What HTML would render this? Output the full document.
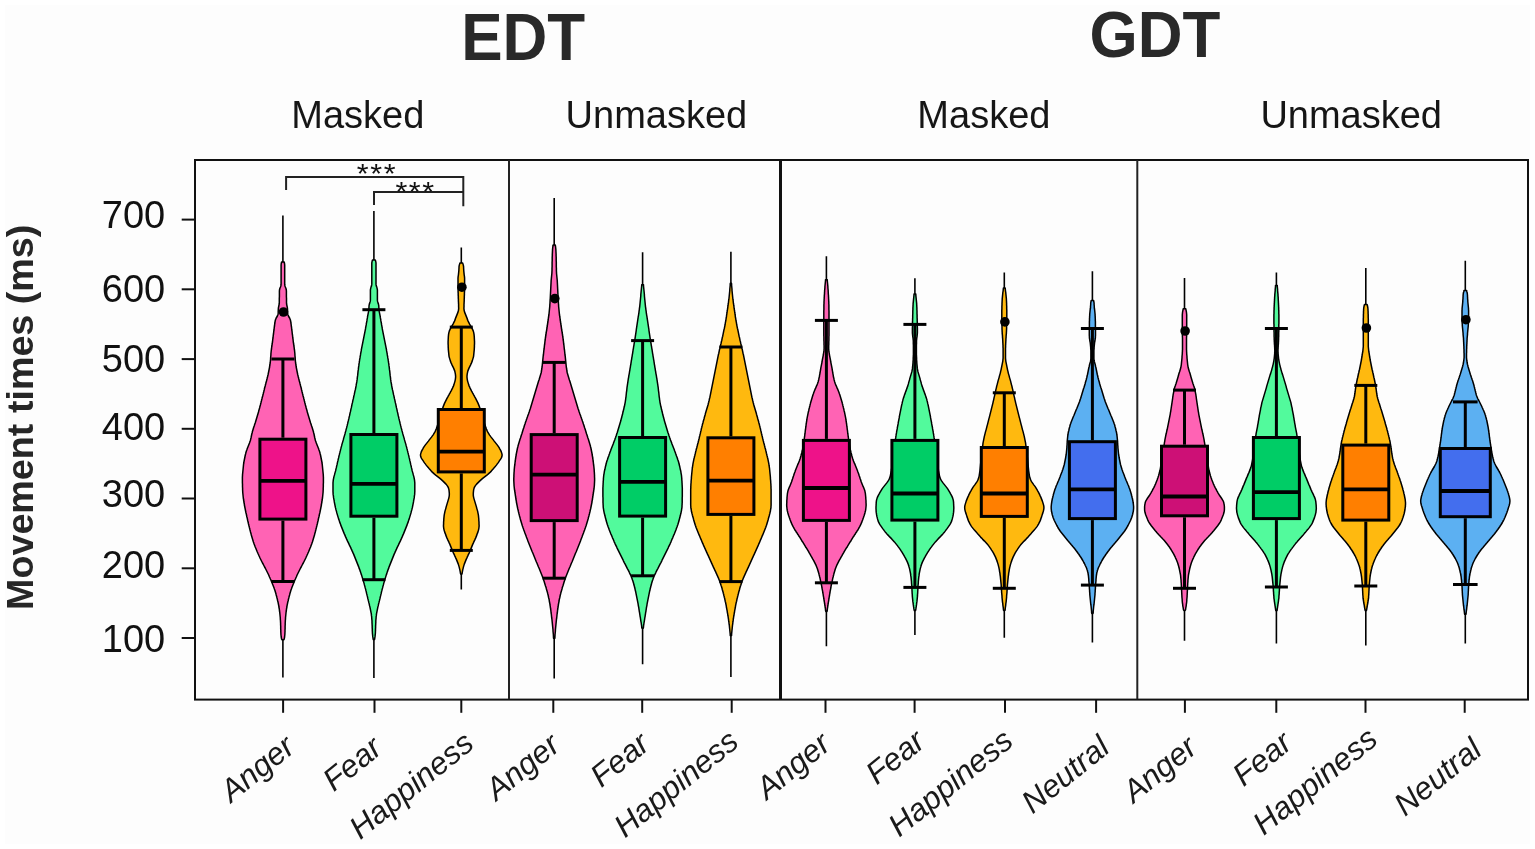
<!DOCTYPE html>
<html><head><meta charset="utf-8"><title>Movement times violin plot</title>
<style>html,body{margin:0;padding:0;background:#ffffff;overflow:hidden;}svg{display:block;}</style>
</head><body>
<svg width="1535" height="849" viewBox="0 0 1535 849" font-family="'Liberation Sans', sans-serif">
<rect x="0" y="0" width="1535" height="849" fill="#ffffff"/>
<rect x="5" y="5" width="1525" height="839" fill="#fdfdfd"/>
<text transform="translate(523.2,59.6) scale(1,1.07)" font-size="62" font-weight="bold" fill="#292929" text-anchor="middle">EDT</text>
<text transform="translate(1155,56.6) scale(1,1.055)" font-size="62" font-weight="bold" fill="#292929" text-anchor="middle">GDT</text>
<text x="357.8" y="127.8" font-size="38" fill="#161616" text-anchor="middle">Masked</text>
<text x="656.4" y="127.8" font-size="38" fill="#161616" text-anchor="middle">Unmasked</text>
<text x="983.9" y="127.8" font-size="38" fill="#161616" text-anchor="middle">Masked</text>
<text x="1351.2" y="127.8" font-size="38" fill="#161616" text-anchor="middle">Unmasked</text>
<text transform="translate(33.4,417.3) rotate(-90)" font-size="37.7" font-weight="bold" fill="#262626" text-anchor="middle">Movement times (ms)</text>
<line x1="181.7" y1="638.0" x2="195" y2="638.0" stroke="#111" stroke-width="2"/>
<text transform="translate(165.2,652.1) scale(1,1.03)" font-size="38" fill="#111" text-anchor="end">100</text>
<line x1="181.7" y1="568.3" x2="195" y2="568.3" stroke="#111" stroke-width="2"/>
<text transform="translate(165.2,577.6) scale(1,1.03)" font-size="38" fill="#111" text-anchor="end">200</text>
<line x1="181.7" y1="498.5" x2="195" y2="498.5" stroke="#111" stroke-width="2"/>
<text transform="translate(165.2,506.5) scale(1,1.03)" font-size="38" fill="#111" text-anchor="end">300</text>
<line x1="181.7" y1="428.8" x2="195" y2="428.8" stroke="#111" stroke-width="2"/>
<text transform="translate(165.2,440.4) scale(1,1.03)" font-size="38" fill="#111" text-anchor="end">400</text>
<line x1="181.7" y1="359.1" x2="195" y2="359.1" stroke="#111" stroke-width="2"/>
<text transform="translate(165.2,372.4) scale(1,1.03)" font-size="38" fill="#111" text-anchor="end">500</text>
<line x1="181.7" y1="289.3" x2="195" y2="289.3" stroke="#111" stroke-width="2"/>
<text transform="translate(165.2,302.4) scale(1,1.03)" font-size="38" fill="#111" text-anchor="end">600</text>
<line x1="181.7" y1="219.6" x2="195" y2="219.6" stroke="#111" stroke-width="2"/>
<text transform="translate(165.2,228.1) scale(1,1.03)" font-size="38" fill="#111" text-anchor="end">700</text>
<line x1="282.9" y1="215.6" x2="282.9" y2="677.5" stroke="#000" stroke-width="1.6"/>
<path d="M284.2,262.0 L284.4,263.0 L284.6,264.0 L284.7,265.0 L284.7,266.0 L284.7,267.0 L284.7,268.0 L284.7,269.0 L284.7,270.0 L284.7,271.0 L284.7,272.0 L284.7,273.0 L284.7,274.0 L284.7,275.0 L284.7,276.0 L284.7,277.0 L284.7,278.0 L284.7,279.0 L284.7,280.0 L284.7,281.0 L284.7,282.0 L284.7,283.0 L284.7,284.0 L284.8,285.0 L285.0,286.0 L285.3,287.0 L285.8,288.0 L286.1,289.0 L286.3,290.0 L286.4,291.0 L286.4,292.0 L286.4,293.0 L286.4,294.0 L286.4,295.0 L286.4,296.0 L286.4,297.0 L286.5,298.0 L286.5,299.0 L286.5,300.0 L286.5,301.0 L286.5,302.0 L286.5,303.0 L286.6,304.0 L286.8,305.0 L287.0,306.0 L287.2,307.0 L287.4,308.0 L287.5,309.0 L287.5,310.0 L287.6,311.0 L287.6,312.0 L287.6,313.0 L287.7,314.0 L288.0,315.0 L288.4,316.0 L289.0,317.0 L289.6,318.0 L290.0,319.0 L290.4,320.0 L290.6,321.0 L290.8,322.0 L290.9,323.0 L291.1,324.0 L291.2,325.0 L291.3,326.0 L291.5,327.0 L291.6,328.0 L291.7,329.0 L291.8,330.0 L292.0,331.0 L292.1,332.0 L292.2,333.0 L292.3,334.0 L292.5,335.0 L292.6,336.0 L292.7,337.0 L292.8,338.0 L293.0,339.0 L293.1,340.0 L293.2,341.0 L293.3,342.0 L293.5,343.0 L293.6,344.0 L293.8,345.0 L293.9,346.0 L294.1,347.0 L294.2,348.0 L294.3,349.0 L294.5,350.0 L294.6,351.0 L294.7,352.0 L294.8,353.0 L294.9,354.0 L294.9,355.0 L295.0,356.0 L295.1,357.0 L295.2,358.0 L295.2,359.0 L295.3,360.0 L295.4,361.0 L295.5,362.0 L295.6,363.0 L295.8,364.0 L295.9,365.0 L296.1,366.0 L296.2,367.0 L296.4,368.0 L296.6,369.0 L296.8,370.0 L297.0,371.0 L297.2,372.0 L297.4,373.0 L297.6,374.0 L297.8,375.0 L298.1,376.0 L298.3,377.0 L298.6,378.0 L298.8,379.0 L299.1,380.0 L299.3,381.0 L299.6,382.0 L299.9,383.0 L300.1,384.0 L300.4,385.0 L300.6,386.0 L300.9,387.0 L301.2,388.0 L301.4,389.0 L301.6,390.0 L301.9,391.0 L302.1,392.0 L302.4,393.0 L302.6,394.0 L302.9,395.0 L303.1,396.0 L303.4,397.0 L303.7,398.0 L303.9,399.0 L304.2,400.0 L304.4,401.0 L304.7,402.0 L304.9,403.0 L305.2,404.0 L305.4,405.0 L305.7,406.0 L306.0,407.0 L306.2,408.0 L306.5,409.0 L306.8,410.0 L307.1,411.0 L307.3,412.0 L307.6,413.0 L307.9,414.0 L308.2,415.0 L308.5,416.0 L308.8,417.0 L309.1,418.0 L309.4,419.0 L309.7,420.0 L310.0,421.0 L310.3,422.0 L310.6,423.0 L311.0,424.0 L311.3,425.0 L311.6,426.0 L312.0,427.0 L312.3,428.0 L312.6,429.0 L312.9,430.0 L313.2,431.0 L313.5,432.0 L313.7,433.0 L314.0,434.0 L314.2,435.0 L314.4,436.0 L314.6,437.0 L314.8,438.0 L315.1,439.0 L315.3,440.0 L315.6,441.0 L316.0,442.0 L316.3,443.0 L316.7,444.0 L317.1,445.0 L317.5,446.0 L317.9,447.0 L318.3,448.0 L318.7,449.0 L319.0,450.0 L319.4,451.0 L319.7,452.0 L320.0,453.0 L320.2,454.0 L320.5,455.0 L320.7,456.0 L320.9,457.0 L321.1,458.0 L321.3,459.0 L321.5,460.0 L321.7,461.0 L321.9,462.0 L322.0,463.0 L322.2,464.0 L322.3,465.0 L322.4,466.0 L322.5,467.0 L322.6,468.0 L322.7,469.0 L322.8,470.0 L322.9,471.0 L323.0,472.0 L323.1,473.0 L323.2,474.0 L323.3,475.0 L323.3,476.0 L323.4,477.0 L323.4,478.0 L323.4,479.0 L323.4,480.0 L323.4,481.0 L323.4,482.0 L323.4,483.0 L323.3,484.0 L323.3,485.0 L323.3,486.0 L323.3,487.0 L323.2,488.0 L323.2,489.0 L323.2,490.0 L323.1,491.0 L323.1,492.0 L323.0,493.0 L322.9,494.0 L322.8,495.0 L322.7,496.0 L322.6,497.0 L322.5,498.0 L322.3,499.0 L322.2,500.0 L322.0,501.0 L321.9,502.0 L321.7,503.0 L321.5,504.0 L321.4,505.0 L321.2,506.0 L321.0,507.0 L320.8,508.0 L320.6,509.0 L320.4,510.0 L320.2,511.0 L320.0,512.0 L319.8,513.0 L319.5,514.0 L319.3,515.0 L319.1,516.0 L318.9,517.0 L318.6,518.0 L318.4,519.0 L318.2,520.0 L318.0,521.0 L317.7,522.0 L317.5,523.0 L317.3,524.0 L317.0,525.0 L316.8,526.0 L316.5,527.0 L316.3,528.0 L316.0,529.0 L315.8,530.0 L315.5,531.0 L315.3,532.0 L315.0,533.0 L314.7,534.0 L314.5,535.0 L314.2,536.0 L313.9,537.0 L313.6,538.0 L313.3,539.0 L313.0,540.0 L312.7,541.0 L312.4,542.0 L312.0,543.0 L311.7,544.0 L311.3,545.0 L310.9,546.0 L310.6,547.0 L310.1,548.0 L309.7,549.0 L309.3,550.0 L308.9,551.0 L308.5,552.0 L308.0,553.0 L307.6,554.0 L307.1,555.0 L306.7,556.0 L306.2,557.0 L305.8,558.0 L305.3,559.0 L304.8,560.0 L304.3,561.0 L303.8,562.0 L303.3,563.0 L302.7,564.0 L302.2,565.0 L301.7,566.0 L301.2,567.0 L300.6,568.0 L300.1,569.0 L299.6,570.0 L299.1,571.0 L298.6,572.0 L298.1,573.0 L297.6,574.0 L297.1,575.0 L296.7,576.0 L296.3,577.0 L295.8,578.0 L295.4,579.0 L294.9,580.0 L294.5,581.0 L294.1,582.0 L293.7,583.0 L293.3,584.0 L292.9,585.0 L292.5,586.0 L292.1,587.0 L291.7,588.0 L291.4,589.0 L291.0,590.0 L290.7,591.0 L290.4,592.0 L290.1,593.0 L289.8,594.0 L289.6,595.0 L289.3,596.0 L289.0,597.0 L288.8,598.0 L288.5,599.0 L288.3,600.0 L288.1,601.0 L287.8,602.0 L287.6,603.0 L287.4,604.0 L287.2,605.0 L287.0,606.0 L286.9,607.0 L286.7,608.0 L286.5,609.0 L286.4,610.0 L286.3,611.0 L286.1,612.0 L286.0,613.0 L285.9,614.0 L285.8,615.0 L285.7,616.0 L285.6,617.0 L285.5,618.0 L285.5,619.0 L285.4,620.0 L285.3,621.0 L285.3,622.0 L285.2,623.0 L285.2,624.0 L285.2,625.0 L285.1,626.0 L285.1,627.0 L285.1,628.0 L285.1,629.0 L285.0,630.0 L285.0,631.0 L285.0,632.0 L284.9,633.0 L284.9,634.0 L284.8,635.0 L284.7,636.0 L284.6,637.0 L284.4,638.0 L284.2,639.0 L283.7,639.8 L282.1,639.8 L281.6,639.0 L281.4,638.0 L281.2,637.0 L281.1,636.0 L281.0,635.0 L280.9,634.0 L280.9,633.0 L280.8,632.0 L280.8,631.0 L280.8,630.0 L280.7,629.0 L280.7,628.0 L280.7,627.0 L280.7,626.0 L280.6,625.0 L280.6,624.0 L280.6,623.0 L280.5,622.0 L280.5,621.0 L280.4,620.0 L280.3,619.0 L280.3,618.0 L280.2,617.0 L280.1,616.0 L280.0,615.0 L279.9,614.0 L279.8,613.0 L279.7,612.0 L279.5,611.0 L279.4,610.0 L279.3,609.0 L279.1,608.0 L278.9,607.0 L278.8,606.0 L278.6,605.0 L278.4,604.0 L278.2,603.0 L278.0,602.0 L277.7,601.0 L277.5,600.0 L277.3,599.0 L277.0,598.0 L276.8,597.0 L276.5,596.0 L276.2,595.0 L276.0,594.0 L275.7,593.0 L275.4,592.0 L275.1,591.0 L274.8,590.0 L274.4,589.0 L274.1,588.0 L273.7,587.0 L273.3,586.0 L272.9,585.0 L272.5,584.0 L272.1,583.0 L271.7,582.0 L271.3,581.0 L270.9,580.0 L270.4,579.0 L270.0,578.0 L269.5,577.0 L269.1,576.0 L268.7,575.0 L268.2,574.0 L267.7,573.0 L267.2,572.0 L266.7,571.0 L266.2,570.0 L265.7,569.0 L265.2,568.0 L264.6,567.0 L264.1,566.0 L263.6,565.0 L263.1,564.0 L262.5,563.0 L262.0,562.0 L261.5,561.0 L261.0,560.0 L260.5,559.0 L260.0,558.0 L259.6,557.0 L259.1,556.0 L258.7,555.0 L258.2,554.0 L257.8,553.0 L257.3,552.0 L256.9,551.0 L256.5,550.0 L256.1,549.0 L255.7,548.0 L255.2,547.0 L254.9,546.0 L254.5,545.0 L254.1,544.0 L253.8,543.0 L253.4,542.0 L253.1,541.0 L252.8,540.0 L252.5,539.0 L252.2,538.0 L251.9,537.0 L251.6,536.0 L251.3,535.0 L251.1,534.0 L250.8,533.0 L250.5,532.0 L250.3,531.0 L250.0,530.0 L249.8,529.0 L249.5,528.0 L249.3,527.0 L249.0,526.0 L248.8,525.0 L248.5,524.0 L248.3,523.0 L248.1,522.0 L247.8,521.0 L247.6,520.0 L247.4,519.0 L247.2,518.0 L246.9,517.0 L246.7,516.0 L246.5,515.0 L246.3,514.0 L246.0,513.0 L245.8,512.0 L245.6,511.0 L245.4,510.0 L245.2,509.0 L245.0,508.0 L244.8,507.0 L244.6,506.0 L244.4,505.0 L244.3,504.0 L244.1,503.0 L243.9,502.0 L243.8,501.0 L243.6,500.0 L243.5,499.0 L243.3,498.0 L243.2,497.0 L243.1,496.0 L243.0,495.0 L242.9,494.0 L242.8,493.0 L242.7,492.0 L242.7,491.0 L242.6,490.0 L242.6,489.0 L242.6,488.0 L242.5,487.0 L242.5,486.0 L242.5,485.0 L242.5,484.0 L242.4,483.0 L242.4,482.0 L242.4,481.0 L242.4,480.0 L242.4,479.0 L242.4,478.0 L242.4,477.0 L242.5,476.0 L242.5,475.0 L242.6,474.0 L242.7,473.0 L242.8,472.0 L242.9,471.0 L243.0,470.0 L243.1,469.0 L243.2,468.0 L243.3,467.0 L243.4,466.0 L243.5,465.0 L243.6,464.0 L243.8,463.0 L243.9,462.0 L244.1,461.0 L244.3,460.0 L244.5,459.0 L244.7,458.0 L244.9,457.0 L245.1,456.0 L245.3,455.0 L245.6,454.0 L245.8,453.0 L246.1,452.0 L246.4,451.0 L246.8,450.0 L247.1,449.0 L247.5,448.0 L247.9,447.0 L248.3,446.0 L248.7,445.0 L249.1,444.0 L249.5,443.0 L249.8,442.0 L250.2,441.0 L250.5,440.0 L250.7,439.0 L251.0,438.0 L251.2,437.0 L251.4,436.0 L251.6,435.0 L251.8,434.0 L252.1,433.0 L252.3,432.0 L252.6,431.0 L252.9,430.0 L253.2,429.0 L253.5,428.0 L253.8,427.0 L254.2,426.0 L254.5,425.0 L254.8,424.0 L255.2,423.0 L255.5,422.0 L255.8,421.0 L256.1,420.0 L256.4,419.0 L256.7,418.0 L257.0,417.0 L257.3,416.0 L257.6,415.0 L257.9,414.0 L258.2,413.0 L258.5,412.0 L258.7,411.0 L259.0,410.0 L259.3,409.0 L259.6,408.0 L259.8,407.0 L260.1,406.0 L260.4,405.0 L260.6,404.0 L260.9,403.0 L261.1,402.0 L261.4,401.0 L261.6,400.0 L261.9,399.0 L262.1,398.0 L262.4,397.0 L262.7,396.0 L262.9,395.0 L263.2,394.0 L263.4,393.0 L263.7,392.0 L263.9,391.0 L264.2,390.0 L264.4,389.0 L264.6,388.0 L264.9,387.0 L265.2,386.0 L265.4,385.0 L265.7,384.0 L265.9,383.0 L266.2,382.0 L266.5,381.0 L266.7,380.0 L267.0,379.0 L267.2,378.0 L267.5,377.0 L267.7,376.0 L268.0,375.0 L268.2,374.0 L268.4,373.0 L268.6,372.0 L268.8,371.0 L269.0,370.0 L269.2,369.0 L269.4,368.0 L269.6,367.0 L269.7,366.0 L269.9,365.0 L270.0,364.0 L270.2,363.0 L270.3,362.0 L270.4,361.0 L270.5,360.0 L270.6,359.0 L270.6,358.0 L270.7,357.0 L270.8,356.0 L270.9,355.0 L270.9,354.0 L271.0,353.0 L271.1,352.0 L271.2,351.0 L271.3,350.0 L271.5,349.0 L271.6,348.0 L271.7,347.0 L271.9,346.0 L272.0,345.0 L272.2,344.0 L272.3,343.0 L272.5,342.0 L272.6,341.0 L272.7,340.0 L272.8,339.0 L273.0,338.0 L273.1,337.0 L273.2,336.0 L273.3,335.0 L273.5,334.0 L273.6,333.0 L273.7,332.0 L273.8,331.0 L274.0,330.0 L274.1,329.0 L274.2,328.0 L274.3,327.0 L274.5,326.0 L274.6,325.0 L274.7,324.0 L274.9,323.0 L275.0,322.0 L275.2,321.0 L275.4,320.0 L275.8,319.0 L276.2,318.0 L276.8,317.0 L277.4,316.0 L277.8,315.0 L278.1,314.0 L278.2,313.0 L278.2,312.0 L278.2,311.0 L278.3,310.0 L278.3,309.0 L278.4,308.0 L278.6,307.0 L278.8,306.0 L279.0,305.0 L279.2,304.0 L279.3,303.0 L279.3,302.0 L279.3,301.0 L279.3,300.0 L279.3,299.0 L279.3,298.0 L279.4,297.0 L279.4,296.0 L279.4,295.0 L279.4,294.0 L279.4,293.0 L279.4,292.0 L279.4,291.0 L279.5,290.0 L279.7,289.0 L280.0,288.0 L280.5,287.0 L280.8,286.0 L281.0,285.0 L281.1,284.0 L281.1,283.0 L281.1,282.0 L281.1,281.0 L281.1,280.0 L281.1,279.0 L281.1,278.0 L281.1,277.0 L281.1,276.0 L281.1,275.0 L281.1,274.0 L281.1,273.0 L281.1,272.0 L281.1,271.0 L281.1,270.0 L281.1,269.0 L281.1,268.0 L281.1,267.0 L281.1,266.0 L281.1,265.0 L281.2,264.0 L281.4,263.0 L281.6,262.0 Z" fill="#ff63b4" stroke="#000" stroke-width="1.5" stroke-linejoin="round"/>
<line x1="282.9" y1="359.0" x2="282.9" y2="437.7" stroke="#000" stroke-width="3"/>
<line x1="282.9" y1="520.6" x2="282.9" y2="581.5" stroke="#000" stroke-width="3"/>
<line x1="271.4" y1="359.0" x2="294.4" y2="359.0" stroke="#000" stroke-width="3"/>
<line x1="271.4" y1="581.5" x2="294.4" y2="581.5" stroke="#000" stroke-width="3"/>
<rect x="259.9" y="439.2" width="46.0" height="79.9" fill="#ee1289" stroke="#000" stroke-width="3"/>
<line x1="259.9" y1="480.8" x2="305.9" y2="480.8" stroke="#000" stroke-width="3.8"/>
<circle cx="283.5" cy="312.0" r="4.8" fill="#000"/>
<line x1="373.9" y1="211.0" x2="373.9" y2="678.0" stroke="#000" stroke-width="1.6"/>
<path d="M375.3,259.9 L375.6,260.9 L375.8,261.9 L376.0,262.9 L376.0,263.9 L376.0,264.9 L376.0,265.9 L376.0,266.9 L376.0,267.9 L376.0,268.9 L376.0,269.9 L376.0,270.9 L376.0,271.9 L376.0,272.9 L376.0,273.9 L376.0,274.9 L376.0,275.9 L376.0,276.9 L376.0,277.9 L376.0,278.9 L376.0,279.9 L376.0,280.9 L376.0,281.9 L376.0,282.9 L376.0,283.9 L376.1,284.9 L376.3,285.9 L376.7,286.9 L377.0,287.9 L377.2,288.9 L377.4,289.9 L377.4,290.9 L377.4,291.9 L377.4,292.9 L377.4,293.9 L377.4,294.9 L377.4,295.9 L377.4,296.9 L377.4,297.9 L377.4,298.9 L377.4,299.9 L377.5,300.9 L377.7,301.9 L378.0,302.9 L378.4,303.9 L378.6,304.9 L378.8,305.9 L378.8,306.9 L378.9,307.9 L378.9,308.9 L379.0,309.9 L379.2,310.9 L379.3,311.9 L379.5,312.9 L379.7,313.9 L379.9,314.9 L380.1,315.9 L380.3,316.9 L380.4,317.9 L380.6,318.9 L380.8,319.9 L380.9,320.9 L381.1,321.9 L381.3,322.9 L381.5,323.9 L381.6,324.9 L381.8,325.9 L382.0,326.9 L382.2,327.9 L382.3,328.9 L382.5,329.9 L382.7,330.9 L382.9,331.9 L383.1,332.9 L383.3,333.9 L383.5,334.9 L383.7,335.9 L383.9,336.9 L384.1,337.9 L384.3,338.9 L384.5,339.9 L384.7,340.9 L384.9,341.9 L385.1,342.9 L385.3,343.9 L385.5,344.9 L385.7,345.9 L385.9,346.9 L386.1,347.9 L386.3,348.9 L386.5,349.9 L386.6,350.9 L386.8,351.9 L387.0,352.9 L387.2,353.9 L387.3,354.9 L387.5,355.9 L387.7,356.9 L387.8,357.9 L388.0,358.9 L388.2,359.9 L388.3,360.9 L388.5,361.9 L388.6,362.9 L388.8,363.9 L388.9,364.9 L389.0,365.9 L389.2,366.9 L389.3,367.9 L389.4,368.9 L389.5,369.9 L389.7,370.9 L389.8,371.9 L389.9,372.9 L390.0,373.9 L390.1,374.9 L390.2,375.9 L390.4,376.9 L390.5,377.9 L390.6,378.9 L390.7,379.9 L390.9,380.9 L391.0,381.9 L391.2,382.9 L391.4,383.9 L391.6,384.9 L391.7,385.9 L391.9,386.9 L392.1,387.9 L392.3,388.9 L392.5,389.9 L392.8,390.9 L393.0,391.9 L393.2,392.9 L393.4,393.9 L393.6,394.9 L393.9,395.9 L394.1,396.9 L394.3,397.9 L394.5,398.9 L394.8,399.9 L395.0,400.9 L395.2,401.9 L395.4,402.9 L395.7,403.9 L395.9,404.9 L396.1,405.9 L396.3,406.9 L396.5,407.9 L396.8,408.9 L397.0,409.9 L397.2,410.9 L397.4,411.9 L397.7,412.9 L397.9,413.9 L398.1,414.9 L398.3,415.9 L398.6,416.9 L398.8,417.9 L399.0,418.9 L399.3,419.9 L399.5,420.9 L399.8,421.9 L400.0,422.9 L400.2,423.9 L400.5,424.9 L400.7,425.9 L401.0,426.9 L401.2,427.9 L401.5,428.9 L401.8,429.9 L402.0,430.9 L402.3,431.9 L402.6,432.9 L402.8,433.9 L403.1,434.9 L403.4,435.9 L403.7,436.9 L404.0,437.9 L404.3,438.9 L404.5,439.9 L404.8,440.9 L405.1,441.9 L405.4,442.9 L405.7,443.9 L406.0,444.9 L406.2,445.9 L406.5,446.9 L406.8,447.9 L407.0,448.9 L407.3,449.9 L407.5,450.9 L407.8,451.9 L408.0,452.9 L408.3,453.9 L408.5,454.9 L408.8,455.9 L409.0,456.9 L409.2,457.9 L409.5,458.9 L409.7,459.9 L409.9,460.9 L410.2,461.9 L410.4,462.9 L410.6,463.9 L410.8,464.9 L411.1,465.9 L411.3,466.9 L411.5,467.9 L411.8,468.9 L412.0,469.9 L412.2,470.9 L412.5,471.9 L412.8,472.9 L413.1,473.9 L413.3,474.9 L413.6,475.9 L413.9,476.9 L414.1,477.9 L414.3,478.9 L414.5,479.9 L414.6,480.9 L414.7,481.9 L414.8,482.9 L414.8,483.9 L414.8,484.9 L414.8,485.9 L414.8,486.9 L414.8,487.9 L414.8,488.9 L414.8,489.9 L414.8,490.9 L414.8,491.9 L414.7,492.9 L414.7,493.9 L414.6,494.9 L414.4,495.9 L414.3,496.9 L414.2,497.9 L414.0,498.9 L413.8,499.9 L413.6,500.9 L413.5,501.9 L413.3,502.9 L413.1,503.9 L412.9,504.9 L412.7,505.9 L412.5,506.9 L412.3,507.9 L412.0,508.9 L411.8,509.9 L411.5,510.9 L411.2,511.9 L411.0,512.9 L410.7,513.9 L410.4,514.9 L410.1,515.9 L409.8,516.9 L409.5,517.9 L409.2,518.9 L408.8,519.9 L408.5,520.9 L408.2,521.9 L407.8,522.9 L407.4,523.9 L407.1,524.9 L406.7,525.9 L406.3,526.9 L405.9,527.9 L405.5,528.9 L405.1,529.9 L404.7,530.9 L404.3,531.9 L403.9,532.9 L403.5,533.9 L403.0,534.9 L402.6,535.9 L402.2,536.9 L401.7,537.9 L401.3,538.9 L400.8,539.9 L400.4,540.9 L399.9,541.9 L399.4,542.9 L398.9,543.9 L398.5,544.9 L398.0,545.9 L397.5,546.9 L397.0,547.9 L396.6,548.9 L396.1,549.9 L395.7,550.9 L395.2,551.9 L394.8,552.9 L394.3,553.9 L393.9,554.9 L393.5,555.9 L393.1,556.9 L392.7,557.9 L392.3,558.9 L391.9,559.9 L391.5,560.9 L391.1,561.9 L390.7,562.9 L390.3,563.9 L389.9,564.9 L389.5,565.9 L389.1,566.9 L388.8,567.9 L388.4,568.9 L388.0,569.9 L387.7,570.9 L387.3,571.9 L387.0,572.9 L386.7,573.9 L386.3,574.9 L386.0,575.9 L385.7,576.9 L385.4,577.9 L385.1,578.9 L384.8,579.9 L384.5,580.9 L384.2,581.9 L383.9,582.9 L383.6,583.9 L383.4,584.9 L383.1,585.9 L382.8,586.9 L382.6,587.9 L382.3,588.9 L382.0,589.9 L381.8,590.9 L381.5,591.9 L381.3,592.9 L381.1,593.9 L380.8,594.9 L380.6,595.9 L380.3,596.9 L380.1,597.9 L379.9,598.9 L379.6,599.9 L379.4,600.9 L379.1,601.9 L378.9,602.9 L378.6,603.9 L378.4,604.9 L378.2,605.9 L377.9,606.9 L377.7,607.9 L377.5,608.9 L377.3,609.9 L377.1,610.9 L376.9,611.9 L376.7,612.9 L376.5,613.9 L376.4,614.9 L376.3,615.9 L376.1,616.9 L376.1,617.9 L376.0,618.9 L375.9,619.9 L375.8,620.9 L375.8,621.9 L375.8,622.9 L375.7,623.9 L375.7,624.9 L375.6,625.9 L375.6,626.9 L375.6,627.9 L375.5,628.9 L375.5,629.9 L375.5,630.9 L375.4,631.9 L375.4,632.9 L375.3,633.9 L375.2,634.9 L375.1,635.9 L375.0,636.9 L374.8,637.9 L374.7,638.9 L374.5,639.5 L373.3,639.5 L373.1,638.9 L373.0,637.9 L372.8,636.9 L372.7,635.9 L372.6,634.9 L372.5,633.9 L372.4,632.9 L372.4,631.9 L372.3,630.9 L372.3,629.9 L372.3,628.9 L372.2,627.9 L372.2,626.9 L372.2,625.9 L372.1,624.9 L372.1,623.9 L372.0,622.9 L372.0,621.9 L372.0,620.9 L371.9,619.9 L371.8,618.9 L371.7,617.9 L371.7,616.9 L371.5,615.9 L371.4,614.9 L371.3,613.9 L371.1,612.9 L370.9,611.9 L370.7,610.9 L370.5,609.9 L370.3,608.9 L370.1,607.9 L369.9,606.9 L369.6,605.9 L369.4,604.9 L369.2,603.9 L368.9,602.9 L368.7,601.9 L368.4,600.9 L368.2,599.9 L367.9,598.9 L367.7,597.9 L367.5,596.9 L367.2,595.9 L367.0,594.9 L366.7,593.9 L366.5,592.9 L366.3,591.9 L366.0,590.9 L365.8,589.9 L365.5,588.9 L365.2,587.9 L365.0,586.9 L364.7,585.9 L364.4,584.9 L364.2,583.9 L363.9,582.9 L363.6,581.9 L363.3,580.9 L363.0,579.9 L362.7,578.9 L362.4,577.9 L362.1,576.9 L361.8,575.9 L361.5,574.9 L361.1,573.9 L360.8,572.9 L360.5,571.9 L360.1,570.9 L359.8,569.9 L359.4,568.9 L359.0,567.9 L358.7,566.9 L358.3,565.9 L357.9,564.9 L357.5,563.9 L357.1,562.9 L356.7,561.9 L356.3,560.9 L355.9,559.9 L355.5,558.9 L355.1,557.9 L354.7,556.9 L354.3,555.9 L353.9,554.9 L353.5,553.9 L353.0,552.9 L352.6,551.9 L352.1,550.9 L351.7,549.9 L351.2,548.9 L350.8,547.9 L350.3,546.9 L349.8,545.9 L349.3,544.9 L348.9,543.9 L348.4,542.9 L347.9,541.9 L347.4,540.9 L347.0,539.9 L346.5,538.9 L346.1,537.9 L345.6,536.9 L345.2,535.9 L344.8,534.9 L344.3,533.9 L343.9,532.9 L343.5,531.9 L343.1,530.9 L342.7,529.9 L342.3,528.9 L341.9,527.9 L341.5,526.9 L341.1,525.9 L340.7,524.9 L340.4,523.9 L340.0,522.9 L339.6,521.9 L339.3,520.9 L339.0,519.9 L338.6,518.9 L338.3,517.9 L338.0,516.9 L337.7,515.9 L337.4,514.9 L337.1,513.9 L336.8,512.9 L336.6,511.9 L336.3,510.9 L336.0,509.9 L335.8,508.9 L335.5,507.9 L335.3,506.9 L335.1,505.9 L334.9,504.9 L334.7,503.9 L334.5,502.9 L334.3,501.9 L334.2,500.9 L334.0,499.9 L333.8,498.9 L333.6,497.9 L333.5,496.9 L333.4,495.9 L333.2,494.9 L333.1,493.9 L333.1,492.9 L333.0,491.9 L333.0,490.9 L333.0,489.9 L333.0,488.9 L333.0,487.9 L333.0,486.9 L333.0,485.9 L333.0,484.9 L333.0,483.9 L333.0,482.9 L333.1,481.9 L333.2,480.9 L333.3,479.9 L333.5,478.9 L333.7,477.9 L333.9,476.9 L334.2,475.9 L334.5,474.9 L334.7,473.9 L335.0,472.9 L335.3,471.9 L335.6,470.9 L335.8,469.9 L336.0,468.9 L336.3,467.9 L336.5,466.9 L336.7,465.9 L337.0,464.9 L337.2,463.9 L337.4,462.9 L337.6,461.9 L337.9,460.9 L338.1,459.9 L338.3,458.9 L338.6,457.9 L338.8,456.9 L339.0,455.9 L339.3,454.9 L339.5,453.9 L339.8,452.9 L340.0,451.9 L340.3,450.9 L340.5,449.9 L340.8,448.9 L341.0,447.9 L341.3,446.9 L341.6,445.9 L341.8,444.9 L342.1,443.9 L342.4,442.9 L342.7,441.9 L343.0,440.9 L343.3,439.9 L343.5,438.9 L343.8,437.9 L344.1,436.9 L344.4,435.9 L344.7,434.9 L345.0,433.9 L345.2,432.9 L345.5,431.9 L345.8,430.9 L346.0,429.9 L346.3,428.9 L346.6,427.9 L346.8,426.9 L347.1,425.9 L347.3,424.9 L347.6,423.9 L347.8,422.9 L348.0,421.9 L348.3,420.9 L348.5,419.9 L348.8,418.9 L349.0,417.9 L349.2,416.9 L349.5,415.9 L349.7,414.9 L349.9,413.9 L350.1,412.9 L350.4,411.9 L350.6,410.9 L350.8,409.9 L351.0,408.9 L351.3,407.9 L351.5,406.9 L351.7,405.9 L351.9,404.9 L352.1,403.9 L352.4,402.9 L352.6,401.9 L352.8,400.9 L353.0,399.9 L353.3,398.9 L353.5,397.9 L353.7,396.9 L353.9,395.9 L354.2,394.9 L354.4,393.9 L354.6,392.9 L354.8,391.9 L355.0,390.9 L355.3,389.9 L355.5,388.9 L355.7,387.9 L355.9,386.9 L356.1,385.9 L356.2,384.9 L356.4,383.9 L356.6,382.9 L356.8,381.9 L356.9,380.9 L357.1,379.9 L357.2,378.9 L357.3,377.9 L357.4,376.9 L357.6,375.9 L357.7,374.9 L357.8,373.9 L357.9,372.9 L358.0,371.9 L358.1,370.9 L358.3,369.9 L358.4,368.9 L358.5,367.9 L358.6,366.9 L358.8,365.9 L358.9,364.9 L359.0,363.9 L359.2,362.9 L359.3,361.9 L359.5,360.9 L359.6,359.9 L359.8,358.9 L360.0,357.9 L360.1,356.9 L360.3,355.9 L360.5,354.9 L360.6,353.9 L360.8,352.9 L361.0,351.9 L361.2,350.9 L361.3,349.9 L361.5,348.9 L361.7,347.9 L361.9,346.9 L362.1,345.9 L362.3,344.9 L362.5,343.9 L362.7,342.9 L362.9,341.9 L363.1,340.9 L363.3,339.9 L363.5,338.9 L363.7,337.9 L363.9,336.9 L364.1,335.9 L364.3,334.9 L364.5,333.9 L364.7,332.9 L364.9,331.9 L365.1,330.9 L365.3,329.9 L365.5,328.9 L365.6,327.9 L365.8,326.9 L366.0,325.9 L366.2,324.9 L366.3,323.9 L366.5,322.9 L366.7,321.9 L366.9,320.9 L367.0,319.9 L367.2,318.9 L367.4,317.9 L367.5,316.9 L367.7,315.9 L367.9,314.9 L368.1,313.9 L368.3,312.9 L368.5,311.9 L368.6,310.9 L368.8,309.9 L368.9,308.9 L368.9,307.9 L369.0,306.9 L369.0,305.9 L369.2,304.9 L369.4,303.9 L369.8,302.9 L370.1,301.9 L370.3,300.9 L370.4,299.9 L370.4,298.9 L370.4,297.9 L370.4,296.9 L370.4,295.9 L370.4,294.9 L370.4,293.9 L370.4,292.9 L370.4,291.9 L370.4,290.9 L370.4,289.9 L370.6,288.9 L370.8,287.9 L371.1,286.9 L371.5,285.9 L371.7,284.9 L371.8,283.9 L371.8,282.9 L371.8,281.9 L371.8,280.9 L371.8,279.9 L371.8,278.9 L371.8,277.9 L371.8,276.9 L371.8,275.9 L371.8,274.9 L371.8,273.9 L371.8,272.9 L371.8,271.9 L371.8,270.9 L371.8,269.9 L371.8,268.9 L371.8,267.9 L371.8,266.9 L371.8,265.9 L371.8,264.9 L371.8,263.9 L371.8,262.9 L372.0,261.9 L372.2,260.9 L372.5,259.9 Z" fill="#52fa9c" stroke="#000" stroke-width="1.5" stroke-linejoin="round"/>
<line x1="373.9" y1="309.7" x2="373.9" y2="433.0" stroke="#000" stroke-width="3"/>
<line x1="373.9" y1="517.7" x2="373.9" y2="579.7" stroke="#000" stroke-width="3"/>
<line x1="362.4" y1="309.7" x2="385.4" y2="309.7" stroke="#000" stroke-width="3"/>
<line x1="362.4" y1="579.7" x2="385.4" y2="579.7" stroke="#000" stroke-width="3"/>
<rect x="350.9" y="434.5" width="46.0" height="81.7" fill="#00cd66" stroke="#000" stroke-width="3"/>
<line x1="350.9" y1="483.8" x2="396.9" y2="483.8" stroke="#000" stroke-width="3.8"/>
<line x1="461.3" y1="247.4" x2="461.3" y2="589.4" stroke="#000" stroke-width="1.6"/>
<path d="M462.7,263.1 L463.0,264.1 L463.3,265.1 L463.5,266.1 L463.6,267.1 L463.6,268.1 L463.7,269.1 L463.7,270.1 L463.8,271.1 L463.9,272.1 L464.0,273.1 L464.1,274.1 L464.2,275.1 L464.4,276.1 L464.5,277.1 L464.6,278.1 L464.6,279.1 L464.6,280.1 L464.6,281.1 L464.6,282.1 L464.6,283.1 L464.6,284.1 L464.6,285.1 L464.6,286.1 L464.6,287.1 L464.6,288.1 L464.6,289.1 L464.5,290.1 L464.5,291.1 L464.5,292.1 L464.4,293.1 L464.4,294.1 L464.4,295.1 L464.3,296.1 L464.3,297.1 L464.3,298.1 L464.2,299.1 L464.2,300.1 L464.2,301.1 L464.1,302.1 L464.1,303.1 L464.0,304.1 L464.0,305.1 L464.0,306.1 L464.0,307.1 L463.9,308.1 L464.0,309.1 L464.1,310.1 L464.3,311.1 L464.6,312.1 L465.0,313.1 L465.4,314.1 L465.8,315.1 L466.2,316.1 L466.6,317.1 L467.0,318.1 L467.3,319.1 L467.7,320.1 L468.1,321.1 L468.6,322.1 L469.1,323.1 L469.6,324.1 L470.2,325.1 L470.8,326.1 L471.3,327.1 L471.9,328.1 L472.4,329.1 L472.9,330.1 L473.3,331.1 L473.6,332.1 L473.8,333.1 L474.0,334.1 L474.1,335.1 L474.2,336.1 L474.3,337.1 L474.3,338.1 L474.4,339.1 L474.4,340.1 L474.5,341.1 L474.5,342.1 L474.5,343.1 L474.5,344.1 L474.4,345.1 L474.4,346.1 L474.4,347.1 L474.3,348.1 L474.3,349.1 L474.2,350.1 L474.1,351.1 L474.0,352.1 L473.9,353.1 L473.8,354.1 L473.7,355.1 L473.6,356.1 L473.4,357.1 L473.1,358.1 L472.8,359.1 L472.5,360.1 L472.2,361.1 L471.8,362.1 L471.4,363.1 L470.9,364.1 L470.5,365.1 L470.0,366.1 L469.5,367.1 L469.0,368.1 L468.6,369.1 L468.2,370.1 L467.8,371.1 L467.6,372.1 L467.4,373.1 L467.2,374.1 L467.1,375.1 L467.0,376.1 L467.0,377.1 L467.1,378.1 L467.2,379.1 L467.4,380.1 L467.6,381.1 L467.9,382.1 L468.2,383.1 L468.5,384.1 L468.8,385.1 L469.2,386.1 L469.7,387.1 L470.1,388.1 L470.6,389.1 L471.1,390.1 L471.6,391.1 L472.2,392.1 L472.7,393.1 L473.3,394.1 L473.8,395.1 L474.4,396.1 L474.9,397.1 L475.5,398.1 L476.0,399.1 L476.5,400.1 L477.0,401.1 L477.5,402.1 L478.0,403.1 L478.4,404.1 L478.8,405.1 L479.2,406.1 L479.5,407.1 L479.9,408.1 L480.2,409.1 L480.5,410.1 L480.7,411.1 L481.0,412.1 L481.3,413.1 L481.6,414.1 L481.9,415.1 L482.1,416.1 L482.4,417.1 L482.7,418.1 L483.0,419.1 L483.3,420.1 L483.7,421.1 L484.0,422.1 L484.3,423.1 L484.6,424.1 L485.0,425.1 L485.3,426.1 L485.7,427.1 L486.0,428.1 L486.4,429.1 L486.9,430.1 L487.3,431.1 L487.8,432.1 L488.4,433.1 L489.0,434.1 L489.6,435.1 L490.4,436.1 L491.1,437.1 L491.9,438.1 L492.7,439.1 L493.5,440.1 L494.2,441.1 L495.0,442.1 L495.8,443.1 L496.6,444.1 L497.4,445.1 L498.1,446.1 L498.8,447.1 L499.4,448.1 L499.9,449.1 L500.5,450.1 L501.0,451.1 L501.4,452.1 L501.7,453.1 L502.0,454.1 L502.1,455.1 L502.0,456.1 L501.7,457.1 L501.2,458.1 L500.6,459.1 L499.9,460.1 L499.2,461.1 L498.6,462.1 L497.9,463.1 L497.1,464.1 L496.4,465.1 L495.6,466.1 L494.8,467.1 L493.9,468.1 L493.1,469.1 L492.2,470.1 L491.3,471.1 L490.3,472.1 L489.2,473.1 L488.1,474.1 L486.9,475.1 L485.6,476.1 L484.3,477.1 L483.0,478.1 L481.8,479.1 L480.7,480.1 L479.6,481.1 L478.6,482.1 L477.6,483.1 L476.6,484.1 L475.8,485.1 L475.1,486.1 L474.5,487.1 L474.1,488.1 L473.8,489.1 L473.6,490.1 L473.5,491.1 L473.4,492.1 L473.3,493.1 L473.3,494.1 L473.3,495.1 L473.4,496.1 L473.6,497.1 L473.8,498.1 L474.1,499.1 L474.4,500.1 L474.7,501.1 L475.0,502.1 L475.3,503.1 L475.6,504.1 L475.9,505.1 L476.2,506.1 L476.5,507.1 L476.7,508.1 L477.0,509.1 L477.3,510.1 L477.6,511.1 L477.8,512.1 L478.0,513.1 L478.2,514.1 L478.4,515.1 L478.5,516.1 L478.6,517.1 L478.7,518.1 L478.8,519.1 L478.8,520.1 L478.9,521.1 L479.0,522.1 L479.0,523.1 L479.0,524.1 L479.1,525.1 L479.1,526.1 L479.0,527.1 L478.9,528.1 L478.7,529.1 L478.5,530.1 L478.2,531.1 L477.9,532.1 L477.5,533.1 L477.1,534.1 L476.8,535.1 L476.4,536.1 L476.0,537.1 L475.6,538.1 L475.1,539.1 L474.7,540.1 L474.2,541.1 L473.7,542.1 L473.3,543.1 L472.8,544.1 L472.4,545.1 L472.0,546.1 L471.6,547.1 L471.2,548.1 L470.8,549.1 L470.4,550.1 L470.0,551.1 L469.5,552.1 L469.1,553.1 L468.6,554.1 L468.1,555.1 L467.7,556.1 L467.2,557.1 L466.8,558.1 L466.3,559.1 L465.9,560.1 L465.5,561.1 L465.1,562.1 L464.7,563.1 L464.3,564.1 L464.0,565.1 L463.7,566.1 L463.4,567.1 L463.2,568.1 L462.9,569.1 L462.7,570.1 L462.5,571.1 L462.3,572.1 L462.2,573.1 L461.9,574.1 L460.7,574.1 L460.4,573.1 L460.3,572.1 L460.1,571.1 L459.9,570.1 L459.7,569.1 L459.4,568.1 L459.2,567.1 L458.9,566.1 L458.6,565.1 L458.3,564.1 L457.9,563.1 L457.5,562.1 L457.1,561.1 L456.7,560.1 L456.3,559.1 L455.8,558.1 L455.4,557.1 L454.9,556.1 L454.5,555.1 L454.0,554.1 L453.5,553.1 L453.1,552.1 L452.6,551.1 L452.2,550.1 L451.8,549.1 L451.4,548.1 L451.0,547.1 L450.6,546.1 L450.2,545.1 L449.8,544.1 L449.3,543.1 L448.9,542.1 L448.4,541.1 L447.9,540.1 L447.5,539.1 L447.0,538.1 L446.6,537.1 L446.2,536.1 L445.8,535.1 L445.5,534.1 L445.1,533.1 L444.7,532.1 L444.4,531.1 L444.1,530.1 L443.9,529.1 L443.7,528.1 L443.6,527.1 L443.5,526.1 L443.5,525.1 L443.6,524.1 L443.6,523.1 L443.6,522.1 L443.7,521.1 L443.8,520.1 L443.8,519.1 L443.9,518.1 L444.0,517.1 L444.1,516.1 L444.2,515.1 L444.4,514.1 L444.6,513.1 L444.8,512.1 L445.0,511.1 L445.3,510.1 L445.6,509.1 L445.9,508.1 L446.1,507.1 L446.4,506.1 L446.7,505.1 L447.0,504.1 L447.3,503.1 L447.6,502.1 L447.9,501.1 L448.2,500.1 L448.5,499.1 L448.8,498.1 L449.0,497.1 L449.2,496.1 L449.3,495.1 L449.3,494.1 L449.3,493.1 L449.2,492.1 L449.1,491.1 L449.0,490.1 L448.8,489.1 L448.5,488.1 L448.1,487.1 L447.5,486.1 L446.8,485.1 L446.0,484.1 L445.0,483.1 L444.0,482.1 L443.0,481.1 L441.9,480.1 L440.8,479.1 L439.6,478.1 L438.3,477.1 L437.0,476.1 L435.7,475.1 L434.5,474.1 L433.4,473.1 L432.3,472.1 L431.3,471.1 L430.4,470.1 L429.5,469.1 L428.7,468.1 L427.8,467.1 L427.0,466.1 L426.2,465.1 L425.5,464.1 L424.7,463.1 L424.0,462.1 L423.4,461.1 L422.7,460.1 L422.0,459.1 L421.4,458.1 L420.9,457.1 L420.6,456.1 L420.5,455.1 L420.6,454.1 L420.9,453.1 L421.2,452.1 L421.6,451.1 L422.1,450.1 L422.7,449.1 L423.2,448.1 L423.8,447.1 L424.5,446.1 L425.2,445.1 L426.0,444.1 L426.8,443.1 L427.6,442.1 L428.4,441.1 L429.1,440.1 L429.9,439.1 L430.7,438.1 L431.5,437.1 L432.2,436.1 L433.0,435.1 L433.6,434.1 L434.2,433.1 L434.8,432.1 L435.3,431.1 L435.7,430.1 L436.2,429.1 L436.6,428.1 L436.9,427.1 L437.3,426.1 L437.6,425.1 L438.0,424.1 L438.3,423.1 L438.6,422.1 L438.9,421.1 L439.3,420.1 L439.6,419.1 L439.9,418.1 L440.2,417.1 L440.5,416.1 L440.7,415.1 L441.0,414.1 L441.3,413.1 L441.6,412.1 L441.9,411.1 L442.1,410.1 L442.4,409.1 L442.7,408.1 L443.1,407.1 L443.4,406.1 L443.8,405.1 L444.2,404.1 L444.6,403.1 L445.1,402.1 L445.6,401.1 L446.1,400.1 L446.6,399.1 L447.1,398.1 L447.7,397.1 L448.2,396.1 L448.8,395.1 L449.3,394.1 L449.9,393.1 L450.4,392.1 L451.0,391.1 L451.5,390.1 L452.0,389.1 L452.5,388.1 L452.9,387.1 L453.4,386.1 L453.8,385.1 L454.1,384.1 L454.4,383.1 L454.7,382.1 L455.0,381.1 L455.2,380.1 L455.4,379.1 L455.5,378.1 L455.6,377.1 L455.6,376.1 L455.5,375.1 L455.4,374.1 L455.2,373.1 L455.0,372.1 L454.8,371.1 L454.4,370.1 L454.0,369.1 L453.6,368.1 L453.1,367.1 L452.6,366.1 L452.1,365.1 L451.7,364.1 L451.2,363.1 L450.8,362.1 L450.4,361.1 L450.1,360.1 L449.8,359.1 L449.5,358.1 L449.2,357.1 L449.0,356.1 L448.9,355.1 L448.8,354.1 L448.7,353.1 L448.6,352.1 L448.5,351.1 L448.4,350.1 L448.3,349.1 L448.3,348.1 L448.2,347.1 L448.2,346.1 L448.2,345.1 L448.1,344.1 L448.1,343.1 L448.1,342.1 L448.1,341.1 L448.2,340.1 L448.2,339.1 L448.3,338.1 L448.3,337.1 L448.4,336.1 L448.5,335.1 L448.6,334.1 L448.8,333.1 L449.0,332.1 L449.3,331.1 L449.7,330.1 L450.2,329.1 L450.7,328.1 L451.3,327.1 L451.8,326.1 L452.4,325.1 L453.0,324.1 L453.5,323.1 L454.0,322.1 L454.5,321.1 L454.9,320.1 L455.3,319.1 L455.6,318.1 L456.0,317.1 L456.4,316.1 L456.8,315.1 L457.2,314.1 L457.6,313.1 L458.0,312.1 L458.3,311.1 L458.5,310.1 L458.6,309.1 L458.7,308.1 L458.6,307.1 L458.6,306.1 L458.6,305.1 L458.6,304.1 L458.5,303.1 L458.5,302.1 L458.4,301.1 L458.4,300.1 L458.4,299.1 L458.3,298.1 L458.3,297.1 L458.3,296.1 L458.2,295.1 L458.2,294.1 L458.2,293.1 L458.1,292.1 L458.1,291.1 L458.1,290.1 L458.0,289.1 L458.0,288.1 L458.0,287.1 L458.0,286.1 L458.0,285.1 L458.0,284.1 L458.0,283.1 L458.0,282.1 L458.0,281.1 L458.0,280.1 L458.0,279.1 L458.0,278.1 L458.1,277.1 L458.2,276.1 L458.4,275.1 L458.5,274.1 L458.6,273.1 L458.7,272.1 L458.8,271.1 L458.9,270.1 L458.9,269.1 L459.0,268.1 L459.0,267.1 L459.1,266.1 L459.3,265.1 L459.6,264.1 L459.9,263.1 Z" fill="#ffb90f" stroke="#000" stroke-width="1.5" stroke-linejoin="round"/>
<line x1="461.3" y1="327.1" x2="461.3" y2="408.0" stroke="#000" stroke-width="3"/>
<line x1="461.3" y1="473.4" x2="461.3" y2="550.4" stroke="#000" stroke-width="3"/>
<line x1="449.8" y1="327.1" x2="472.8" y2="327.1" stroke="#000" stroke-width="3"/>
<line x1="449.8" y1="550.4" x2="472.8" y2="550.4" stroke="#000" stroke-width="3"/>
<rect x="438.3" y="409.5" width="46.0" height="62.4" fill="#ff7f00" stroke="#000" stroke-width="3"/>
<line x1="438.3" y1="451.6" x2="484.3" y2="451.6" stroke="#000" stroke-width="3.8"/>
<circle cx="461.9" cy="287.2" r="4.8" fill="#000"/>
<line x1="554.2" y1="197.9" x2="554.2" y2="678.4" stroke="#000" stroke-width="1.6"/>
<path d="M555.3,245.0 L555.4,246.0 L555.6,247.0 L555.7,248.0 L555.8,249.0 L555.9,250.0 L555.9,251.0 L556.0,252.0 L556.0,253.0 L556.1,254.0 L556.1,255.0 L556.1,256.0 L556.2,257.0 L556.2,258.0 L556.2,259.0 L556.2,260.0 L556.2,261.0 L556.3,262.0 L556.3,263.0 L556.3,264.0 L556.3,265.0 L556.3,266.0 L556.3,267.0 L556.4,268.0 L556.4,269.0 L556.4,270.0 L556.4,271.0 L556.5,272.0 L556.5,273.0 L556.6,274.0 L556.7,275.0 L556.8,276.0 L556.9,277.0 L557.0,278.0 L557.1,279.0 L557.2,280.0 L557.3,281.0 L557.3,282.0 L557.4,283.0 L557.4,284.0 L557.5,285.0 L557.5,286.0 L557.6,287.0 L557.6,288.0 L557.7,289.0 L557.7,290.0 L557.8,291.0 L557.8,292.0 L557.9,293.0 L557.9,294.0 L558.0,295.0 L558.0,296.0 L558.1,297.0 L558.1,298.0 L558.2,299.0 L558.3,300.0 L558.3,301.0 L558.4,302.0 L558.4,303.0 L558.5,304.0 L558.6,305.0 L558.6,306.0 L558.7,307.0 L558.8,308.0 L558.9,309.0 L559.0,310.0 L559.1,311.0 L559.2,312.0 L559.3,313.0 L559.4,314.0 L559.5,315.0 L559.7,316.0 L559.8,317.0 L560.0,318.0 L560.1,319.0 L560.2,320.0 L560.4,321.0 L560.5,322.0 L560.7,323.0 L560.8,324.0 L561.0,325.0 L561.1,326.0 L561.3,327.0 L561.4,328.0 L561.6,329.0 L561.7,330.0 L561.9,331.0 L562.1,332.0 L562.2,333.0 L562.4,334.0 L562.5,335.0 L562.7,336.0 L562.8,337.0 L563.0,338.0 L563.1,339.0 L563.2,340.0 L563.4,341.0 L563.5,342.0 L563.6,343.0 L563.7,344.0 L563.9,345.0 L564.0,346.0 L564.1,347.0 L564.2,348.0 L564.3,349.0 L564.5,350.0 L564.6,351.0 L564.7,352.0 L564.8,353.0 L564.9,354.0 L565.0,355.0 L565.2,356.0 L565.3,357.0 L565.4,358.0 L565.5,359.0 L565.6,360.0 L565.7,361.0 L565.8,362.0 L565.9,363.0 L566.0,364.0 L566.1,365.0 L566.2,366.0 L566.3,367.0 L566.5,368.0 L566.6,369.0 L566.8,370.0 L566.9,371.0 L567.1,372.0 L567.3,373.0 L567.6,374.0 L567.9,375.0 L568.2,376.0 L568.5,377.0 L568.8,378.0 L569.1,379.0 L569.4,380.0 L569.8,381.0 L570.1,382.0 L570.4,383.0 L570.7,384.0 L571.0,385.0 L571.3,386.0 L571.6,387.0 L571.9,388.0 L572.2,389.0 L572.5,390.0 L572.8,391.0 L573.1,392.0 L573.4,393.0 L573.7,394.0 L574.0,395.0 L574.3,396.0 L574.6,397.0 L574.9,398.0 L575.2,399.0 L575.5,400.0 L575.8,401.0 L576.1,402.0 L576.4,403.0 L576.7,404.0 L577.0,405.0 L577.3,406.0 L577.6,407.0 L577.9,408.0 L578.2,409.0 L578.6,410.0 L578.9,411.0 L579.2,412.0 L579.6,413.0 L579.9,414.0 L580.3,415.0 L580.7,416.0 L581.0,417.0 L581.4,418.0 L581.7,419.0 L582.1,420.0 L582.4,421.0 L582.8,422.0 L583.1,423.0 L583.4,424.0 L583.8,425.0 L584.1,426.0 L584.4,427.0 L584.7,428.0 L585.1,429.0 L585.4,430.0 L585.7,431.0 L586.0,432.0 L586.3,433.0 L586.6,434.0 L587.0,435.0 L587.3,436.0 L587.6,437.0 L587.9,438.0 L588.3,439.0 L588.6,440.0 L588.9,441.0 L589.2,442.0 L589.5,443.0 L589.8,444.0 L590.1,445.0 L590.4,446.0 L590.6,447.0 L590.9,448.0 L591.1,449.0 L591.3,450.0 L591.5,451.0 L591.7,452.0 L591.9,453.0 L592.1,454.0 L592.2,455.0 L592.4,456.0 L592.6,457.0 L592.7,458.0 L592.9,459.0 L593.0,460.0 L593.1,461.0 L593.3,462.0 L593.4,463.0 L593.5,464.0 L593.6,465.0 L593.8,466.0 L593.9,467.0 L594.0,468.0 L594.1,469.0 L594.2,470.0 L594.2,471.0 L594.3,472.0 L594.4,473.0 L594.4,474.0 L594.5,475.0 L594.5,476.0 L594.5,477.0 L594.6,478.0 L594.6,479.0 L594.6,480.0 L594.6,481.0 L594.5,482.0 L594.5,483.0 L594.4,484.0 L594.4,485.0 L594.3,486.0 L594.2,487.0 L594.1,488.0 L594.0,489.0 L593.8,490.0 L593.7,491.0 L593.5,492.0 L593.4,493.0 L593.2,494.0 L593.1,495.0 L592.9,496.0 L592.8,497.0 L592.6,498.0 L592.5,499.0 L592.3,500.0 L592.1,501.0 L592.0,502.0 L591.8,503.0 L591.6,504.0 L591.4,505.0 L591.2,506.0 L591.0,507.0 L590.8,508.0 L590.6,509.0 L590.3,510.0 L590.1,511.0 L589.9,512.0 L589.6,513.0 L589.4,514.0 L589.1,515.0 L588.9,516.0 L588.6,517.0 L588.3,518.0 L588.1,519.0 L587.8,520.0 L587.5,521.0 L587.2,522.0 L586.9,523.0 L586.6,524.0 L586.3,525.0 L586.0,526.0 L585.6,527.0 L585.3,528.0 L584.9,529.0 L584.6,530.0 L584.2,531.0 L583.8,532.0 L583.5,533.0 L583.1,534.0 L582.7,535.0 L582.3,536.0 L582.0,537.0 L581.6,538.0 L581.2,539.0 L580.8,540.0 L580.5,541.0 L580.1,542.0 L579.7,543.0 L579.3,544.0 L578.9,545.0 L578.5,546.0 L578.1,547.0 L577.7,548.0 L577.3,549.0 L576.9,550.0 L576.5,551.0 L576.1,552.0 L575.6,553.0 L575.2,554.0 L574.8,555.0 L574.4,556.0 L574.0,557.0 L573.6,558.0 L573.2,559.0 L572.8,560.0 L572.4,561.0 L572.0,562.0 L571.5,563.0 L571.1,564.0 L570.7,565.0 L570.3,566.0 L569.9,567.0 L569.4,568.0 L569.0,569.0 L568.6,570.0 L568.2,571.0 L567.8,572.0 L567.4,573.0 L567.0,574.0 L566.6,575.0 L566.2,576.0 L565.8,577.0 L565.5,578.0 L565.1,579.0 L564.8,580.0 L564.4,581.0 L564.1,582.0 L563.8,583.0 L563.5,584.0 L563.2,585.0 L562.9,586.0 L562.5,587.0 L562.2,588.0 L562.0,589.0 L561.7,590.0 L561.4,591.0 L561.1,592.0 L560.8,593.0 L560.6,594.0 L560.3,595.0 L560.1,596.0 L559.9,597.0 L559.7,598.0 L559.4,599.0 L559.2,600.0 L559.1,601.0 L558.9,602.0 L558.7,603.0 L558.5,604.0 L558.4,605.0 L558.2,606.0 L558.1,607.0 L557.9,608.0 L557.8,609.0 L557.6,610.0 L557.5,611.0 L557.4,612.0 L557.3,613.0 L557.1,614.0 L557.0,615.0 L556.9,616.0 L556.8,617.0 L556.7,618.0 L556.5,619.0 L556.4,620.0 L556.3,621.0 L556.2,622.0 L556.1,623.0 L556.0,624.0 L555.9,625.0 L555.8,626.0 L555.7,627.0 L555.6,628.0 L555.5,629.0 L555.4,630.0 L555.4,631.0 L555.3,632.0 L555.2,633.0 L555.1,634.0 L555.0,635.0 L555.0,636.0 L554.9,637.0 L554.9,638.0 L554.8,638.3 L553.6,638.3 L553.5,638.0 L553.5,637.0 L553.4,636.0 L553.4,635.0 L553.3,634.0 L553.2,633.0 L553.1,632.0 L553.0,631.0 L553.0,630.0 L552.9,629.0 L552.8,628.0 L552.7,627.0 L552.6,626.0 L552.5,625.0 L552.4,624.0 L552.3,623.0 L552.2,622.0 L552.1,621.0 L552.0,620.0 L551.9,619.0 L551.7,618.0 L551.6,617.0 L551.5,616.0 L551.4,615.0 L551.3,614.0 L551.1,613.0 L551.0,612.0 L550.9,611.0 L550.8,610.0 L550.6,609.0 L550.5,608.0 L550.3,607.0 L550.2,606.0 L550.0,605.0 L549.9,604.0 L549.7,603.0 L549.5,602.0 L549.3,601.0 L549.2,600.0 L549.0,599.0 L548.7,598.0 L548.5,597.0 L548.3,596.0 L548.1,595.0 L547.8,594.0 L547.6,593.0 L547.3,592.0 L547.0,591.0 L546.7,590.0 L546.4,589.0 L546.2,588.0 L545.9,587.0 L545.5,586.0 L545.2,585.0 L544.9,584.0 L544.6,583.0 L544.3,582.0 L544.0,581.0 L543.6,580.0 L543.3,579.0 L542.9,578.0 L542.6,577.0 L542.2,576.0 L541.8,575.0 L541.4,574.0 L541.0,573.0 L540.6,572.0 L540.2,571.0 L539.8,570.0 L539.4,569.0 L539.0,568.0 L538.5,567.0 L538.1,566.0 L537.7,565.0 L537.3,564.0 L536.9,563.0 L536.4,562.0 L536.0,561.0 L535.6,560.0 L535.2,559.0 L534.8,558.0 L534.4,557.0 L534.0,556.0 L533.6,555.0 L533.2,554.0 L532.8,553.0 L532.3,552.0 L531.9,551.0 L531.5,550.0 L531.1,549.0 L530.7,548.0 L530.3,547.0 L529.9,546.0 L529.5,545.0 L529.1,544.0 L528.7,543.0 L528.3,542.0 L527.9,541.0 L527.6,540.0 L527.2,539.0 L526.8,538.0 L526.4,537.0 L526.1,536.0 L525.7,535.0 L525.3,534.0 L524.9,533.0 L524.6,532.0 L524.2,531.0 L523.8,530.0 L523.5,529.0 L523.1,528.0 L522.8,527.0 L522.4,526.0 L522.1,525.0 L521.8,524.0 L521.5,523.0 L521.2,522.0 L520.9,521.0 L520.6,520.0 L520.3,519.0 L520.1,518.0 L519.8,517.0 L519.5,516.0 L519.3,515.0 L519.0,514.0 L518.8,513.0 L518.5,512.0 L518.3,511.0 L518.1,510.0 L517.8,509.0 L517.6,508.0 L517.4,507.0 L517.2,506.0 L517.0,505.0 L516.8,504.0 L516.6,503.0 L516.4,502.0 L516.3,501.0 L516.1,500.0 L515.9,499.0 L515.8,498.0 L515.6,497.0 L515.5,496.0 L515.3,495.0 L515.2,494.0 L515.0,493.0 L514.9,492.0 L514.7,491.0 L514.6,490.0 L514.4,489.0 L514.3,488.0 L514.2,487.0 L514.1,486.0 L514.0,485.0 L514.0,484.0 L513.9,483.0 L513.9,482.0 L513.8,481.0 L513.8,480.0 L513.8,479.0 L513.8,478.0 L513.9,477.0 L513.9,476.0 L513.9,475.0 L514.0,474.0 L514.0,473.0 L514.1,472.0 L514.2,471.0 L514.2,470.0 L514.3,469.0 L514.4,468.0 L514.5,467.0 L514.6,466.0 L514.8,465.0 L514.9,464.0 L515.0,463.0 L515.1,462.0 L515.3,461.0 L515.4,460.0 L515.5,459.0 L515.7,458.0 L515.8,457.0 L516.0,456.0 L516.2,455.0 L516.3,454.0 L516.5,453.0 L516.7,452.0 L516.9,451.0 L517.1,450.0 L517.3,449.0 L517.5,448.0 L517.8,447.0 L518.0,446.0 L518.3,445.0 L518.6,444.0 L518.9,443.0 L519.2,442.0 L519.5,441.0 L519.8,440.0 L520.1,439.0 L520.5,438.0 L520.8,437.0 L521.1,436.0 L521.4,435.0 L521.8,434.0 L522.1,433.0 L522.4,432.0 L522.7,431.0 L523.0,430.0 L523.3,429.0 L523.7,428.0 L524.0,427.0 L524.3,426.0 L524.6,425.0 L525.0,424.0 L525.3,423.0 L525.6,422.0 L526.0,421.0 L526.3,420.0 L526.7,419.0 L527.0,418.0 L527.4,417.0 L527.7,416.0 L528.1,415.0 L528.5,414.0 L528.8,413.0 L529.2,412.0 L529.5,411.0 L529.8,410.0 L530.2,409.0 L530.5,408.0 L530.8,407.0 L531.1,406.0 L531.4,405.0 L531.7,404.0 L532.0,403.0 L532.3,402.0 L532.6,401.0 L532.9,400.0 L533.2,399.0 L533.5,398.0 L533.8,397.0 L534.1,396.0 L534.4,395.0 L534.7,394.0 L535.0,393.0 L535.3,392.0 L535.6,391.0 L535.9,390.0 L536.2,389.0 L536.5,388.0 L536.8,387.0 L537.1,386.0 L537.4,385.0 L537.7,384.0 L538.0,383.0 L538.3,382.0 L538.6,381.0 L539.0,380.0 L539.3,379.0 L539.6,378.0 L539.9,377.0 L540.2,376.0 L540.5,375.0 L540.8,374.0 L541.1,373.0 L541.3,372.0 L541.5,371.0 L541.6,370.0 L541.8,369.0 L541.9,368.0 L542.1,367.0 L542.2,366.0 L542.3,365.0 L542.4,364.0 L542.5,363.0 L542.6,362.0 L542.7,361.0 L542.8,360.0 L542.9,359.0 L543.0,358.0 L543.1,357.0 L543.2,356.0 L543.4,355.0 L543.5,354.0 L543.6,353.0 L543.7,352.0 L543.8,351.0 L543.9,350.0 L544.1,349.0 L544.2,348.0 L544.3,347.0 L544.4,346.0 L544.5,345.0 L544.7,344.0 L544.8,343.0 L544.9,342.0 L545.0,341.0 L545.2,340.0 L545.3,339.0 L545.4,338.0 L545.6,337.0 L545.7,336.0 L545.9,335.0 L546.0,334.0 L546.2,333.0 L546.3,332.0 L546.5,331.0 L546.7,330.0 L546.8,329.0 L547.0,328.0 L547.1,327.0 L547.3,326.0 L547.4,325.0 L547.6,324.0 L547.7,323.0 L547.9,322.0 L548.0,321.0 L548.2,320.0 L548.3,319.0 L548.4,318.0 L548.6,317.0 L548.7,316.0 L548.9,315.0 L549.0,314.0 L549.1,313.0 L549.2,312.0 L549.3,311.0 L549.4,310.0 L549.5,309.0 L549.6,308.0 L549.7,307.0 L549.8,306.0 L549.8,305.0 L549.9,304.0 L550.0,303.0 L550.0,302.0 L550.1,301.0 L550.1,300.0 L550.2,299.0 L550.3,298.0 L550.3,297.0 L550.4,296.0 L550.4,295.0 L550.5,294.0 L550.5,293.0 L550.6,292.0 L550.6,291.0 L550.7,290.0 L550.7,289.0 L550.8,288.0 L550.8,287.0 L550.9,286.0 L550.9,285.0 L551.0,284.0 L551.0,283.0 L551.1,282.0 L551.1,281.0 L551.2,280.0 L551.3,279.0 L551.4,278.0 L551.5,277.0 L551.6,276.0 L551.7,275.0 L551.8,274.0 L551.9,273.0 L551.9,272.0 L552.0,271.0 L552.0,270.0 L552.0,269.0 L552.0,268.0 L552.1,267.0 L552.1,266.0 L552.1,265.0 L552.1,264.0 L552.1,263.0 L552.1,262.0 L552.2,261.0 L552.2,260.0 L552.2,259.0 L552.2,258.0 L552.2,257.0 L552.3,256.0 L552.3,255.0 L552.3,254.0 L552.4,253.0 L552.4,252.0 L552.5,251.0 L552.5,250.0 L552.6,249.0 L552.7,248.0 L552.8,247.0 L553.0,246.0 L553.1,245.0 Z" fill="#ff63b4" stroke="#000" stroke-width="1.5" stroke-linejoin="round"/>
<line x1="554.2" y1="362.4" x2="554.2" y2="433.1" stroke="#000" stroke-width="3"/>
<line x1="554.2" y1="522.1" x2="554.2" y2="578.2" stroke="#000" stroke-width="3"/>
<line x1="542.7" y1="362.4" x2="565.7" y2="362.4" stroke="#000" stroke-width="3"/>
<line x1="542.7" y1="578.2" x2="565.7" y2="578.2" stroke="#000" stroke-width="3"/>
<rect x="531.2" y="434.6" width="46.0" height="86.0" fill="#cd1076" stroke="#000" stroke-width="3"/>
<line x1="531.2" y1="474.7" x2="577.2" y2="474.7" stroke="#000" stroke-width="3.8"/>
<circle cx="554.8" cy="298.6" r="4.8" fill="#000"/>
<line x1="642.6" y1="252.3" x2="642.6" y2="664.3" stroke="#000" stroke-width="1.6"/>
<path d="M643.5,284.8 L643.5,285.8 L643.6,286.8 L643.7,287.8 L643.8,288.8 L643.9,289.8 L644.0,290.8 L644.1,291.8 L644.2,292.8 L644.3,293.8 L644.4,294.8 L644.4,295.8 L644.5,296.8 L644.6,297.8 L644.7,298.8 L644.8,299.8 L644.9,300.8 L645.0,301.8 L645.1,302.8 L645.2,303.8 L645.3,304.8 L645.4,305.8 L645.5,306.8 L645.7,307.8 L645.8,308.8 L645.9,309.8 L646.1,310.8 L646.2,311.8 L646.3,312.8 L646.5,313.8 L646.6,314.8 L646.8,315.8 L647.0,316.8 L647.1,317.8 L647.3,318.8 L647.4,319.8 L647.6,320.8 L647.7,321.8 L647.9,322.8 L648.0,323.8 L648.2,324.8 L648.3,325.8 L648.5,326.8 L648.6,327.8 L648.8,328.8 L648.9,329.8 L649.0,330.8 L649.2,331.8 L649.3,332.8 L649.5,333.8 L649.6,334.8 L649.8,335.8 L649.9,336.8 L650.1,337.8 L650.2,338.8 L650.4,339.8 L650.6,340.8 L650.7,341.8 L650.9,342.8 L651.1,343.8 L651.2,344.8 L651.4,345.8 L651.6,346.8 L651.7,347.8 L651.9,348.8 L652.1,349.8 L652.2,350.8 L652.4,351.8 L652.5,352.8 L652.7,353.8 L652.9,354.8 L653.0,355.8 L653.2,356.8 L653.4,357.8 L653.5,358.8 L653.7,359.8 L653.9,360.8 L654.0,361.8 L654.2,362.8 L654.3,363.8 L654.5,364.8 L654.7,365.8 L654.8,366.8 L655.0,367.8 L655.2,368.8 L655.3,369.8 L655.5,370.8 L655.7,371.8 L655.8,372.8 L656.0,373.8 L656.2,374.8 L656.4,375.8 L656.5,376.8 L656.7,377.8 L656.9,378.8 L657.0,379.8 L657.2,380.8 L657.3,381.8 L657.5,382.8 L657.6,383.8 L657.8,384.8 L657.9,385.8 L658.1,386.8 L658.2,387.8 L658.3,388.8 L658.4,389.8 L658.5,390.8 L658.7,391.8 L658.8,392.8 L658.9,393.8 L659.0,394.8 L659.1,395.8 L659.2,396.8 L659.4,397.8 L659.5,398.8 L659.6,399.8 L659.8,400.8 L659.9,401.8 L660.1,402.8 L660.3,403.8 L660.5,404.8 L660.7,405.8 L660.9,406.8 L661.2,407.8 L661.4,408.8 L661.6,409.8 L661.9,410.8 L662.1,411.8 L662.4,412.8 L662.6,413.8 L662.8,414.8 L663.1,415.8 L663.4,416.8 L663.6,417.8 L663.9,418.8 L664.2,419.8 L664.4,420.8 L664.7,421.8 L665.0,422.8 L665.3,423.8 L665.6,424.8 L665.9,425.8 L666.2,426.8 L666.5,427.8 L666.8,428.8 L667.1,429.8 L667.4,430.8 L667.7,431.8 L668.0,432.8 L668.4,433.8 L668.7,434.8 L669.0,435.8 L669.4,436.8 L669.7,437.8 L670.1,438.8 L670.4,439.8 L670.8,440.8 L671.2,441.8 L671.6,442.8 L671.9,443.8 L672.3,444.8 L672.7,445.8 L673.1,446.8 L673.5,447.8 L673.9,448.8 L674.3,449.8 L674.6,450.8 L675.0,451.8 L675.4,452.8 L675.7,453.8 L676.1,454.8 L676.4,455.8 L676.8,456.8 L677.2,457.8 L677.5,458.8 L677.8,459.8 L678.2,460.8 L678.5,461.8 L678.8,462.8 L679.0,463.8 L679.3,464.8 L679.5,465.8 L679.8,466.8 L680.0,467.8 L680.2,468.8 L680.4,469.8 L680.7,470.8 L680.9,471.8 L681.0,472.8 L681.2,473.8 L681.4,474.8 L681.5,475.8 L681.6,476.8 L681.7,477.8 L681.8,478.8 L681.8,479.8 L681.9,480.8 L682.0,481.8 L682.0,482.8 L682.1,483.8 L682.1,484.8 L682.2,485.8 L682.2,486.8 L682.3,487.8 L682.3,488.8 L682.3,489.8 L682.3,490.8 L682.3,491.8 L682.3,492.8 L682.3,493.8 L682.3,494.8 L682.3,495.8 L682.3,496.8 L682.2,497.8 L682.2,498.8 L682.2,499.8 L682.2,500.8 L682.2,501.8 L682.2,502.8 L682.1,503.8 L682.1,504.8 L682.0,505.8 L682.0,506.8 L681.9,507.8 L681.7,508.8 L681.6,509.8 L681.4,510.8 L681.2,511.8 L681.0,512.8 L680.8,513.8 L680.5,514.8 L680.3,515.8 L680.0,516.8 L679.8,517.8 L679.5,518.8 L679.2,519.8 L679.0,520.8 L678.7,521.8 L678.4,522.8 L678.1,523.8 L677.8,524.8 L677.4,525.8 L677.1,526.8 L676.7,527.8 L676.3,528.8 L676.0,529.8 L675.6,530.8 L675.2,531.8 L674.8,532.8 L674.4,533.8 L673.9,534.8 L673.5,535.8 L673.1,536.8 L672.7,537.8 L672.2,538.8 L671.8,539.8 L671.4,540.8 L671.0,541.8 L670.5,542.8 L670.1,543.8 L669.6,544.8 L669.1,545.8 L668.6,546.8 L668.2,547.8 L667.7,548.8 L667.2,549.8 L666.7,550.8 L666.2,551.8 L665.7,552.8 L665.2,553.8 L664.7,554.8 L664.2,555.8 L663.7,556.8 L663.2,557.8 L662.7,558.8 L662.2,559.8 L661.8,560.8 L661.3,561.8 L660.8,562.8 L660.2,563.8 L659.7,564.8 L659.2,565.8 L658.7,566.8 L658.2,567.8 L657.7,568.8 L657.1,569.8 L656.6,570.8 L656.1,571.8 L655.7,572.8 L655.2,573.8 L654.7,574.8 L654.3,575.8 L653.9,576.8 L653.5,577.8 L653.1,578.8 L652.8,579.8 L652.4,580.8 L652.1,581.8 L651.8,582.8 L651.5,583.8 L651.3,584.8 L651.0,585.8 L650.7,586.8 L650.5,587.8 L650.2,588.8 L650.0,589.8 L649.8,590.8 L649.5,591.8 L649.3,592.8 L649.1,593.8 L648.9,594.8 L648.7,595.8 L648.5,596.8 L648.3,597.8 L648.1,598.8 L647.9,599.8 L647.7,600.8 L647.5,601.8 L647.3,602.8 L647.1,603.8 L647.0,604.8 L646.8,605.8 L646.6,606.8 L646.4,607.8 L646.3,608.8 L646.1,609.8 L646.0,610.8 L645.8,611.8 L645.6,612.8 L645.5,613.8 L645.3,614.8 L645.2,615.8 L645.0,616.8 L644.8,617.8 L644.7,618.8 L644.5,619.8 L644.4,620.8 L644.2,621.8 L644.0,622.8 L643.9,623.8 L643.7,624.8 L643.6,625.8 L643.5,626.8 L643.4,627.8 L643.2,628.3 L642.0,628.3 L641.8,627.8 L641.7,626.8 L641.6,625.8 L641.5,624.8 L641.3,623.8 L641.2,622.8 L641.0,621.8 L640.8,620.8 L640.7,619.8 L640.5,618.8 L640.4,617.8 L640.2,616.8 L640.0,615.8 L639.9,614.8 L639.7,613.8 L639.6,612.8 L639.4,611.8 L639.2,610.8 L639.1,609.8 L638.9,608.8 L638.8,607.8 L638.6,606.8 L638.4,605.8 L638.2,604.8 L638.1,603.8 L637.9,602.8 L637.7,601.8 L637.5,600.8 L637.3,599.8 L637.1,598.8 L636.9,597.8 L636.7,596.8 L636.5,595.8 L636.3,594.8 L636.1,593.8 L635.9,592.8 L635.7,591.8 L635.4,590.8 L635.2,589.8 L635.0,588.8 L634.7,587.8 L634.5,586.8 L634.2,585.8 L633.9,584.8 L633.7,583.8 L633.4,582.8 L633.1,581.8 L632.8,580.8 L632.4,579.8 L632.1,578.8 L631.7,577.8 L631.3,576.8 L630.9,575.8 L630.5,574.8 L630.0,573.8 L629.5,572.8 L629.1,571.8 L628.6,570.8 L628.1,569.8 L627.5,568.8 L627.0,567.8 L626.5,566.8 L626.0,565.8 L625.5,564.8 L625.0,563.8 L624.4,562.8 L623.9,561.8 L623.4,560.8 L623.0,559.8 L622.5,558.8 L622.0,557.8 L621.5,556.8 L621.0,555.8 L620.5,554.8 L620.0,553.8 L619.5,552.8 L619.0,551.8 L618.5,550.8 L618.0,549.8 L617.5,548.8 L617.0,547.8 L616.6,546.8 L616.1,545.8 L615.6,544.8 L615.1,543.8 L614.7,542.8 L614.2,541.8 L613.8,540.8 L613.4,539.8 L613.0,538.8 L612.5,537.8 L612.1,536.8 L611.7,535.8 L611.3,534.8 L610.8,533.8 L610.4,532.8 L610.0,531.8 L609.6,530.8 L609.2,529.8 L608.9,528.8 L608.5,527.8 L608.1,526.8 L607.8,525.8 L607.4,524.8 L607.1,523.8 L606.8,522.8 L606.5,521.8 L606.2,520.8 L606.0,519.8 L605.7,518.8 L605.4,517.8 L605.2,516.8 L604.9,515.8 L604.7,514.8 L604.4,513.8 L604.2,512.8 L604.0,511.8 L603.8,510.8 L603.6,509.8 L603.5,508.8 L603.3,507.8 L603.2,506.8 L603.2,505.8 L603.1,504.8 L603.1,503.8 L603.0,502.8 L603.0,501.8 L603.0,500.8 L603.0,499.8 L603.0,498.8 L603.0,497.8 L602.9,496.8 L602.9,495.8 L602.9,494.8 L602.9,493.8 L602.9,492.8 L602.9,491.8 L602.9,490.8 L602.9,489.8 L602.9,488.8 L602.9,487.8 L603.0,486.8 L603.0,485.8 L603.1,484.8 L603.1,483.8 L603.2,482.8 L603.2,481.8 L603.3,480.8 L603.4,479.8 L603.4,478.8 L603.5,477.8 L603.6,476.8 L603.7,475.8 L603.8,474.8 L604.0,473.8 L604.2,472.8 L604.3,471.8 L604.5,470.8 L604.8,469.8 L605.0,468.8 L605.2,467.8 L605.4,466.8 L605.7,465.8 L605.9,464.8 L606.2,463.8 L606.4,462.8 L606.7,461.8 L607.0,460.8 L607.4,459.8 L607.7,458.8 L608.0,457.8 L608.4,456.8 L608.8,455.8 L609.1,454.8 L609.5,453.8 L609.8,452.8 L610.2,451.8 L610.6,450.8 L610.9,449.8 L611.3,448.8 L611.7,447.8 L612.1,446.8 L612.5,445.8 L612.9,444.8 L613.3,443.8 L613.6,442.8 L614.0,441.8 L614.4,440.8 L614.8,439.8 L615.1,438.8 L615.5,437.8 L615.8,436.8 L616.2,435.8 L616.5,434.8 L616.8,433.8 L617.2,432.8 L617.5,431.8 L617.8,430.8 L618.1,429.8 L618.4,428.8 L618.7,427.8 L619.0,426.8 L619.3,425.8 L619.6,424.8 L619.9,423.8 L620.2,422.8 L620.5,421.8 L620.8,420.8 L621.0,419.8 L621.3,418.8 L621.6,417.8 L621.8,416.8 L622.1,415.8 L622.4,414.8 L622.6,413.8 L622.8,412.8 L623.1,411.8 L623.3,410.8 L623.6,409.8 L623.8,408.8 L624.0,407.8 L624.3,406.8 L624.5,405.8 L624.7,404.8 L624.9,403.8 L625.1,402.8 L625.3,401.8 L625.4,400.8 L625.6,399.8 L625.7,398.8 L625.8,397.8 L626.0,396.8 L626.1,395.8 L626.2,394.8 L626.3,393.8 L626.4,392.8 L626.5,391.8 L626.7,390.8 L626.8,389.8 L626.9,388.8 L627.0,387.8 L627.1,386.8 L627.3,385.8 L627.4,384.8 L627.6,383.8 L627.7,382.8 L627.9,381.8 L628.0,380.8 L628.2,379.8 L628.3,378.8 L628.5,377.8 L628.7,376.8 L628.8,375.8 L629.0,374.8 L629.2,373.8 L629.4,372.8 L629.5,371.8 L629.7,370.8 L629.9,369.8 L630.0,368.8 L630.2,367.8 L630.4,366.8 L630.5,365.8 L630.7,364.8 L630.9,363.8 L631.0,362.8 L631.2,361.8 L631.3,360.8 L631.5,359.8 L631.7,358.8 L631.8,357.8 L632.0,356.8 L632.2,355.8 L632.3,354.8 L632.5,353.8 L632.7,352.8 L632.8,351.8 L633.0,350.8 L633.1,349.8 L633.3,348.8 L633.5,347.8 L633.6,346.8 L633.8,345.8 L634.0,344.8 L634.1,343.8 L634.3,342.8 L634.5,341.8 L634.6,340.8 L634.8,339.8 L635.0,338.8 L635.1,337.8 L635.3,336.8 L635.4,335.8 L635.6,334.8 L635.7,333.8 L635.9,332.8 L636.0,331.8 L636.2,330.8 L636.3,329.8 L636.4,328.8 L636.6,327.8 L636.7,326.8 L636.9,325.8 L637.0,324.8 L637.2,323.8 L637.3,322.8 L637.5,321.8 L637.6,320.8 L637.8,319.8 L637.9,318.8 L638.1,317.8 L638.2,316.8 L638.4,315.8 L638.6,314.8 L638.7,313.8 L638.9,312.8 L639.0,311.8 L639.1,310.8 L639.3,309.8 L639.4,308.8 L639.5,307.8 L639.7,306.8 L639.8,305.8 L639.9,304.8 L640.0,303.8 L640.1,302.8 L640.2,301.8 L640.3,300.8 L640.4,299.8 L640.5,298.8 L640.6,297.8 L640.7,296.8 L640.8,295.8 L640.8,294.8 L640.9,293.8 L641.0,292.8 L641.1,291.8 L641.2,290.8 L641.3,289.8 L641.4,288.8 L641.5,287.8 L641.6,286.8 L641.7,285.8 L641.7,284.8 Z" fill="#52fa9c" stroke="#000" stroke-width="1.5" stroke-linejoin="round"/>
<line x1="642.6" y1="340.6" x2="642.6" y2="436.0" stroke="#000" stroke-width="3"/>
<line x1="642.6" y1="517.6" x2="642.6" y2="575.8" stroke="#000" stroke-width="3"/>
<line x1="631.1" y1="340.6" x2="654.1" y2="340.6" stroke="#000" stroke-width="3"/>
<line x1="631.1" y1="575.8" x2="654.1" y2="575.8" stroke="#000" stroke-width="3"/>
<rect x="619.6" y="437.5" width="46.0" height="78.6" fill="#00cd66" stroke="#000" stroke-width="3"/>
<line x1="619.6" y1="481.9" x2="665.6" y2="481.9" stroke="#000" stroke-width="3.8"/>
<line x1="730.9" y1="251.7" x2="730.9" y2="676.9" stroke="#000" stroke-width="1.6"/>
<path d="M731.5,283.2 L731.6,284.2 L731.6,285.2 L731.7,286.2 L731.8,287.2 L731.9,288.2 L732.0,289.2 L732.0,290.2 L732.1,291.2 L732.2,292.2 L732.3,293.2 L732.4,294.2 L732.5,295.2 L732.6,296.2 L732.7,297.2 L732.8,298.2 L732.9,299.2 L733.1,300.2 L733.2,301.2 L733.3,302.2 L733.4,303.2 L733.6,304.2 L733.7,305.2 L733.9,306.2 L734.0,307.2 L734.1,308.2 L734.3,309.2 L734.4,310.2 L734.6,311.2 L734.7,312.2 L734.9,313.2 L735.0,314.2 L735.2,315.2 L735.3,316.2 L735.4,317.2 L735.6,318.2 L735.8,319.2 L735.9,320.2 L736.1,321.2 L736.3,322.2 L736.5,323.2 L736.6,324.2 L736.8,325.2 L737.0,326.2 L737.2,327.2 L737.4,328.2 L737.7,329.2 L737.9,330.2 L738.1,331.2 L738.3,332.2 L738.5,333.2 L738.7,334.2 L738.9,335.2 L739.1,336.2 L739.4,337.2 L739.6,338.2 L739.8,339.2 L740.0,340.2 L740.3,341.2 L740.5,342.2 L740.7,343.2 L741.0,344.2 L741.2,345.2 L741.5,346.2 L741.7,347.2 L741.9,348.2 L742.2,349.2 L742.4,350.2 L742.6,351.2 L742.8,352.2 L743.0,353.2 L743.3,354.2 L743.5,355.2 L743.7,356.2 L743.9,357.2 L744.1,358.2 L744.3,359.2 L744.5,360.2 L744.7,361.2 L744.9,362.2 L745.1,363.2 L745.3,364.2 L745.5,365.2 L745.7,366.2 L745.9,367.2 L746.1,368.2 L746.3,369.2 L746.5,370.2 L746.7,371.2 L746.9,372.2 L747.1,373.2 L747.3,374.2 L747.5,375.2 L747.7,376.2 L747.9,377.2 L748.1,378.2 L748.3,379.2 L748.5,380.2 L748.7,381.2 L748.9,382.2 L749.1,383.2 L749.3,384.2 L749.5,385.2 L749.7,386.2 L749.9,387.2 L750.1,388.2 L750.3,389.2 L750.5,390.2 L750.7,391.2 L750.9,392.2 L751.1,393.2 L751.3,394.2 L751.5,395.2 L751.7,396.2 L751.9,397.2 L752.2,398.2 L752.4,399.2 L752.6,400.2 L752.9,401.2 L753.1,402.2 L753.4,403.2 L753.6,404.2 L753.9,405.2 L754.2,406.2 L754.5,407.2 L754.8,408.2 L755.1,409.2 L755.4,410.2 L755.7,411.2 L756.0,412.2 L756.3,413.2 L756.5,414.2 L756.8,415.2 L757.1,416.2 L757.4,417.2 L757.6,418.2 L757.9,419.2 L758.2,420.2 L758.5,421.2 L758.7,422.2 L759.0,423.2 L759.3,424.2 L759.5,425.2 L759.8,426.2 L760.0,427.2 L760.3,428.2 L760.5,429.2 L760.7,430.2 L761.0,431.2 L761.2,432.2 L761.4,433.2 L761.7,434.2 L761.9,435.2 L762.2,436.2 L762.4,437.2 L762.6,438.2 L762.9,439.2 L763.1,440.2 L763.4,441.2 L763.6,442.2 L763.9,443.2 L764.2,444.2 L764.4,445.2 L764.7,446.2 L764.9,447.2 L765.2,448.2 L765.5,449.2 L765.7,450.2 L766.0,451.2 L766.2,452.2 L766.4,453.2 L766.7,454.2 L766.9,455.2 L767.2,456.2 L767.4,457.2 L767.7,458.2 L767.9,459.2 L768.1,460.2 L768.3,461.2 L768.5,462.2 L768.7,463.2 L768.9,464.2 L769.0,465.2 L769.2,466.2 L769.3,467.2 L769.5,468.2 L769.6,469.2 L769.7,470.2 L769.8,471.2 L769.9,472.2 L770.0,473.2 L770.1,474.2 L770.2,475.2 L770.3,476.2 L770.4,477.2 L770.4,478.2 L770.5,479.2 L770.6,480.2 L770.7,481.2 L770.7,482.2 L770.8,483.2 L770.9,484.2 L770.9,485.2 L771.0,486.2 L771.0,487.2 L771.0,488.2 L771.1,489.2 L771.1,490.2 L771.1,491.2 L771.1,492.2 L771.1,493.2 L771.1,494.2 L771.1,495.2 L771.1,496.2 L771.1,497.2 L771.1,498.2 L771.1,499.2 L771.1,500.2 L771.1,501.2 L771.1,502.2 L771.1,503.2 L771.1,504.2 L771.1,505.2 L771.0,506.2 L771.0,507.2 L770.9,508.2 L770.7,509.2 L770.5,510.2 L770.4,511.2 L770.1,512.2 L769.9,513.2 L769.6,514.2 L769.4,515.2 L769.1,516.2 L768.8,517.2 L768.5,518.2 L768.3,519.2 L768.0,520.2 L767.7,521.2 L767.4,522.2 L767.1,523.2 L766.8,524.2 L766.5,525.2 L766.1,526.2 L765.8,527.2 L765.4,528.2 L765.0,529.2 L764.6,530.2 L764.2,531.2 L763.8,532.2 L763.4,533.2 L763.0,534.2 L762.6,535.2 L762.1,536.2 L761.7,537.2 L761.3,538.2 L760.9,539.2 L760.4,540.2 L760.0,541.2 L759.6,542.2 L759.2,543.2 L758.7,544.2 L758.3,545.2 L757.9,546.2 L757.4,547.2 L757.0,548.2 L756.5,549.2 L756.1,550.2 L755.6,551.2 L755.2,552.2 L754.7,553.2 L754.3,554.2 L753.8,555.2 L753.3,556.2 L752.9,557.2 L752.4,558.2 L752.0,559.2 L751.5,560.2 L751.1,561.2 L750.6,562.2 L750.2,563.2 L749.7,564.2 L749.3,565.2 L748.8,566.2 L748.4,567.2 L747.9,568.2 L747.4,569.2 L747.0,570.2 L746.5,571.2 L746.0,572.2 L745.6,573.2 L745.1,574.2 L744.7,575.2 L744.2,576.2 L743.8,577.2 L743.3,578.2 L742.9,579.2 L742.5,580.2 L742.1,581.2 L741.8,582.2 L741.4,583.2 L741.1,584.2 L740.8,585.2 L740.4,586.2 L740.1,587.2 L739.8,588.2 L739.6,589.2 L739.3,590.2 L739.0,591.2 L738.7,592.2 L738.5,593.2 L738.2,594.2 L738.0,595.2 L737.7,596.2 L737.5,597.2 L737.2,598.2 L737.0,599.2 L736.8,600.2 L736.6,601.2 L736.3,602.2 L736.1,603.2 L735.9,604.2 L735.7,605.2 L735.5,606.2 L735.4,607.2 L735.2,608.2 L735.0,609.2 L734.8,610.2 L734.6,611.2 L734.5,612.2 L734.3,613.2 L734.1,614.2 L734.0,615.2 L733.8,616.2 L733.6,617.2 L733.5,618.2 L733.3,619.2 L733.2,620.2 L733.1,621.2 L732.9,622.2 L732.8,623.2 L732.7,624.2 L732.5,625.2 L732.4,626.2 L732.3,627.2 L732.2,628.2 L732.1,629.2 L732.0,630.2 L731.9,631.2 L731.8,632.2 L731.7,633.2 L731.6,634.2 L731.6,635.2 L731.5,635.6 L730.3,635.6 L730.2,635.2 L730.2,634.2 L730.1,633.2 L730.0,632.2 L729.9,631.2 L729.8,630.2 L729.7,629.2 L729.6,628.2 L729.5,627.2 L729.4,626.2 L729.3,625.2 L729.1,624.2 L729.0,623.2 L728.9,622.2 L728.7,621.2 L728.6,620.2 L728.5,619.2 L728.3,618.2 L728.2,617.2 L728.0,616.2 L727.8,615.2 L727.7,614.2 L727.5,613.2 L727.3,612.2 L727.2,611.2 L727.0,610.2 L726.8,609.2 L726.6,608.2 L726.4,607.2 L726.3,606.2 L726.1,605.2 L725.9,604.2 L725.7,603.2 L725.5,602.2 L725.2,601.2 L725.0,600.2 L724.8,599.2 L724.6,598.2 L724.3,597.2 L724.1,596.2 L723.8,595.2 L723.6,594.2 L723.3,593.2 L723.1,592.2 L722.8,591.2 L722.5,590.2 L722.2,589.2 L722.0,588.2 L721.7,587.2 L721.4,586.2 L721.0,585.2 L720.7,584.2 L720.4,583.2 L720.0,582.2 L719.7,581.2 L719.3,580.2 L718.9,579.2 L718.5,578.2 L718.0,577.2 L717.6,576.2 L717.1,575.2 L716.7,574.2 L716.2,573.2 L715.8,572.2 L715.3,571.2 L714.8,570.2 L714.4,569.2 L713.9,568.2 L713.4,567.2 L713.0,566.2 L712.5,565.2 L712.1,564.2 L711.6,563.2 L711.2,562.2 L710.7,561.2 L710.3,560.2 L709.8,559.2 L709.4,558.2 L708.9,557.2 L708.5,556.2 L708.0,555.2 L707.5,554.2 L707.1,553.2 L706.6,552.2 L706.2,551.2 L705.7,550.2 L705.3,549.2 L704.8,548.2 L704.4,547.2 L703.9,546.2 L703.5,545.2 L703.1,544.2 L702.6,543.2 L702.2,542.2 L701.8,541.2 L701.4,540.2 L700.9,539.2 L700.5,538.2 L700.1,537.2 L699.7,536.2 L699.2,535.2 L698.8,534.2 L698.4,533.2 L698.0,532.2 L697.6,531.2 L697.2,530.2 L696.8,529.2 L696.4,528.2 L696.0,527.2 L695.7,526.2 L695.3,525.2 L695.0,524.2 L694.7,523.2 L694.4,522.2 L694.1,521.2 L693.8,520.2 L693.5,519.2 L693.3,518.2 L693.0,517.2 L692.7,516.2 L692.4,515.2 L692.2,514.2 L691.9,513.2 L691.7,512.2 L691.4,511.2 L691.3,510.2 L691.1,509.2 L690.9,508.2 L690.8,507.2 L690.8,506.2 L690.7,505.2 L690.7,504.2 L690.7,503.2 L690.7,502.2 L690.7,501.2 L690.7,500.2 L690.7,499.2 L690.7,498.2 L690.7,497.2 L690.7,496.2 L690.7,495.2 L690.7,494.2 L690.7,493.2 L690.7,492.2 L690.7,491.2 L690.7,490.2 L690.7,489.2 L690.8,488.2 L690.8,487.2 L690.8,486.2 L690.9,485.2 L690.9,484.2 L691.0,483.2 L691.1,482.2 L691.1,481.2 L691.2,480.2 L691.3,479.2 L691.4,478.2 L691.4,477.2 L691.5,476.2 L691.6,475.2 L691.7,474.2 L691.8,473.2 L691.9,472.2 L692.0,471.2 L692.1,470.2 L692.2,469.2 L692.3,468.2 L692.5,467.2 L692.6,466.2 L692.8,465.2 L692.9,464.2 L693.1,463.2 L693.3,462.2 L693.5,461.2 L693.7,460.2 L693.9,459.2 L694.1,458.2 L694.4,457.2 L694.6,456.2 L694.9,455.2 L695.1,454.2 L695.4,453.2 L695.6,452.2 L695.8,451.2 L696.1,450.2 L696.3,449.2 L696.6,448.2 L696.9,447.2 L697.1,446.2 L697.4,445.2 L697.6,444.2 L697.9,443.2 L698.2,442.2 L698.4,441.2 L698.7,440.2 L698.9,439.2 L699.2,438.2 L699.4,437.2 L699.6,436.2 L699.9,435.2 L700.1,434.2 L700.4,433.2 L700.6,432.2 L700.8,431.2 L701.1,430.2 L701.3,429.2 L701.5,428.2 L701.8,427.2 L702.0,426.2 L702.3,425.2 L702.5,424.2 L702.8,423.2 L703.1,422.2 L703.3,421.2 L703.6,420.2 L703.9,419.2 L704.2,418.2 L704.4,417.2 L704.7,416.2 L705.0,415.2 L705.3,414.2 L705.5,413.2 L705.8,412.2 L706.1,411.2 L706.4,410.2 L706.7,409.2 L707.0,408.2 L707.3,407.2 L707.6,406.2 L707.9,405.2 L708.2,404.2 L708.4,403.2 L708.7,402.2 L708.9,401.2 L709.2,400.2 L709.4,399.2 L709.6,398.2 L709.9,397.2 L710.1,396.2 L710.3,395.2 L710.5,394.2 L710.7,393.2 L710.9,392.2 L711.1,391.2 L711.3,390.2 L711.5,389.2 L711.7,388.2 L711.9,387.2 L712.1,386.2 L712.3,385.2 L712.5,384.2 L712.7,383.2 L712.9,382.2 L713.1,381.2 L713.3,380.2 L713.5,379.2 L713.7,378.2 L713.9,377.2 L714.1,376.2 L714.3,375.2 L714.5,374.2 L714.7,373.2 L714.9,372.2 L715.1,371.2 L715.3,370.2 L715.5,369.2 L715.7,368.2 L715.9,367.2 L716.1,366.2 L716.3,365.2 L716.5,364.2 L716.7,363.2 L716.9,362.2 L717.1,361.2 L717.3,360.2 L717.5,359.2 L717.7,358.2 L717.9,357.2 L718.1,356.2 L718.3,355.2 L718.5,354.2 L718.8,353.2 L719.0,352.2 L719.2,351.2 L719.4,350.2 L719.6,349.2 L719.9,348.2 L720.1,347.2 L720.3,346.2 L720.6,345.2 L720.8,344.2 L721.1,343.2 L721.3,342.2 L721.5,341.2 L721.8,340.2 L722.0,339.2 L722.2,338.2 L722.4,337.2 L722.7,336.2 L722.9,335.2 L723.1,334.2 L723.3,333.2 L723.5,332.2 L723.7,331.2 L723.9,330.2 L724.1,329.2 L724.4,328.2 L724.6,327.2 L724.8,326.2 L725.0,325.2 L725.2,324.2 L725.3,323.2 L725.5,322.2 L725.7,321.2 L725.9,320.2 L726.0,319.2 L726.2,318.2 L726.4,317.2 L726.5,316.2 L726.6,315.2 L726.8,314.2 L726.9,313.2 L727.1,312.2 L727.2,311.2 L727.4,310.2 L727.5,309.2 L727.7,308.2 L727.8,307.2 L727.9,306.2 L728.1,305.2 L728.2,304.2 L728.4,303.2 L728.5,302.2 L728.6,301.2 L728.7,300.2 L728.9,299.2 L729.0,298.2 L729.1,297.2 L729.2,296.2 L729.3,295.2 L729.4,294.2 L729.5,293.2 L729.6,292.2 L729.7,291.2 L729.8,290.2 L729.8,289.2 L729.9,288.2 L730.0,287.2 L730.1,286.2 L730.2,285.2 L730.2,284.2 L730.3,283.2 Z" fill="#ffb90f" stroke="#000" stroke-width="1.5" stroke-linejoin="round"/>
<line x1="730.9" y1="347.0" x2="730.9" y2="436.3" stroke="#000" stroke-width="3"/>
<line x1="730.9" y1="515.9" x2="730.9" y2="581.6" stroke="#000" stroke-width="3"/>
<line x1="719.4" y1="347.0" x2="742.4" y2="347.0" stroke="#000" stroke-width="3"/>
<line x1="719.4" y1="581.6" x2="742.4" y2="581.6" stroke="#000" stroke-width="3"/>
<rect x="707.9" y="437.8" width="46.0" height="76.6" fill="#ff7f00" stroke="#000" stroke-width="3"/>
<line x1="707.9" y1="480.6" x2="753.9" y2="480.6" stroke="#000" stroke-width="3.8"/>
<line x1="826.4" y1="256.3" x2="826.4" y2="646.3" stroke="#000" stroke-width="1.6"/>
<path d="M827.3,279.7 L827.3,280.7 L827.4,281.7 L827.5,282.7 L827.6,283.7 L827.7,284.7 L827.8,285.7 L827.9,286.7 L827.9,287.7 L828.0,288.7 L828.1,289.7 L828.2,290.7 L828.2,291.7 L828.3,292.7 L828.3,293.7 L828.4,294.7 L828.5,295.7 L828.5,296.7 L828.6,297.7 L828.6,298.7 L828.7,299.7 L828.7,300.7 L828.8,301.7 L828.8,302.7 L828.8,303.7 L828.9,304.7 L828.9,305.7 L828.9,306.7 L828.9,307.7 L828.9,308.7 L828.9,309.7 L829.0,310.7 L829.0,311.7 L829.0,312.7 L829.0,313.7 L829.0,314.7 L829.0,315.7 L829.0,316.7 L829.0,317.7 L829.0,318.7 L829.0,319.7 L829.0,320.7 L829.0,321.7 L829.0,322.7 L829.0,323.7 L829.0,324.7 L829.0,325.7 L829.0,326.7 L829.0,327.7 L829.0,328.7 L829.0,329.7 L829.0,330.7 L829.0,331.7 L829.0,332.7 L829.0,333.7 L829.0,334.7 L829.0,335.7 L828.9,336.7 L828.9,337.7 L828.9,338.7 L828.9,339.7 L828.9,340.7 L828.8,341.7 L828.8,342.7 L828.8,343.7 L828.8,344.7 L828.7,345.7 L828.7,346.7 L828.7,347.7 L828.7,348.7 L828.8,349.7 L828.8,350.7 L828.9,351.7 L829.1,352.7 L829.3,353.7 L829.4,354.7 L829.6,355.7 L829.8,356.7 L830.0,357.7 L830.2,358.7 L830.4,359.7 L830.6,360.7 L830.7,361.7 L830.9,362.7 L831.1,363.7 L831.3,364.7 L831.5,365.7 L831.7,366.7 L831.9,367.7 L832.1,368.7 L832.2,369.7 L832.4,370.7 L832.6,371.7 L832.7,372.7 L832.9,373.7 L833.1,374.7 L833.3,375.7 L833.4,376.7 L833.7,377.7 L833.9,378.7 L834.1,379.7 L834.4,380.7 L834.6,381.7 L835.0,382.7 L835.3,383.7 L835.7,384.7 L836.1,385.7 L836.6,386.7 L837.0,387.7 L837.4,388.7 L837.9,389.7 L838.3,390.7 L838.7,391.7 L839.1,392.7 L839.4,393.7 L839.8,394.7 L840.1,395.7 L840.4,396.7 L840.7,397.7 L841.0,398.7 L841.3,399.7 L841.6,400.7 L841.9,401.7 L842.2,402.7 L842.4,403.7 L842.7,404.7 L842.9,405.7 L843.2,406.7 L843.4,407.7 L843.7,408.7 L843.9,409.7 L844.1,410.7 L844.4,411.7 L844.6,412.7 L844.8,413.7 L845.0,414.7 L845.2,415.7 L845.4,416.7 L845.6,417.7 L845.8,418.7 L845.9,419.7 L846.1,420.7 L846.2,421.7 L846.4,422.7 L846.5,423.7 L846.7,424.7 L846.8,425.7 L846.9,426.7 L847.1,427.7 L847.2,428.7 L847.3,429.7 L847.5,430.7 L847.6,431.7 L847.7,432.7 L847.8,433.7 L848.0,434.7 L848.1,435.7 L848.2,436.7 L848.4,437.7 L848.5,438.7 L848.6,439.7 L848.7,440.7 L848.9,441.7 L849.0,442.7 L849.2,443.7 L849.4,444.7 L849.5,445.7 L849.7,446.7 L849.9,447.7 L850.1,448.7 L850.3,449.7 L850.6,450.7 L850.8,451.7 L851.0,452.7 L851.3,453.7 L851.6,454.7 L851.8,455.7 L852.1,456.7 L852.4,457.7 L852.7,458.7 L853.1,459.7 L853.4,460.7 L853.8,461.7 L854.2,462.7 L854.6,463.7 L855.1,464.7 L855.5,465.7 L855.9,466.7 L856.3,467.7 L856.7,468.7 L857.1,469.7 L857.5,470.7 L857.8,471.7 L858.2,472.7 L858.6,473.7 L858.9,474.7 L859.2,475.7 L859.6,476.7 L859.9,477.7 L860.2,478.7 L860.6,479.7 L860.9,480.7 L861.2,481.7 L861.6,482.7 L862.0,483.7 L862.4,484.7 L862.8,485.7 L863.2,486.7 L863.7,487.7 L864.1,488.7 L864.5,489.7 L864.8,490.7 L865.0,491.7 L865.2,492.7 L865.4,493.7 L865.5,494.7 L865.6,495.7 L865.7,496.7 L865.8,497.7 L865.8,498.7 L865.9,499.7 L866.0,500.7 L866.0,501.7 L866.0,502.7 L866.1,503.7 L866.1,504.7 L866.1,505.7 L866.0,506.7 L865.9,507.7 L865.8,508.7 L865.7,509.7 L865.5,510.7 L865.2,511.7 L865.0,512.7 L864.7,513.7 L864.4,514.7 L864.1,515.7 L863.7,516.7 L863.4,517.7 L863.0,518.7 L862.7,519.7 L862.3,520.7 L861.9,521.7 L861.6,522.7 L861.1,523.7 L860.7,524.7 L860.2,525.7 L859.7,526.7 L859.1,527.7 L858.6,528.7 L858.0,529.7 L857.3,530.7 L856.7,531.7 L856.0,532.7 L855.4,533.7 L854.7,534.7 L854.1,535.7 L853.4,536.7 L852.8,537.7 L852.2,538.7 L851.6,539.7 L851.0,540.7 L850.3,541.7 L849.7,542.7 L849.1,543.7 L848.5,544.7 L847.9,545.7 L847.3,546.7 L846.6,547.7 L846.0,548.7 L845.4,549.7 L844.8,550.7 L844.2,551.7 L843.7,552.7 L843.1,553.7 L842.5,554.7 L842.0,555.7 L841.4,556.7 L840.8,557.7 L840.3,558.7 L839.7,559.7 L839.1,560.7 L838.6,561.7 L838.1,562.7 L837.6,563.7 L837.1,564.7 L836.6,565.7 L836.2,566.7 L835.8,567.7 L835.4,568.7 L835.1,569.7 L834.8,570.7 L834.5,571.7 L834.2,572.7 L833.9,573.7 L833.7,574.7 L833.4,575.7 L833.2,576.7 L832.9,577.7 L832.7,578.7 L832.5,579.7 L832.3,580.7 L832.1,581.7 L831.8,582.7 L831.6,583.7 L831.4,584.7 L831.2,585.7 L831.0,586.7 L830.9,587.7 L830.7,588.7 L830.5,589.7 L830.3,590.7 L830.1,591.7 L830.0,592.7 L829.8,593.7 L829.6,594.7 L829.5,595.7 L829.3,596.7 L829.1,597.7 L829.0,598.7 L828.8,599.7 L828.7,600.7 L828.5,601.7 L828.3,602.7 L828.2,603.7 L828.0,604.7 L827.9,605.7 L827.7,606.7 L827.6,607.7 L827.4,608.7 L827.3,609.7 L827.2,610.7 L827.0,611.4 L825.8,611.4 L825.6,610.7 L825.5,609.7 L825.4,608.7 L825.2,607.7 L825.1,606.7 L824.9,605.7 L824.8,604.7 L824.6,603.7 L824.5,602.7 L824.3,601.7 L824.1,600.7 L824.0,599.7 L823.8,598.7 L823.7,597.7 L823.5,596.7 L823.3,595.7 L823.2,594.7 L823.0,593.7 L822.8,592.7 L822.7,591.7 L822.5,590.7 L822.3,589.7 L822.1,588.7 L821.9,587.7 L821.8,586.7 L821.6,585.7 L821.4,584.7 L821.2,583.7 L821.0,582.7 L820.7,581.7 L820.5,580.7 L820.3,579.7 L820.1,578.7 L819.9,577.7 L819.6,576.7 L819.4,575.7 L819.1,574.7 L818.9,573.7 L818.6,572.7 L818.3,571.7 L818.0,570.7 L817.7,569.7 L817.4,568.7 L817.0,567.7 L816.6,566.7 L816.2,565.7 L815.7,564.7 L815.2,563.7 L814.7,562.7 L814.2,561.7 L813.7,560.7 L813.1,559.7 L812.5,558.7 L812.0,557.7 L811.4,556.7 L810.8,555.7 L810.3,554.7 L809.7,553.7 L809.1,552.7 L808.6,551.7 L808.0,550.7 L807.4,549.7 L806.8,548.7 L806.2,547.7 L805.5,546.7 L804.9,545.7 L804.3,544.7 L803.7,543.7 L803.1,542.7 L802.5,541.7 L801.8,540.7 L801.2,539.7 L800.6,538.7 L800.0,537.7 L799.4,536.7 L798.7,535.7 L798.1,534.7 L797.4,533.7 L796.8,532.7 L796.1,531.7 L795.5,530.7 L794.8,529.7 L794.2,528.7 L793.7,527.7 L793.1,526.7 L792.6,525.7 L792.1,524.7 L791.7,523.7 L791.2,522.7 L790.9,521.7 L790.5,520.7 L790.1,519.7 L789.8,518.7 L789.4,517.7 L789.1,516.7 L788.7,515.7 L788.4,514.7 L788.1,513.7 L787.8,512.7 L787.6,511.7 L787.3,510.7 L787.1,509.7 L787.0,508.7 L786.9,507.7 L786.8,506.7 L786.7,505.7 L786.7,504.7 L786.7,503.7 L786.8,502.7 L786.8,501.7 L786.8,500.7 L786.9,499.7 L787.0,498.7 L787.0,497.7 L787.1,496.7 L787.2,495.7 L787.3,494.7 L787.4,493.7 L787.6,492.7 L787.8,491.7 L788.0,490.7 L788.3,489.7 L788.7,488.7 L789.1,487.7 L789.6,486.7 L790.0,485.7 L790.4,484.7 L790.8,483.7 L791.2,482.7 L791.6,481.7 L791.9,480.7 L792.2,479.7 L792.6,478.7 L792.9,477.7 L793.2,476.7 L793.6,475.7 L793.9,474.7 L794.2,473.7 L794.6,472.7 L795.0,471.7 L795.3,470.7 L795.7,469.7 L796.1,468.7 L796.5,467.7 L796.9,466.7 L797.3,465.7 L797.7,464.7 L798.2,463.7 L798.6,462.7 L799.0,461.7 L799.4,460.7 L799.7,459.7 L800.1,458.7 L800.4,457.7 L800.7,456.7 L801.0,455.7 L801.2,454.7 L801.5,453.7 L801.8,452.7 L802.0,451.7 L802.2,450.7 L802.5,449.7 L802.7,448.7 L802.9,447.7 L803.1,446.7 L803.3,445.7 L803.4,444.7 L803.6,443.7 L803.8,442.7 L803.9,441.7 L804.1,440.7 L804.2,439.7 L804.3,438.7 L804.4,437.7 L804.6,436.7 L804.7,435.7 L804.8,434.7 L805.0,433.7 L805.1,432.7 L805.2,431.7 L805.3,430.7 L805.5,429.7 L805.6,428.7 L805.7,427.7 L805.9,426.7 L806.0,425.7 L806.1,424.7 L806.3,423.7 L806.4,422.7 L806.6,421.7 L806.7,420.7 L806.9,419.7 L807.0,418.7 L807.2,417.7 L807.4,416.7 L807.6,415.7 L807.8,414.7 L808.0,413.7 L808.2,412.7 L808.4,411.7 L808.7,410.7 L808.9,409.7 L809.1,408.7 L809.4,407.7 L809.6,406.7 L809.9,405.7 L810.1,404.7 L810.4,403.7 L810.6,402.7 L810.9,401.7 L811.2,400.7 L811.5,399.7 L811.8,398.7 L812.1,397.7 L812.4,396.7 L812.7,395.7 L813.0,394.7 L813.4,393.7 L813.7,392.7 L814.1,391.7 L814.5,390.7 L814.9,389.7 L815.4,388.7 L815.8,387.7 L816.2,386.7 L816.7,385.7 L817.1,384.7 L817.5,383.7 L817.8,382.7 L818.2,381.7 L818.4,380.7 L818.7,379.7 L818.9,378.7 L819.1,377.7 L819.4,376.7 L819.5,375.7 L819.7,374.7 L819.9,373.7 L820.1,372.7 L820.2,371.7 L820.4,370.7 L820.6,369.7 L820.7,368.7 L820.9,367.7 L821.1,366.7 L821.3,365.7 L821.5,364.7 L821.7,363.7 L821.9,362.7 L822.1,361.7 L822.2,360.7 L822.4,359.7 L822.6,358.7 L822.8,357.7 L823.0,356.7 L823.2,355.7 L823.4,354.7 L823.5,353.7 L823.7,352.7 L823.9,351.7 L824.0,350.7 L824.0,349.7 L824.1,348.7 L824.1,347.7 L824.1,346.7 L824.1,345.7 L824.0,344.7 L824.0,343.7 L824.0,342.7 L824.0,341.7 L823.9,340.7 L823.9,339.7 L823.9,338.7 L823.9,337.7 L823.9,336.7 L823.8,335.7 L823.8,334.7 L823.8,333.7 L823.8,332.7 L823.8,331.7 L823.8,330.7 L823.8,329.7 L823.8,328.7 L823.8,327.7 L823.8,326.7 L823.8,325.7 L823.8,324.7 L823.8,323.7 L823.8,322.7 L823.8,321.7 L823.8,320.7 L823.8,319.7 L823.8,318.7 L823.8,317.7 L823.8,316.7 L823.8,315.7 L823.8,314.7 L823.8,313.7 L823.8,312.7 L823.8,311.7 L823.8,310.7 L823.9,309.7 L823.9,308.7 L823.9,307.7 L823.9,306.7 L823.9,305.7 L823.9,304.7 L824.0,303.7 L824.0,302.7 L824.0,301.7 L824.1,300.7 L824.1,299.7 L824.2,298.7 L824.2,297.7 L824.3,296.7 L824.3,295.7 L824.4,294.7 L824.5,293.7 L824.5,292.7 L824.6,291.7 L824.6,290.7 L824.7,289.7 L824.8,288.7 L824.9,287.7 L824.9,286.7 L825.0,285.7 L825.1,284.7 L825.2,283.7 L825.3,282.7 L825.4,281.7 L825.5,280.7 L825.5,279.7 Z" fill="#ff63b4" stroke="#000" stroke-width="1.5" stroke-linejoin="round"/>
<line x1="826.4" y1="320.4" x2="826.4" y2="438.9" stroke="#000" stroke-width="3"/>
<line x1="826.4" y1="521.9" x2="826.4" y2="582.8" stroke="#000" stroke-width="3"/>
<line x1="814.9" y1="320.4" x2="837.9" y2="320.4" stroke="#000" stroke-width="3"/>
<line x1="814.9" y1="582.8" x2="837.9" y2="582.8" stroke="#000" stroke-width="3"/>
<rect x="803.4" y="440.4" width="46.0" height="80.0" fill="#ee1289" stroke="#000" stroke-width="3"/>
<line x1="803.4" y1="488.0" x2="849.4" y2="488.0" stroke="#000" stroke-width="3.8"/>
<line x1="914.9" y1="278.2" x2="914.9" y2="635.0" stroke="#000" stroke-width="1.6"/>
<path d="M915.8,293.9 L915.8,294.9 L915.9,295.9 L916.0,296.9 L916.1,297.9 L916.2,298.9 L916.3,299.9 L916.4,300.9 L916.5,301.9 L916.6,302.9 L916.7,303.9 L916.7,304.9 L916.8,305.9 L916.8,306.9 L916.9,307.9 L916.9,308.9 L916.9,309.9 L917.0,310.9 L917.0,311.9 L917.0,312.9 L917.0,313.9 L917.1,314.9 L917.1,315.9 L917.1,316.9 L917.1,317.9 L917.2,318.9 L917.2,319.9 L917.2,320.9 L917.3,321.9 L917.3,322.9 L917.3,323.9 L917.3,324.9 L917.3,325.9 L917.3,326.9 L917.4,327.9 L917.4,328.9 L917.4,329.9 L917.4,330.9 L917.4,331.9 L917.4,332.9 L917.3,333.9 L917.2,334.9 L917.1,335.9 L917.0,336.9 L916.8,337.9 L916.7,338.9 L916.6,339.9 L916.5,340.9 L916.5,341.9 L916.5,342.9 L916.5,343.9 L916.4,344.9 L916.4,345.9 L916.4,346.9 L916.4,347.9 L916.4,348.9 L916.4,349.9 L916.4,350.9 L916.4,351.9 L916.4,352.9 L916.4,353.9 L916.4,354.9 L916.5,355.9 L916.5,356.9 L916.6,357.9 L916.6,358.9 L916.6,359.9 L916.7,360.9 L916.8,361.9 L916.8,362.9 L916.9,363.9 L917.0,364.9 L917.1,365.9 L917.2,366.9 L917.3,367.9 L917.4,368.9 L917.6,369.9 L917.8,370.9 L918.0,371.9 L918.3,372.9 L918.6,373.9 L918.9,374.9 L919.2,375.9 L919.5,376.9 L919.8,377.9 L920.1,378.9 L920.3,379.9 L920.6,380.9 L920.9,381.9 L921.2,382.9 L921.4,383.9 L921.7,384.9 L922.0,385.9 L922.4,386.9 L922.7,387.9 L923.1,388.9 L923.4,389.9 L923.8,390.9 L924.2,391.9 L924.5,392.9 L924.9,393.9 L925.3,394.9 L925.6,395.9 L925.9,396.9 L926.3,397.9 L926.6,398.9 L926.9,399.9 L927.1,400.9 L927.4,401.9 L927.6,402.9 L927.8,403.9 L928.1,404.9 L928.3,405.9 L928.5,406.9 L928.7,407.9 L928.9,408.9 L929.1,409.9 L929.3,410.9 L929.5,411.9 L929.7,412.9 L929.9,413.9 L930.1,414.9 L930.3,415.9 L930.5,416.9 L930.6,417.9 L930.8,418.9 L931.0,419.9 L931.2,420.9 L931.4,421.9 L931.6,422.9 L931.7,423.9 L931.9,424.9 L932.1,425.9 L932.3,426.9 L932.5,427.9 L932.6,428.9 L932.8,429.9 L933.0,430.9 L933.2,431.9 L933.3,432.9 L933.5,433.9 L933.7,434.9 L933.8,435.9 L934.0,436.9 L934.1,437.9 L934.3,438.9 L934.4,439.9 L934.6,440.9 L934.7,441.9 L934.8,442.9 L935.0,443.9 L935.1,444.9 L935.2,445.9 L935.4,446.9 L935.5,447.9 L935.6,448.9 L935.7,449.9 L935.9,450.9 L936.0,451.9 L936.1,452.9 L936.3,453.9 L936.4,454.9 L936.5,455.9 L936.6,456.9 L936.8,457.9 L936.9,458.9 L937.0,459.9 L937.1,460.9 L937.3,461.9 L937.4,462.9 L937.5,463.9 L937.7,464.9 L937.8,465.9 L937.9,466.9 L938.1,467.9 L938.2,468.9 L938.4,469.9 L938.5,470.9 L938.7,471.9 L938.9,472.9 L939.1,473.9 L939.3,474.9 L939.5,475.9 L939.7,476.9 L940.1,477.9 L940.5,478.9 L941.0,479.9 L941.6,480.9 L942.3,481.9 L943.0,482.9 L943.8,483.9 L944.6,484.9 L945.4,485.9 L946.2,486.9 L947.0,487.9 L947.7,488.9 L948.3,489.9 L948.9,490.9 L949.5,491.9 L950.1,492.9 L950.6,493.9 L951.2,494.9 L951.7,495.9 L952.2,496.9 L952.6,497.9 L952.9,498.9 L953.2,499.9 L953.4,500.9 L953.5,501.9 L953.6,502.9 L953.6,503.9 L953.7,504.9 L953.7,505.9 L953.8,506.9 L953.8,507.9 L953.8,508.9 L953.7,509.9 L953.7,510.9 L953.6,511.9 L953.5,512.9 L953.3,513.9 L953.2,514.9 L953.0,515.9 L952.8,516.9 L952.5,517.9 L952.3,518.9 L952.0,519.9 L951.7,520.9 L951.3,521.9 L950.8,522.9 L950.3,523.9 L949.7,524.9 L949.0,525.9 L948.3,526.9 L947.6,527.9 L946.9,528.9 L946.1,529.9 L945.4,530.9 L944.6,531.9 L943.7,532.9 L942.9,533.9 L942.0,534.9 L941.0,535.9 L940.1,536.9 L939.1,537.9 L938.1,538.9 L937.2,539.9 L936.3,540.9 L935.4,541.9 L934.6,542.9 L933.8,543.9 L933.0,544.9 L932.2,545.9 L931.5,546.9 L930.7,547.9 L930.0,548.9 L929.3,549.9 L928.7,550.9 L928.0,551.9 L927.4,552.9 L926.8,553.9 L926.2,554.9 L925.6,555.9 L925.1,556.9 L924.5,557.9 L924.0,558.9 L923.5,559.9 L923.0,560.9 L922.5,561.9 L922.1,562.9 L921.7,563.9 L921.4,564.9 L921.0,565.9 L920.8,566.9 L920.5,567.9 L920.2,568.9 L920.0,569.9 L919.8,570.9 L919.6,571.9 L919.4,572.9 L919.2,573.9 L919.1,574.9 L919.0,575.9 L918.8,576.9 L918.7,577.9 L918.6,578.9 L918.5,579.9 L918.4,580.9 L918.3,581.9 L918.3,582.9 L918.2,583.9 L918.1,584.9 L918.0,585.9 L918.0,586.9 L917.9,587.9 L917.9,588.9 L917.8,589.9 L917.8,590.9 L917.7,591.9 L917.7,592.9 L917.6,593.9 L917.5,594.9 L917.5,595.9 L917.4,596.9 L917.3,597.9 L917.2,598.9 L917.1,599.9 L917.0,600.9 L916.9,601.9 L916.7,602.9 L916.6,603.9 L916.5,604.9 L916.3,605.9 L916.2,606.9 L916.0,607.9 L915.9,608.9 L915.7,609.9 L915.5,610.5 L914.3,610.5 L914.1,609.9 L913.9,608.9 L913.8,607.9 L913.6,606.9 L913.5,605.9 L913.3,604.9 L913.2,603.9 L913.1,602.9 L912.9,601.9 L912.8,600.9 L912.7,599.9 L912.6,598.9 L912.5,597.9 L912.4,596.9 L912.3,595.9 L912.3,594.9 L912.2,593.9 L912.1,592.9 L912.1,591.9 L912.0,590.9 L912.0,589.9 L911.9,588.9 L911.9,587.9 L911.8,586.9 L911.8,585.9 L911.7,584.9 L911.6,583.9 L911.5,582.9 L911.5,581.9 L911.4,580.9 L911.3,579.9 L911.2,578.9 L911.1,577.9 L911.0,576.9 L910.8,575.9 L910.7,574.9 L910.6,573.9 L910.4,572.9 L910.2,571.9 L910.0,570.9 L909.8,569.9 L909.6,568.9 L909.3,567.9 L909.0,566.9 L908.8,565.9 L908.4,564.9 L908.1,563.9 L907.7,562.9 L907.3,561.9 L906.8,560.9 L906.3,559.9 L905.8,558.9 L905.3,557.9 L904.7,556.9 L904.2,555.9 L903.6,554.9 L903.0,553.9 L902.4,552.9 L901.8,551.9 L901.1,550.9 L900.5,549.9 L899.8,548.9 L899.1,547.9 L898.3,546.9 L897.6,545.9 L896.8,544.9 L896.0,543.9 L895.2,542.9 L894.4,541.9 L893.5,540.9 L892.6,539.9 L891.7,538.9 L890.7,537.9 L889.7,536.9 L888.8,535.9 L887.8,534.9 L886.9,533.9 L886.1,532.9 L885.2,531.9 L884.4,530.9 L883.7,529.9 L882.9,528.9 L882.2,527.9 L881.5,526.9 L880.8,525.9 L880.1,524.9 L879.5,523.9 L879.0,522.9 L878.5,521.9 L878.1,520.9 L877.8,519.9 L877.5,518.9 L877.3,517.9 L877.0,516.9 L876.8,515.9 L876.6,514.9 L876.5,513.9 L876.3,512.9 L876.2,511.9 L876.1,510.9 L876.1,509.9 L876.0,508.9 L876.0,507.9 L876.0,506.9 L876.1,505.9 L876.1,504.9 L876.2,503.9 L876.2,502.9 L876.3,501.9 L876.4,500.9 L876.6,499.9 L876.9,498.9 L877.2,497.9 L877.6,496.9 L878.1,495.9 L878.6,494.9 L879.2,493.9 L879.7,492.9 L880.3,491.9 L880.9,490.9 L881.5,489.9 L882.1,488.9 L882.8,487.9 L883.6,486.9 L884.4,485.9 L885.2,484.9 L886.0,483.9 L886.8,482.9 L887.5,481.9 L888.2,480.9 L888.8,479.9 L889.3,478.9 L889.7,477.9 L890.1,476.9 L890.3,475.9 L890.5,474.9 L890.7,473.9 L890.9,472.9 L891.1,471.9 L891.3,470.9 L891.4,469.9 L891.6,468.9 L891.7,467.9 L891.9,466.9 L892.0,465.9 L892.1,464.9 L892.3,463.9 L892.4,462.9 L892.5,461.9 L892.7,460.9 L892.8,459.9 L892.9,458.9 L893.0,457.9 L893.2,456.9 L893.3,455.9 L893.4,454.9 L893.5,453.9 L893.7,452.9 L893.8,451.9 L893.9,450.9 L894.1,449.9 L894.2,448.9 L894.3,447.9 L894.4,446.9 L894.6,445.9 L894.7,444.9 L894.8,443.9 L895.0,442.9 L895.1,441.9 L895.2,440.9 L895.4,439.9 L895.5,438.9 L895.7,437.9 L895.8,436.9 L896.0,435.9 L896.1,434.9 L896.3,433.9 L896.5,432.9 L896.6,431.9 L896.8,430.9 L897.0,429.9 L897.2,428.9 L897.3,427.9 L897.5,426.9 L897.7,425.9 L897.9,424.9 L898.1,423.9 L898.2,422.9 L898.4,421.9 L898.6,420.9 L898.8,419.9 L899.0,418.9 L899.2,417.9 L899.3,416.9 L899.5,415.9 L899.7,414.9 L899.9,413.9 L900.1,412.9 L900.3,411.9 L900.5,410.9 L900.7,409.9 L900.9,408.9 L901.1,407.9 L901.3,406.9 L901.5,405.9 L901.7,404.9 L902.0,403.9 L902.2,402.9 L902.4,401.9 L902.7,400.9 L902.9,399.9 L903.2,398.9 L903.5,397.9 L903.9,396.9 L904.2,395.9 L904.5,394.9 L904.9,393.9 L905.3,392.9 L905.6,391.9 L906.0,390.9 L906.4,389.9 L906.7,388.9 L907.1,387.9 L907.4,386.9 L907.8,385.9 L908.1,384.9 L908.4,383.9 L908.6,382.9 L908.9,381.9 L909.2,380.9 L909.5,379.9 L909.7,378.9 L910.0,377.9 L910.3,376.9 L910.6,375.9 L910.9,374.9 L911.2,373.9 L911.5,372.9 L911.8,371.9 L912.0,370.9 L912.2,369.9 L912.4,368.9 L912.5,367.9 L912.6,366.9 L912.7,365.9 L912.8,364.9 L912.9,363.9 L913.0,362.9 L913.0,361.9 L913.1,360.9 L913.2,359.9 L913.2,358.9 L913.2,357.9 L913.3,356.9 L913.3,355.9 L913.4,354.9 L913.4,353.9 L913.4,352.9 L913.4,351.9 L913.4,350.9 L913.4,349.9 L913.4,348.9 L913.4,347.9 L913.4,346.9 L913.4,345.9 L913.4,344.9 L913.3,343.9 L913.3,342.9 L913.3,341.9 L913.3,340.9 L913.2,339.9 L913.1,338.9 L913.0,337.9 L912.8,336.9 L912.7,335.9 L912.6,334.9 L912.5,333.9 L912.4,332.9 L912.4,331.9 L912.4,330.9 L912.4,329.9 L912.4,328.9 L912.4,327.9 L912.5,326.9 L912.5,325.9 L912.5,324.9 L912.5,323.9 L912.5,322.9 L912.5,321.9 L912.6,320.9 L912.6,319.9 L912.6,318.9 L912.7,317.9 L912.7,316.9 L912.7,315.9 L912.7,314.9 L912.8,313.9 L912.8,312.9 L912.8,311.9 L912.8,310.9 L912.9,309.9 L912.9,308.9 L912.9,307.9 L913.0,306.9 L913.0,305.9 L913.1,304.9 L913.1,303.9 L913.2,302.9 L913.3,301.9 L913.4,300.9 L913.5,299.9 L913.6,298.9 L913.7,297.9 L913.8,296.9 L913.9,295.9 L914.0,294.9 L914.0,293.9 Z" fill="#52fa9c" stroke="#000" stroke-width="1.5" stroke-linejoin="round"/>
<line x1="914.9" y1="324.4" x2="914.9" y2="438.9" stroke="#000" stroke-width="3"/>
<line x1="914.9" y1="521.6" x2="914.9" y2="587.4" stroke="#000" stroke-width="3"/>
<line x1="903.4" y1="324.4" x2="926.4" y2="324.4" stroke="#000" stroke-width="3"/>
<line x1="903.4" y1="587.4" x2="926.4" y2="587.4" stroke="#000" stroke-width="3"/>
<rect x="891.9" y="440.4" width="46.0" height="79.7" fill="#00cd66" stroke="#000" stroke-width="3"/>
<line x1="891.9" y1="493.5" x2="937.9" y2="493.5" stroke="#000" stroke-width="3.8"/>
<line x1="1004.3" y1="272.4" x2="1004.3" y2="637.8" stroke="#000" stroke-width="1.6"/>
<path d="M1005.2,288.1 L1005.3,289.1 L1005.4,290.1 L1005.5,291.1 L1005.7,292.1 L1005.8,293.1 L1005.9,294.1 L1006.0,295.1 L1006.1,296.1 L1006.2,297.1 L1006.3,298.1 L1006.4,299.1 L1006.4,300.1 L1006.5,301.1 L1006.5,302.1 L1006.6,303.1 L1006.6,304.1 L1006.6,305.1 L1006.7,306.1 L1006.7,307.1 L1006.7,308.1 L1006.7,309.1 L1006.8,310.1 L1006.8,311.1 L1006.8,312.1 L1006.8,313.1 L1006.8,314.1 L1006.8,315.1 L1006.8,316.1 L1006.8,317.1 L1006.8,318.1 L1006.8,319.1 L1006.8,320.1 L1006.7,321.1 L1006.7,322.1 L1006.7,323.1 L1006.7,324.1 L1006.7,325.1 L1006.6,326.1 L1006.6,327.1 L1006.6,328.1 L1006.6,329.1 L1006.5,330.1 L1006.5,331.1 L1006.4,332.1 L1006.4,333.1 L1006.3,334.1 L1006.2,335.1 L1006.1,336.1 L1006.1,337.1 L1006.0,338.1 L1005.9,339.1 L1005.9,340.1 L1005.8,341.1 L1005.8,342.1 L1005.7,343.1 L1005.7,344.1 L1005.6,345.1 L1005.6,346.1 L1005.6,347.1 L1005.5,348.1 L1005.5,349.1 L1005.5,350.1 L1005.5,351.1 L1005.5,352.1 L1005.5,353.1 L1005.5,354.1 L1005.5,355.1 L1005.5,356.1 L1005.5,357.1 L1005.5,358.1 L1005.6,359.1 L1005.7,360.1 L1005.8,361.1 L1006.0,362.1 L1006.2,363.1 L1006.4,364.1 L1006.6,365.1 L1006.8,366.1 L1007.0,367.1 L1007.2,368.1 L1007.4,369.1 L1007.6,370.1 L1007.9,371.1 L1008.1,372.1 L1008.3,373.1 L1008.6,374.1 L1008.9,375.1 L1009.2,376.1 L1009.4,377.1 L1009.7,378.1 L1010.0,379.1 L1010.3,380.1 L1010.6,381.1 L1010.8,382.1 L1011.1,383.1 L1011.3,384.1 L1011.6,385.1 L1011.9,386.1 L1012.1,387.1 L1012.3,388.1 L1012.6,389.1 L1012.8,390.1 L1013.0,391.1 L1013.3,392.1 L1013.5,393.1 L1013.7,394.1 L1013.9,395.1 L1014.1,396.1 L1014.4,397.1 L1014.6,398.1 L1014.8,399.1 L1015.0,400.1 L1015.3,401.1 L1015.5,402.1 L1015.7,403.1 L1016.0,404.1 L1016.2,405.1 L1016.5,406.1 L1016.7,407.1 L1017.0,408.1 L1017.2,409.1 L1017.5,410.1 L1017.7,411.1 L1018.0,412.1 L1018.2,413.1 L1018.5,414.1 L1018.7,415.1 L1019.0,416.1 L1019.2,417.1 L1019.5,418.1 L1019.8,419.1 L1020.0,420.1 L1020.3,421.1 L1020.5,422.1 L1020.8,423.1 L1021.0,424.1 L1021.3,425.1 L1021.6,426.1 L1021.8,427.1 L1022.1,428.1 L1022.3,429.1 L1022.6,430.1 L1022.9,431.1 L1023.2,432.1 L1023.4,433.1 L1023.7,434.1 L1023.9,435.1 L1024.2,436.1 L1024.4,437.1 L1024.6,438.1 L1024.8,439.1 L1025.0,440.1 L1025.2,441.1 L1025.4,442.1 L1025.6,443.1 L1025.7,444.1 L1025.8,445.1 L1026.0,446.1 L1026.1,447.1 L1026.2,448.1 L1026.4,449.1 L1026.5,450.1 L1026.6,451.1 L1026.7,452.1 L1026.8,453.1 L1026.9,454.1 L1027.0,455.1 L1027.2,456.1 L1027.3,457.1 L1027.4,458.1 L1027.5,459.1 L1027.6,460.1 L1027.7,461.1 L1027.8,462.1 L1027.9,463.1 L1028.0,464.1 L1028.1,465.1 L1028.2,466.1 L1028.3,467.1 L1028.4,468.1 L1028.5,469.1 L1028.6,470.1 L1028.7,471.1 L1028.9,472.1 L1029.0,473.1 L1029.2,474.1 L1029.3,475.1 L1029.5,476.1 L1029.7,477.1 L1030.0,478.1 L1030.4,479.1 L1030.8,480.1 L1031.3,481.1 L1031.9,482.1 L1032.6,483.1 L1033.3,484.1 L1034.0,485.1 L1034.8,486.1 L1035.5,487.1 L1036.1,488.1 L1036.7,489.1 L1037.3,490.1 L1037.8,491.1 L1038.4,492.1 L1038.9,493.1 L1039.4,494.1 L1039.9,495.1 L1040.3,496.1 L1040.8,497.1 L1041.2,498.1 L1041.6,499.1 L1042.0,500.1 L1042.4,501.1 L1042.7,502.1 L1043.0,503.1 L1043.3,504.1 L1043.6,505.1 L1043.8,506.1 L1043.9,507.1 L1043.9,508.1 L1043.8,509.1 L1043.6,510.1 L1043.4,511.1 L1043.1,512.1 L1042.8,513.1 L1042.4,514.1 L1042.1,515.1 L1041.8,516.1 L1041.5,517.1 L1041.1,518.1 L1040.8,519.1 L1040.4,520.1 L1040.0,521.1 L1039.5,522.1 L1039.0,523.1 L1038.5,524.1 L1037.9,525.1 L1037.3,526.1 L1036.6,527.1 L1035.8,528.1 L1035.0,529.1 L1034.2,530.1 L1033.3,531.1 L1032.4,532.1 L1031.5,533.1 L1030.7,534.1 L1029.8,535.1 L1028.9,536.1 L1028.0,537.1 L1027.0,538.1 L1026.1,539.1 L1025.1,540.1 L1024.1,541.1 L1023.2,542.1 L1022.3,543.1 L1021.4,544.1 L1020.5,545.1 L1019.7,546.1 L1019.0,547.1 L1018.3,548.1 L1017.6,549.1 L1017.0,550.1 L1016.3,551.1 L1015.7,552.1 L1015.1,553.1 L1014.6,554.1 L1014.1,555.1 L1013.6,556.1 L1013.1,557.1 L1012.7,558.1 L1012.3,559.1 L1011.9,560.1 L1011.6,561.1 L1011.2,562.1 L1010.9,563.1 L1010.6,564.1 L1010.3,565.1 L1010.1,566.1 L1009.8,567.1 L1009.6,568.1 L1009.4,569.1 L1009.2,570.1 L1009.1,571.1 L1008.9,572.1 L1008.7,573.1 L1008.6,574.1 L1008.5,575.1 L1008.3,576.1 L1008.2,577.1 L1008.1,578.1 L1008.0,579.1 L1007.9,580.1 L1007.8,581.1 L1007.7,582.1 L1007.6,583.1 L1007.5,584.1 L1007.4,585.1 L1007.4,586.1 L1007.3,587.1 L1007.2,588.1 L1007.2,589.1 L1007.1,590.1 L1007.0,591.1 L1007.0,592.1 L1006.9,593.1 L1006.8,594.1 L1006.7,595.1 L1006.6,596.1 L1006.6,597.1 L1006.5,598.1 L1006.4,599.1 L1006.3,600.1 L1006.2,601.1 L1006.1,602.1 L1005.9,603.1 L1005.8,604.1 L1005.7,605.1 L1005.6,606.1 L1005.4,607.1 L1005.3,608.1 L1005.2,609.1 L1005.1,610.1 L1004.9,610.5 L1003.7,610.5 L1003.5,610.1 L1003.4,609.1 L1003.3,608.1 L1003.2,607.1 L1003.0,606.1 L1002.9,605.1 L1002.8,604.1 L1002.7,603.1 L1002.5,602.1 L1002.4,601.1 L1002.3,600.1 L1002.2,599.1 L1002.1,598.1 L1002.0,597.1 L1002.0,596.1 L1001.9,595.1 L1001.8,594.1 L1001.7,593.1 L1001.6,592.1 L1001.6,591.1 L1001.5,590.1 L1001.4,589.1 L1001.4,588.1 L1001.3,587.1 L1001.2,586.1 L1001.2,585.1 L1001.1,584.1 L1001.0,583.1 L1000.9,582.1 L1000.8,581.1 L1000.7,580.1 L1000.6,579.1 L1000.5,578.1 L1000.4,577.1 L1000.3,576.1 L1000.1,575.1 L1000.0,574.1 L999.9,573.1 L999.7,572.1 L999.5,571.1 L999.4,570.1 L999.2,569.1 L999.0,568.1 L998.8,567.1 L998.5,566.1 L998.3,565.1 L998.0,564.1 L997.7,563.1 L997.4,562.1 L997.0,561.1 L996.7,560.1 L996.3,559.1 L995.9,558.1 L995.5,557.1 L995.0,556.1 L994.5,555.1 L994.0,554.1 L993.5,553.1 L992.9,552.1 L992.3,551.1 L991.6,550.1 L991.0,549.1 L990.3,548.1 L989.6,547.1 L988.9,546.1 L988.1,545.1 L987.2,544.1 L986.3,543.1 L985.4,542.1 L984.5,541.1 L983.5,540.1 L982.5,539.1 L981.6,538.1 L980.6,537.1 L979.7,536.1 L978.8,535.1 L977.9,534.1 L977.1,533.1 L976.2,532.1 L975.3,531.1 L974.4,530.1 L973.6,529.1 L972.8,528.1 L972.0,527.1 L971.3,526.1 L970.7,525.1 L970.1,524.1 L969.6,523.1 L969.1,522.1 L968.6,521.1 L968.2,520.1 L967.8,519.1 L967.5,518.1 L967.1,517.1 L966.8,516.1 L966.5,515.1 L966.2,514.1 L965.8,513.1 L965.5,512.1 L965.2,511.1 L965.0,510.1 L964.8,509.1 L964.7,508.1 L964.7,507.1 L964.8,506.1 L965.0,505.1 L965.3,504.1 L965.6,503.1 L965.9,502.1 L966.2,501.1 L966.6,500.1 L967.0,499.1 L967.4,498.1 L967.8,497.1 L968.3,496.1 L968.7,495.1 L969.2,494.1 L969.7,493.1 L970.2,492.1 L970.8,491.1 L971.3,490.1 L971.9,489.1 L972.5,488.1 L973.1,487.1 L973.8,486.1 L974.6,485.1 L975.3,484.1 L976.0,483.1 L976.7,482.1 L977.3,481.1 L977.8,480.1 L978.2,479.1 L978.6,478.1 L978.9,477.1 L979.1,476.1 L979.3,475.1 L979.4,474.1 L979.6,473.1 L979.7,472.1 L979.9,471.1 L980.0,470.1 L980.1,469.1 L980.2,468.1 L980.3,467.1 L980.4,466.1 L980.5,465.1 L980.6,464.1 L980.7,463.1 L980.8,462.1 L980.9,461.1 L981.0,460.1 L981.1,459.1 L981.2,458.1 L981.3,457.1 L981.4,456.1 L981.6,455.1 L981.7,454.1 L981.8,453.1 L981.9,452.1 L982.0,451.1 L982.1,450.1 L982.2,449.1 L982.4,448.1 L982.5,447.1 L982.6,446.1 L982.8,445.1 L982.9,444.1 L983.0,443.1 L983.2,442.1 L983.4,441.1 L983.6,440.1 L983.8,439.1 L984.0,438.1 L984.2,437.1 L984.4,436.1 L984.7,435.1 L984.9,434.1 L985.2,433.1 L985.4,432.1 L985.7,431.1 L986.0,430.1 L986.3,429.1 L986.5,428.1 L986.8,427.1 L987.0,426.1 L987.3,425.1 L987.6,424.1 L987.8,423.1 L988.1,422.1 L988.3,421.1 L988.6,420.1 L988.8,419.1 L989.1,418.1 L989.4,417.1 L989.6,416.1 L989.9,415.1 L990.1,414.1 L990.4,413.1 L990.6,412.1 L990.9,411.1 L991.1,410.1 L991.4,409.1 L991.6,408.1 L991.9,407.1 L992.1,406.1 L992.4,405.1 L992.6,404.1 L992.9,403.1 L993.1,402.1 L993.3,401.1 L993.6,400.1 L993.8,399.1 L994.0,398.1 L994.2,397.1 L994.5,396.1 L994.7,395.1 L994.9,394.1 L995.1,393.1 L995.3,392.1 L995.6,391.1 L995.8,390.1 L996.0,389.1 L996.3,388.1 L996.5,387.1 L996.7,386.1 L997.0,385.1 L997.3,384.1 L997.5,383.1 L997.8,382.1 L998.0,381.1 L998.3,380.1 L998.6,379.1 L998.9,378.1 L999.2,377.1 L999.4,376.1 L999.7,375.1 L1000.0,374.1 L1000.3,373.1 L1000.5,372.1 L1000.7,371.1 L1001.0,370.1 L1001.2,369.1 L1001.4,368.1 L1001.6,367.1 L1001.8,366.1 L1002.0,365.1 L1002.2,364.1 L1002.4,363.1 L1002.6,362.1 L1002.8,361.1 L1002.9,360.1 L1003.0,359.1 L1003.1,358.1 L1003.1,357.1 L1003.1,356.1 L1003.1,355.1 L1003.1,354.1 L1003.1,353.1 L1003.1,352.1 L1003.1,351.1 L1003.1,350.1 L1003.1,349.1 L1003.1,348.1 L1003.0,347.1 L1003.0,346.1 L1003.0,345.1 L1002.9,344.1 L1002.9,343.1 L1002.8,342.1 L1002.8,341.1 L1002.7,340.1 L1002.7,339.1 L1002.6,338.1 L1002.5,337.1 L1002.5,336.1 L1002.4,335.1 L1002.3,334.1 L1002.2,333.1 L1002.2,332.1 L1002.1,331.1 L1002.1,330.1 L1002.0,329.1 L1002.0,328.1 L1002.0,327.1 L1002.0,326.1 L1001.9,325.1 L1001.9,324.1 L1001.9,323.1 L1001.9,322.1 L1001.9,321.1 L1001.8,320.1 L1001.8,319.1 L1001.8,318.1 L1001.8,317.1 L1001.8,316.1 L1001.8,315.1 L1001.8,314.1 L1001.8,313.1 L1001.8,312.1 L1001.8,311.1 L1001.8,310.1 L1001.9,309.1 L1001.9,308.1 L1001.9,307.1 L1001.9,306.1 L1002.0,305.1 L1002.0,304.1 L1002.0,303.1 L1002.1,302.1 L1002.1,301.1 L1002.2,300.1 L1002.2,299.1 L1002.3,298.1 L1002.4,297.1 L1002.5,296.1 L1002.6,295.1 L1002.7,294.1 L1002.8,293.1 L1002.9,292.1 L1003.1,291.1 L1003.2,290.1 L1003.3,289.1 L1003.4,288.1 Z" fill="#ffb90f" stroke="#000" stroke-width="1.5" stroke-linejoin="round"/>
<line x1="1004.3" y1="392.8" x2="1004.3" y2="446.0" stroke="#000" stroke-width="3"/>
<line x1="1004.3" y1="517.9" x2="1004.3" y2="588.3" stroke="#000" stroke-width="3"/>
<line x1="992.8" y1="392.8" x2="1015.8" y2="392.8" stroke="#000" stroke-width="3"/>
<line x1="992.8" y1="588.3" x2="1015.8" y2="588.3" stroke="#000" stroke-width="3"/>
<rect x="981.3" y="447.5" width="46.0" height="68.9" fill="#ff7f00" stroke="#000" stroke-width="3"/>
<line x1="981.3" y1="493.5" x2="1027.3" y2="493.5" stroke="#000" stroke-width="3.8"/>
<circle cx="1004.9" cy="321.9" r="4.8" fill="#000"/>
<line x1="1092.4" y1="271.3" x2="1092.4" y2="642.5" stroke="#000" stroke-width="1.6"/>
<path d="M1093.6,300.5 L1093.8,301.5 L1094.0,302.5 L1094.1,303.5 L1094.1,304.5 L1094.2,305.5 L1094.3,306.5 L1094.3,307.5 L1094.4,308.5 L1094.6,309.5 L1094.7,310.5 L1094.8,311.5 L1094.9,312.5 L1095.0,313.5 L1095.1,314.5 L1095.1,315.5 L1095.2,316.5 L1095.2,317.5 L1095.3,318.5 L1095.3,319.5 L1095.3,320.5 L1095.4,321.5 L1095.4,322.5 L1095.4,323.5 L1095.4,324.5 L1095.4,325.5 L1095.4,326.5 L1095.5,327.5 L1095.5,328.5 L1095.5,329.5 L1095.5,330.5 L1095.5,331.5 L1095.5,332.5 L1095.5,333.5 L1095.5,334.5 L1095.5,335.5 L1095.4,336.5 L1095.4,337.5 L1095.3,338.5 L1095.1,339.5 L1095.0,340.5 L1094.8,341.5 L1094.6,342.5 L1094.5,343.5 L1094.4,344.5 L1094.3,345.5 L1094.2,346.5 L1094.1,347.5 L1094.1,348.5 L1094.0,349.5 L1093.9,350.5 L1093.9,351.5 L1093.9,352.5 L1093.9,353.5 L1093.9,354.5 L1093.9,355.5 L1093.9,356.5 L1093.9,357.5 L1093.9,358.5 L1094.0,359.5 L1094.1,360.5 L1094.3,361.5 L1094.6,362.5 L1094.9,363.5 L1095.2,364.5 L1095.4,365.5 L1095.6,366.5 L1095.9,367.5 L1096.1,368.5 L1096.3,369.5 L1096.5,370.5 L1096.7,371.5 L1096.9,372.5 L1097.1,373.5 L1097.3,374.5 L1097.6,375.5 L1097.8,376.5 L1098.0,377.5 L1098.3,378.5 L1098.5,379.5 L1098.8,380.5 L1099.1,381.5 L1099.4,382.5 L1099.6,383.5 L1099.9,384.5 L1100.2,385.5 L1100.5,386.5 L1100.8,387.5 L1101.2,388.5 L1101.5,389.5 L1101.8,390.5 L1102.1,391.5 L1102.4,392.5 L1102.7,393.5 L1103.0,394.5 L1103.3,395.5 L1103.6,396.5 L1103.9,397.5 L1104.2,398.5 L1104.6,399.5 L1104.9,400.5 L1105.2,401.5 L1105.6,402.5 L1106.0,403.5 L1106.4,404.5 L1106.8,405.5 L1107.2,406.5 L1107.6,407.5 L1108.0,408.5 L1108.5,409.5 L1108.9,410.5 L1109.3,411.5 L1109.7,412.5 L1110.1,413.5 L1110.5,414.5 L1110.9,415.5 L1111.4,416.5 L1111.8,417.5 L1112.2,418.5 L1112.6,419.5 L1113.0,420.5 L1113.4,421.5 L1113.8,422.5 L1114.1,423.5 L1114.5,424.5 L1114.8,425.5 L1115.0,426.5 L1115.3,427.5 L1115.6,428.5 L1115.8,429.5 L1116.0,430.5 L1116.3,431.5 L1116.5,432.5 L1116.7,433.5 L1116.8,434.5 L1117.0,435.5 L1117.1,436.5 L1117.2,437.5 L1117.3,438.5 L1117.4,439.5 L1117.5,440.5 L1117.6,441.5 L1117.6,442.5 L1117.7,443.5 L1117.7,444.5 L1117.8,445.5 L1117.9,446.5 L1117.9,447.5 L1118.0,448.5 L1118.1,449.5 L1118.2,450.5 L1118.3,451.5 L1118.4,452.5 L1118.5,453.5 L1118.6,454.5 L1118.8,455.5 L1119.0,456.5 L1119.1,457.5 L1119.3,458.5 L1119.5,459.5 L1119.7,460.5 L1119.9,461.5 L1120.1,462.5 L1120.3,463.5 L1120.5,464.5 L1120.8,465.5 L1121.1,466.5 L1121.4,467.5 L1121.7,468.5 L1122.0,469.5 L1122.4,470.5 L1122.7,471.5 L1123.1,472.5 L1123.5,473.5 L1123.9,474.5 L1124.3,475.5 L1124.6,476.5 L1125.0,477.5 L1125.4,478.5 L1125.8,479.5 L1126.2,480.5 L1126.7,481.5 L1127.1,482.5 L1127.5,483.5 L1127.9,484.5 L1128.4,485.5 L1128.8,486.5 L1129.1,487.5 L1129.5,488.5 L1129.9,489.5 L1130.2,490.5 L1130.5,491.5 L1130.8,492.5 L1131.1,493.5 L1131.4,494.5 L1131.6,495.5 L1131.9,496.5 L1132.1,497.5 L1132.4,498.5 L1132.6,499.5 L1132.8,500.5 L1133.0,501.5 L1133.1,502.5 L1133.3,503.5 L1133.4,504.5 L1133.5,505.5 L1133.6,506.5 L1133.6,507.5 L1133.6,508.5 L1133.5,509.5 L1133.4,510.5 L1133.3,511.5 L1133.0,512.5 L1132.8,513.5 L1132.6,514.5 L1132.3,515.5 L1132.0,516.5 L1131.7,517.5 L1131.3,518.5 L1130.9,519.5 L1130.5,520.5 L1130.0,521.5 L1129.5,522.5 L1129.0,523.5 L1128.5,524.5 L1128.0,525.5 L1127.4,526.5 L1126.9,527.5 L1126.3,528.5 L1125.6,529.5 L1125.0,530.5 L1124.3,531.5 L1123.5,532.5 L1122.7,533.5 L1121.9,534.5 L1121.1,535.5 L1120.3,536.5 L1119.5,537.5 L1118.7,538.5 L1117.9,539.5 L1117.1,540.5 L1116.2,541.5 L1115.4,542.5 L1114.5,543.5 L1113.7,544.5 L1112.8,545.5 L1112.0,546.5 L1111.1,547.5 L1110.3,548.5 L1109.5,549.5 L1108.8,550.5 L1108.0,551.5 L1107.3,552.5 L1106.6,553.5 L1105.8,554.5 L1105.2,555.5 L1104.5,556.5 L1103.8,557.5 L1103.2,558.5 L1102.6,559.5 L1102.0,560.5 L1101.5,561.5 L1101.0,562.5 L1100.4,563.5 L1099.9,564.5 L1099.5,565.5 L1099.0,566.5 L1098.5,567.5 L1098.1,568.5 L1097.8,569.5 L1097.4,570.5 L1097.2,571.5 L1096.9,572.5 L1096.7,573.5 L1096.6,574.5 L1096.4,575.5 L1096.3,576.5 L1096.2,577.5 L1096.1,578.5 L1096.0,579.5 L1096.0,580.5 L1095.9,581.5 L1095.8,582.5 L1095.7,583.5 L1095.6,584.5 L1095.6,585.5 L1095.5,586.5 L1095.4,587.5 L1095.4,588.5 L1095.3,589.5 L1095.2,590.5 L1095.2,591.5 L1095.1,592.5 L1095.0,593.5 L1095.0,594.5 L1094.9,595.5 L1094.8,596.5 L1094.7,597.5 L1094.6,598.5 L1094.5,599.5 L1094.4,600.5 L1094.3,601.5 L1094.2,602.5 L1094.1,603.5 L1094.0,604.5 L1093.8,605.5 L1093.7,606.5 L1093.6,607.5 L1093.5,608.5 L1093.4,609.5 L1093.3,610.5 L1093.2,611.5 L1093.2,612.5 L1093.0,613.4 L1091.8,613.4 L1091.6,612.5 L1091.6,611.5 L1091.5,610.5 L1091.4,609.5 L1091.3,608.5 L1091.2,607.5 L1091.1,606.5 L1091.0,605.5 L1090.8,604.5 L1090.7,603.5 L1090.6,602.5 L1090.5,601.5 L1090.4,600.5 L1090.3,599.5 L1090.2,598.5 L1090.1,597.5 L1090.0,596.5 L1089.9,595.5 L1089.8,594.5 L1089.8,593.5 L1089.7,592.5 L1089.6,591.5 L1089.6,590.5 L1089.5,589.5 L1089.4,588.5 L1089.4,587.5 L1089.3,586.5 L1089.2,585.5 L1089.2,584.5 L1089.1,583.5 L1089.0,582.5 L1088.9,581.5 L1088.8,580.5 L1088.8,579.5 L1088.7,578.5 L1088.6,577.5 L1088.5,576.5 L1088.4,575.5 L1088.2,574.5 L1088.1,573.5 L1087.9,572.5 L1087.6,571.5 L1087.4,570.5 L1087.0,569.5 L1086.7,568.5 L1086.3,567.5 L1085.8,566.5 L1085.3,565.5 L1084.9,564.5 L1084.4,563.5 L1083.8,562.5 L1083.3,561.5 L1082.8,560.5 L1082.2,559.5 L1081.6,558.5 L1081.0,557.5 L1080.3,556.5 L1079.6,555.5 L1079.0,554.5 L1078.2,553.5 L1077.5,552.5 L1076.8,551.5 L1076.0,550.5 L1075.3,549.5 L1074.5,548.5 L1073.7,547.5 L1072.8,546.5 L1072.0,545.5 L1071.1,544.5 L1070.3,543.5 L1069.4,542.5 L1068.6,541.5 L1067.7,540.5 L1066.9,539.5 L1066.1,538.5 L1065.3,537.5 L1064.5,536.5 L1063.7,535.5 L1062.9,534.5 L1062.1,533.5 L1061.3,532.5 L1060.5,531.5 L1059.8,530.5 L1059.2,529.5 L1058.5,528.5 L1057.9,527.5 L1057.4,526.5 L1056.8,525.5 L1056.3,524.5 L1055.8,523.5 L1055.3,522.5 L1054.8,521.5 L1054.3,520.5 L1053.9,519.5 L1053.5,518.5 L1053.1,517.5 L1052.8,516.5 L1052.5,515.5 L1052.2,514.5 L1052.0,513.5 L1051.8,512.5 L1051.5,511.5 L1051.4,510.5 L1051.3,509.5 L1051.2,508.5 L1051.2,507.5 L1051.2,506.5 L1051.3,505.5 L1051.4,504.5 L1051.5,503.5 L1051.7,502.5 L1051.8,501.5 L1052.0,500.5 L1052.2,499.5 L1052.4,498.5 L1052.7,497.5 L1052.9,496.5 L1053.2,495.5 L1053.4,494.5 L1053.7,493.5 L1054.0,492.5 L1054.3,491.5 L1054.6,490.5 L1054.9,489.5 L1055.3,488.5 L1055.7,487.5 L1056.0,486.5 L1056.4,485.5 L1056.9,484.5 L1057.3,483.5 L1057.7,482.5 L1058.1,481.5 L1058.6,480.5 L1059.0,479.5 L1059.4,478.5 L1059.8,477.5 L1060.2,476.5 L1060.5,475.5 L1060.9,474.5 L1061.3,473.5 L1061.7,472.5 L1062.1,471.5 L1062.4,470.5 L1062.8,469.5 L1063.1,468.5 L1063.4,467.5 L1063.7,466.5 L1064.0,465.5 L1064.3,464.5 L1064.5,463.5 L1064.7,462.5 L1064.9,461.5 L1065.1,460.5 L1065.3,459.5 L1065.5,458.5 L1065.7,457.5 L1065.8,456.5 L1066.0,455.5 L1066.2,454.5 L1066.3,453.5 L1066.4,452.5 L1066.5,451.5 L1066.6,450.5 L1066.7,449.5 L1066.8,448.5 L1066.9,447.5 L1066.9,446.5 L1067.0,445.5 L1067.1,444.5 L1067.1,443.5 L1067.2,442.5 L1067.2,441.5 L1067.3,440.5 L1067.4,439.5 L1067.5,438.5 L1067.6,437.5 L1067.7,436.5 L1067.8,435.5 L1068.0,434.5 L1068.1,433.5 L1068.3,432.5 L1068.5,431.5 L1068.8,430.5 L1069.0,429.5 L1069.2,428.5 L1069.5,427.5 L1069.8,426.5 L1070.0,425.5 L1070.3,424.5 L1070.7,423.5 L1071.0,422.5 L1071.4,421.5 L1071.8,420.5 L1072.2,419.5 L1072.6,418.5 L1073.0,417.5 L1073.4,416.5 L1073.9,415.5 L1074.3,414.5 L1074.7,413.5 L1075.1,412.5 L1075.5,411.5 L1075.9,410.5 L1076.3,409.5 L1076.8,408.5 L1077.2,407.5 L1077.6,406.5 L1078.0,405.5 L1078.4,404.5 L1078.8,403.5 L1079.2,402.5 L1079.6,401.5 L1079.9,400.5 L1080.2,399.5 L1080.6,398.5 L1080.9,397.5 L1081.2,396.5 L1081.5,395.5 L1081.8,394.5 L1082.1,393.5 L1082.4,392.5 L1082.7,391.5 L1083.0,390.5 L1083.3,389.5 L1083.6,388.5 L1084.0,387.5 L1084.3,386.5 L1084.6,385.5 L1084.9,384.5 L1085.2,383.5 L1085.4,382.5 L1085.7,381.5 L1086.0,380.5 L1086.3,379.5 L1086.5,378.5 L1086.8,377.5 L1087.0,376.5 L1087.2,375.5 L1087.5,374.5 L1087.7,373.5 L1087.9,372.5 L1088.1,371.5 L1088.3,370.5 L1088.5,369.5 L1088.7,368.5 L1088.9,367.5 L1089.2,366.5 L1089.4,365.5 L1089.6,364.5 L1089.9,363.5 L1090.2,362.5 L1090.5,361.5 L1090.7,360.5 L1090.8,359.5 L1090.9,358.5 L1090.9,357.5 L1090.9,356.5 L1090.9,355.5 L1090.9,354.5 L1090.9,353.5 L1090.9,352.5 L1090.9,351.5 L1090.9,350.5 L1090.8,349.5 L1090.7,348.5 L1090.7,347.5 L1090.6,346.5 L1090.5,345.5 L1090.4,344.5 L1090.3,343.5 L1090.2,342.5 L1090.0,341.5 L1089.8,340.5 L1089.7,339.5 L1089.5,338.5 L1089.4,337.5 L1089.4,336.5 L1089.3,335.5 L1089.3,334.5 L1089.3,333.5 L1089.3,332.5 L1089.3,331.5 L1089.3,330.5 L1089.3,329.5 L1089.3,328.5 L1089.3,327.5 L1089.4,326.5 L1089.4,325.5 L1089.4,324.5 L1089.4,323.5 L1089.4,322.5 L1089.4,321.5 L1089.5,320.5 L1089.5,319.5 L1089.5,318.5 L1089.6,317.5 L1089.6,316.5 L1089.7,315.5 L1089.7,314.5 L1089.8,313.5 L1089.9,312.5 L1090.0,311.5 L1090.1,310.5 L1090.2,309.5 L1090.4,308.5 L1090.5,307.5 L1090.5,306.5 L1090.6,305.5 L1090.7,304.5 L1090.7,303.5 L1090.8,302.5 L1091.0,301.5 L1091.2,300.5 Z" fill="#5cb0f2" stroke="#000" stroke-width="1.5" stroke-linejoin="round"/>
<line x1="1092.4" y1="328.5" x2="1092.4" y2="440.2" stroke="#000" stroke-width="3"/>
<line x1="1092.4" y1="520.1" x2="1092.4" y2="585.1" stroke="#000" stroke-width="3"/>
<line x1="1080.9" y1="328.5" x2="1103.9" y2="328.5" stroke="#000" stroke-width="3"/>
<line x1="1080.9" y1="585.1" x2="1103.9" y2="585.1" stroke="#000" stroke-width="3"/>
<rect x="1069.4" y="441.7" width="46.0" height="76.9" fill="#436eee" stroke="#000" stroke-width="3"/>
<line x1="1069.4" y1="489.4" x2="1115.4" y2="489.4" stroke="#000" stroke-width="3.8"/>
<line x1="1184.5" y1="277.9" x2="1184.5" y2="640.7" stroke="#000" stroke-width="1.6"/>
<path d="M1185.8,308.8 L1186.0,309.8 L1186.2,310.8 L1186.4,311.8 L1186.5,312.8 L1186.6,313.8 L1186.7,314.8 L1186.7,315.8 L1186.7,316.8 L1186.7,317.8 L1186.7,318.8 L1186.7,319.8 L1186.7,320.8 L1186.7,321.8 L1186.7,322.8 L1186.7,323.8 L1186.7,324.8 L1186.7,325.8 L1186.7,326.8 L1186.7,327.8 L1186.7,328.8 L1186.7,329.8 L1186.7,330.8 L1186.7,331.8 L1186.7,332.8 L1186.6,333.8 L1186.6,334.8 L1186.6,335.8 L1186.6,336.8 L1186.5,337.8 L1186.5,338.8 L1186.5,339.8 L1186.5,340.8 L1186.5,341.8 L1186.5,342.8 L1186.5,343.8 L1186.5,344.8 L1186.5,345.8 L1186.5,346.8 L1186.5,347.8 L1186.5,348.8 L1186.5,349.8 L1186.6,350.8 L1186.6,351.8 L1186.7,352.8 L1186.7,353.8 L1186.8,354.8 L1186.9,355.8 L1187.0,356.8 L1187.0,357.8 L1187.1,358.8 L1187.2,359.8 L1187.3,360.8 L1187.4,361.8 L1187.5,362.8 L1187.6,363.8 L1187.7,364.8 L1187.9,365.8 L1188.0,366.8 L1188.3,367.8 L1188.5,368.8 L1188.8,369.8 L1189.1,370.8 L1189.4,371.8 L1189.8,372.8 L1190.1,373.8 L1190.4,374.8 L1190.6,375.8 L1190.9,376.8 L1191.2,377.8 L1191.5,378.8 L1191.8,379.8 L1192.1,380.8 L1192.4,381.8 L1192.7,382.8 L1193.0,383.8 L1193.4,384.8 L1193.7,385.8 L1194.1,386.8 L1194.4,387.8 L1194.7,388.8 L1194.9,389.8 L1195.1,390.8 L1195.3,391.8 L1195.5,392.8 L1195.7,393.8 L1195.9,394.8 L1196.0,395.8 L1196.2,396.8 L1196.3,397.8 L1196.4,398.8 L1196.6,399.8 L1196.7,400.8 L1196.9,401.8 L1197.0,402.8 L1197.2,403.8 L1197.3,404.8 L1197.5,405.8 L1197.6,406.8 L1197.8,407.8 L1197.9,408.8 L1198.1,409.8 L1198.2,410.8 L1198.4,411.8 L1198.6,412.8 L1198.7,413.8 L1198.9,414.8 L1199.1,415.8 L1199.3,416.8 L1199.5,417.8 L1199.7,418.8 L1199.9,419.8 L1200.1,420.8 L1200.3,421.8 L1200.5,422.8 L1200.7,423.8 L1200.9,424.8 L1201.1,425.8 L1201.3,426.8 L1201.5,427.8 L1201.7,428.8 L1201.9,429.8 L1202.2,430.8 L1202.4,431.8 L1202.6,432.8 L1202.8,433.8 L1203.1,434.8 L1203.3,435.8 L1203.5,436.8 L1203.7,437.8 L1203.9,438.8 L1204.1,439.8 L1204.2,440.8 L1204.4,441.8 L1204.6,442.8 L1204.7,443.8 L1204.9,444.8 L1205.1,445.8 L1205.2,446.8 L1205.4,447.8 L1205.5,448.8 L1205.7,449.8 L1205.8,450.8 L1206.0,451.8 L1206.1,452.8 L1206.3,453.8 L1206.5,454.8 L1206.6,455.8 L1206.8,456.8 L1206.9,457.8 L1207.1,458.8 L1207.2,459.8 L1207.4,460.8 L1207.6,461.8 L1207.7,462.8 L1207.9,463.8 L1208.0,464.8 L1208.2,465.8 L1208.4,466.8 L1208.5,467.8 L1208.7,468.8 L1208.9,469.8 L1209.1,470.8 L1209.4,471.8 L1209.6,472.8 L1209.9,473.8 L1210.1,474.8 L1210.4,475.8 L1210.8,476.8 L1211.1,477.8 L1211.5,478.8 L1211.8,479.8 L1212.2,480.8 L1212.6,481.8 L1213.0,482.8 L1213.4,483.8 L1213.9,484.8 L1214.3,485.8 L1214.8,486.8 L1215.3,487.8 L1215.9,488.8 L1216.4,489.8 L1216.9,490.8 L1217.5,491.8 L1218.0,492.8 L1218.6,493.8 L1219.2,494.8 L1219.8,495.8 L1220.5,496.8 L1221.2,497.8 L1221.9,498.8 L1222.5,499.8 L1223.1,500.8 L1223.5,501.8 L1223.8,502.8 L1224.0,503.8 L1224.2,504.8 L1224.3,505.8 L1224.4,506.8 L1224.4,507.8 L1224.4,508.8 L1224.4,509.8 L1224.3,510.8 L1224.1,511.8 L1223.9,512.8 L1223.6,513.8 L1223.3,514.8 L1222.9,515.8 L1222.5,516.8 L1222.1,517.8 L1221.7,518.8 L1221.3,519.8 L1220.8,520.8 L1220.3,521.8 L1219.7,522.8 L1219.1,523.8 L1218.4,524.8 L1217.7,525.8 L1216.9,526.8 L1216.1,527.8 L1215.3,528.8 L1214.5,529.8 L1213.7,530.8 L1212.8,531.8 L1212.0,532.8 L1211.1,533.8 L1210.2,534.8 L1209.2,535.8 L1208.3,536.8 L1207.3,537.8 L1206.4,538.8 L1205.4,539.8 L1204.5,540.8 L1203.7,541.8 L1202.9,542.8 L1202.1,543.8 L1201.3,544.8 L1200.6,545.8 L1199.8,546.8 L1199.1,547.8 L1198.5,548.8 L1197.8,549.8 L1197.2,550.8 L1196.6,551.8 L1196.0,552.8 L1195.4,553.8 L1194.9,554.8 L1194.4,555.8 L1193.9,556.8 L1193.5,557.8 L1193.0,558.8 L1192.6,559.8 L1192.2,560.8 L1191.8,561.8 L1191.4,562.8 L1191.1,563.8 L1190.8,564.8 L1190.5,565.8 L1190.2,566.8 L1190.0,567.8 L1189.7,568.8 L1189.5,569.8 L1189.3,570.8 L1189.1,571.8 L1188.9,572.8 L1188.7,573.8 L1188.5,574.8 L1188.4,575.8 L1188.3,576.8 L1188.2,577.8 L1188.1,578.8 L1188.0,579.8 L1187.9,580.8 L1187.9,581.8 L1187.8,582.8 L1187.7,583.8 L1187.7,584.8 L1187.6,585.8 L1187.6,586.8 L1187.5,587.8 L1187.5,588.8 L1187.4,589.8 L1187.4,590.8 L1187.3,591.8 L1187.3,592.8 L1187.2,593.8 L1187.2,594.8 L1187.1,595.8 L1187.1,596.8 L1187.0,597.8 L1186.9,598.8 L1186.8,599.8 L1186.8,600.8 L1186.7,601.8 L1186.6,602.8 L1186.4,603.8 L1186.3,604.8 L1186.2,605.8 L1186.0,606.8 L1185.8,607.8 L1185.7,608.8 L1185.5,609.8 L1185.1,610.5 L1183.9,610.5 L1183.5,609.8 L1183.3,608.8 L1183.2,607.8 L1183.0,606.8 L1182.8,605.8 L1182.7,604.8 L1182.6,603.8 L1182.4,602.8 L1182.3,601.8 L1182.2,600.8 L1182.2,599.8 L1182.1,598.8 L1182.0,597.8 L1181.9,596.8 L1181.9,595.8 L1181.8,594.8 L1181.8,593.8 L1181.7,592.8 L1181.7,591.8 L1181.6,590.8 L1181.6,589.8 L1181.5,588.8 L1181.5,587.8 L1181.4,586.8 L1181.4,585.8 L1181.3,584.8 L1181.3,583.8 L1181.2,582.8 L1181.1,581.8 L1181.1,580.8 L1181.0,579.8 L1180.9,578.8 L1180.8,577.8 L1180.7,576.8 L1180.6,575.8 L1180.5,574.8 L1180.3,573.8 L1180.1,572.8 L1179.9,571.8 L1179.7,570.8 L1179.5,569.8 L1179.3,568.8 L1179.0,567.8 L1178.8,566.8 L1178.5,565.8 L1178.2,564.8 L1177.9,563.8 L1177.6,562.8 L1177.2,561.8 L1176.8,560.8 L1176.4,559.8 L1176.0,558.8 L1175.5,557.8 L1175.1,556.8 L1174.6,555.8 L1174.1,554.8 L1173.6,553.8 L1173.0,552.8 L1172.4,551.8 L1171.8,550.8 L1171.2,549.8 L1170.5,548.8 L1169.9,547.8 L1169.2,546.8 L1168.4,545.8 L1167.7,544.8 L1166.9,543.8 L1166.1,542.8 L1165.3,541.8 L1164.5,540.8 L1163.6,539.8 L1162.6,538.8 L1161.7,537.8 L1160.7,536.8 L1159.8,535.8 L1158.8,534.8 L1157.9,533.8 L1157.0,532.8 L1156.2,531.8 L1155.3,530.8 L1154.5,529.8 L1153.7,528.8 L1152.9,527.8 L1152.1,526.8 L1151.3,525.8 L1150.6,524.8 L1149.9,523.8 L1149.3,522.8 L1148.7,521.8 L1148.2,520.8 L1147.7,519.8 L1147.3,518.8 L1146.9,517.8 L1146.5,516.8 L1146.1,515.8 L1145.7,514.8 L1145.4,513.8 L1145.1,512.8 L1144.9,511.8 L1144.7,510.8 L1144.6,509.8 L1144.6,508.8 L1144.6,507.8 L1144.6,506.8 L1144.7,505.8 L1144.8,504.8 L1145.0,503.8 L1145.2,502.8 L1145.5,501.8 L1145.9,500.8 L1146.5,499.8 L1147.1,498.8 L1147.8,497.8 L1148.5,496.8 L1149.2,495.8 L1149.8,494.8 L1150.4,493.8 L1151.0,492.8 L1151.5,491.8 L1152.1,490.8 L1152.6,489.8 L1153.1,488.8 L1153.7,487.8 L1154.2,486.8 L1154.7,485.8 L1155.1,484.8 L1155.6,483.8 L1156.0,482.8 L1156.4,481.8 L1156.8,480.8 L1157.2,479.8 L1157.5,478.8 L1157.9,477.8 L1158.2,476.8 L1158.6,475.8 L1158.9,474.8 L1159.1,473.8 L1159.4,472.8 L1159.6,471.8 L1159.9,470.8 L1160.1,469.8 L1160.3,468.8 L1160.5,467.8 L1160.6,466.8 L1160.8,465.8 L1161.0,464.8 L1161.1,463.8 L1161.3,462.8 L1161.4,461.8 L1161.6,460.8 L1161.8,459.8 L1161.9,458.8 L1162.1,457.8 L1162.2,456.8 L1162.4,455.8 L1162.5,454.8 L1162.7,453.8 L1162.9,452.8 L1163.0,451.8 L1163.2,450.8 L1163.3,449.8 L1163.5,448.8 L1163.6,447.8 L1163.8,446.8 L1163.9,445.8 L1164.1,444.8 L1164.3,443.8 L1164.4,442.8 L1164.6,441.8 L1164.8,440.8 L1164.9,439.8 L1165.1,438.8 L1165.3,437.8 L1165.5,436.8 L1165.7,435.8 L1165.9,434.8 L1166.2,433.8 L1166.4,432.8 L1166.6,431.8 L1166.8,430.8 L1167.1,429.8 L1167.3,428.8 L1167.5,427.8 L1167.7,426.8 L1167.9,425.8 L1168.1,424.8 L1168.3,423.8 L1168.5,422.8 L1168.7,421.8 L1168.9,420.8 L1169.1,419.8 L1169.3,418.8 L1169.5,417.8 L1169.7,416.8 L1169.9,415.8 L1170.1,414.8 L1170.3,413.8 L1170.4,412.8 L1170.6,411.8 L1170.8,410.8 L1170.9,409.8 L1171.1,408.8 L1171.2,407.8 L1171.4,406.8 L1171.5,405.8 L1171.7,404.8 L1171.8,403.8 L1172.0,402.8 L1172.1,401.8 L1172.3,400.8 L1172.4,399.8 L1172.6,398.8 L1172.7,397.8 L1172.8,396.8 L1173.0,395.8 L1173.1,394.8 L1173.3,393.8 L1173.5,392.8 L1173.7,391.8 L1173.9,390.8 L1174.1,389.8 L1174.3,388.8 L1174.6,387.8 L1174.9,386.8 L1175.3,385.8 L1175.6,384.8 L1176.0,383.8 L1176.3,382.8 L1176.6,381.8 L1176.9,380.8 L1177.2,379.8 L1177.5,378.8 L1177.8,377.8 L1178.1,376.8 L1178.4,375.8 L1178.6,374.8 L1178.9,373.8 L1179.2,372.8 L1179.6,371.8 L1179.9,370.8 L1180.2,369.8 L1180.5,368.8 L1180.7,367.8 L1181.0,366.8 L1181.1,365.8 L1181.3,364.8 L1181.4,363.8 L1181.5,362.8 L1181.6,361.8 L1181.7,360.8 L1181.8,359.8 L1181.9,358.8 L1182.0,357.8 L1182.0,356.8 L1182.1,355.8 L1182.2,354.8 L1182.3,353.8 L1182.3,352.8 L1182.4,351.8 L1182.4,350.8 L1182.5,349.8 L1182.5,348.8 L1182.5,347.8 L1182.5,346.8 L1182.5,345.8 L1182.5,344.8 L1182.5,343.8 L1182.5,342.8 L1182.5,341.8 L1182.5,340.8 L1182.5,339.8 L1182.5,338.8 L1182.5,337.8 L1182.4,336.8 L1182.4,335.8 L1182.4,334.8 L1182.4,333.8 L1182.3,332.8 L1182.3,331.8 L1182.3,330.8 L1182.3,329.8 L1182.3,328.8 L1182.3,327.8 L1182.3,326.8 L1182.3,325.8 L1182.3,324.8 L1182.3,323.8 L1182.3,322.8 L1182.3,321.8 L1182.3,320.8 L1182.3,319.8 L1182.3,318.8 L1182.3,317.8 L1182.3,316.8 L1182.3,315.8 L1182.3,314.8 L1182.4,313.8 L1182.5,312.8 L1182.6,311.8 L1182.8,310.8 L1183.0,309.8 L1183.2,308.8 Z" fill="#ff63b4" stroke="#000" stroke-width="1.5" stroke-linejoin="round"/>
<line x1="1184.5" y1="390.1" x2="1184.5" y2="444.7" stroke="#000" stroke-width="3"/>
<line x1="1184.5" y1="517.3" x2="1184.5" y2="588.3" stroke="#000" stroke-width="3"/>
<line x1="1173.0" y1="390.1" x2="1196.0" y2="390.1" stroke="#000" stroke-width="3"/>
<line x1="1173.0" y1="588.3" x2="1196.0" y2="588.3" stroke="#000" stroke-width="3"/>
<rect x="1161.5" y="446.2" width="46.0" height="69.6" fill="#cd1076" stroke="#000" stroke-width="3"/>
<line x1="1161.5" y1="496.5" x2="1207.5" y2="496.5" stroke="#000" stroke-width="3.8"/>
<circle cx="1185.1" cy="331.0" r="4.8" fill="#000"/>
<line x1="1276.4" y1="272.4" x2="1276.4" y2="643.5" stroke="#000" stroke-width="1.6"/>
<path d="M1277.3,285.6 L1277.3,286.6 L1277.4,287.6 L1277.5,288.6 L1277.6,289.6 L1277.6,290.6 L1277.7,291.6 L1277.8,292.6 L1277.9,293.6 L1278.0,294.6 L1278.0,295.6 L1278.1,296.6 L1278.2,297.6 L1278.2,298.6 L1278.3,299.6 L1278.3,300.6 L1278.4,301.6 L1278.4,302.6 L1278.5,303.6 L1278.5,304.6 L1278.6,305.6 L1278.6,306.6 L1278.7,307.6 L1278.7,308.6 L1278.7,309.6 L1278.8,310.6 L1278.8,311.6 L1278.8,312.6 L1278.8,313.6 L1278.9,314.6 L1278.9,315.6 L1278.9,316.6 L1278.9,317.6 L1278.9,318.6 L1278.9,319.6 L1278.9,320.6 L1278.9,321.6 L1278.9,322.6 L1278.9,323.6 L1278.8,324.6 L1278.8,325.6 L1278.8,326.6 L1278.8,327.6 L1278.8,328.6 L1278.8,329.6 L1278.8,330.6 L1278.8,331.6 L1278.7,332.6 L1278.7,333.6 L1278.7,334.6 L1278.7,335.6 L1278.7,336.6 L1278.6,337.6 L1278.6,338.6 L1278.6,339.6 L1278.5,340.6 L1278.5,341.6 L1278.4,342.6 L1278.4,343.6 L1278.3,344.6 L1278.2,345.6 L1278.2,346.6 L1278.1,347.6 L1278.1,348.6 L1278.0,349.6 L1278.0,350.6 L1278.0,351.6 L1278.1,352.6 L1278.1,353.6 L1278.2,354.6 L1278.3,355.6 L1278.4,356.6 L1278.5,357.6 L1278.6,358.6 L1278.8,359.6 L1278.9,360.6 L1279.1,361.6 L1279.3,362.6 L1279.5,363.6 L1279.7,364.6 L1280.0,365.6 L1280.2,366.6 L1280.5,367.6 L1280.8,368.6 L1281.0,369.6 L1281.3,370.6 L1281.6,371.6 L1281.9,372.6 L1282.2,373.6 L1282.6,374.6 L1282.9,375.6 L1283.2,376.6 L1283.5,377.6 L1283.8,378.6 L1284.1,379.6 L1284.4,380.6 L1284.7,381.6 L1285.0,382.6 L1285.3,383.6 L1285.6,384.6 L1285.9,385.6 L1286.2,386.6 L1286.4,387.6 L1286.7,388.6 L1287.0,389.6 L1287.3,390.6 L1287.6,391.6 L1287.9,392.6 L1288.2,393.6 L1288.5,394.6 L1288.8,395.6 L1289.1,396.6 L1289.4,397.6 L1289.7,398.6 L1290.0,399.6 L1290.3,400.6 L1290.6,401.6 L1290.9,402.6 L1291.1,403.6 L1291.3,404.6 L1291.5,405.6 L1291.7,406.6 L1292.0,407.6 L1292.2,408.6 L1292.3,409.6 L1292.5,410.6 L1292.7,411.6 L1292.9,412.6 L1293.1,413.6 L1293.3,414.6 L1293.5,415.6 L1293.6,416.6 L1293.8,417.6 L1294.0,418.6 L1294.1,419.6 L1294.3,420.6 L1294.5,421.6 L1294.6,422.6 L1294.8,423.6 L1295.0,424.6 L1295.2,425.6 L1295.3,426.6 L1295.5,427.6 L1295.7,428.6 L1295.9,429.6 L1296.1,430.6 L1296.3,431.6 L1296.5,432.6 L1296.7,433.6 L1296.8,434.6 L1297.0,435.6 L1297.1,436.6 L1297.3,437.6 L1297.4,438.6 L1297.6,439.6 L1297.7,440.6 L1297.8,441.6 L1297.9,442.6 L1298.1,443.6 L1298.2,444.6 L1298.3,445.6 L1298.4,446.6 L1298.6,447.6 L1298.7,448.6 L1298.8,449.6 L1299.0,450.6 L1299.1,451.6 L1299.3,452.6 L1299.4,453.6 L1299.5,454.6 L1299.7,455.6 L1299.8,456.6 L1299.9,457.6 L1300.1,458.6 L1300.2,459.6 L1300.4,460.6 L1300.6,461.6 L1300.8,462.6 L1301.0,463.6 L1301.2,464.6 L1301.4,465.6 L1301.7,466.6 L1302.0,467.6 L1302.4,468.6 L1302.7,469.6 L1303.1,470.6 L1303.5,471.6 L1303.9,472.6 L1304.4,473.6 L1304.8,474.6 L1305.2,475.6 L1305.6,476.6 L1306.1,477.6 L1306.5,478.6 L1306.9,479.6 L1307.3,480.6 L1307.7,481.6 L1308.1,482.6 L1308.5,483.6 L1308.9,484.6 L1309.4,485.6 L1309.8,486.6 L1310.2,487.6 L1310.6,488.6 L1311.0,489.6 L1311.5,490.6 L1311.9,491.6 L1312.4,492.6 L1312.9,493.6 L1313.4,494.6 L1313.8,495.6 L1314.3,496.6 L1314.7,497.6 L1315.1,498.6 L1315.4,499.6 L1315.6,500.6 L1315.8,501.6 L1315.9,502.6 L1316.0,503.6 L1316.1,504.6 L1316.2,505.6 L1316.2,506.6 L1316.3,507.6 L1316.3,508.6 L1316.2,509.6 L1316.1,510.6 L1316.0,511.6 L1315.9,512.6 L1315.6,513.6 L1315.4,514.6 L1315.1,515.6 L1314.8,516.6 L1314.5,517.6 L1314.1,518.6 L1313.7,519.6 L1313.3,520.6 L1312.9,521.6 L1312.5,522.6 L1312.0,523.6 L1311.4,524.6 L1310.7,525.6 L1310.0,526.6 L1309.3,527.6 L1308.5,528.6 L1307.7,529.6 L1306.8,530.6 L1306.0,531.6 L1305.2,532.6 L1304.3,533.6 L1303.5,534.6 L1302.7,535.6 L1301.8,536.6 L1300.9,537.6 L1300.0,538.6 L1299.1,539.6 L1298.2,540.6 L1297.3,541.6 L1296.5,542.6 L1295.6,543.6 L1294.8,544.6 L1294.0,545.6 L1293.3,546.6 L1292.5,547.6 L1291.8,548.6 L1291.0,549.6 L1290.3,550.6 L1289.6,551.6 L1289.0,552.6 L1288.3,553.6 L1287.7,554.6 L1287.2,555.6 L1286.7,556.6 L1286.2,557.6 L1285.7,558.6 L1285.3,559.6 L1284.8,560.6 L1284.4,561.6 L1284.0,562.6 L1283.7,563.6 L1283.3,564.6 L1283.0,565.6 L1282.7,566.6 L1282.4,567.6 L1282.2,568.6 L1281.9,569.6 L1281.7,570.6 L1281.5,571.6 L1281.3,572.6 L1281.1,573.6 L1280.9,574.6 L1280.8,575.6 L1280.6,576.6 L1280.5,577.6 L1280.4,578.6 L1280.3,579.6 L1280.2,580.6 L1280.1,581.6 L1280.0,582.6 L1279.9,583.6 L1279.8,584.6 L1279.7,585.6 L1279.6,586.6 L1279.6,587.6 L1279.5,588.6 L1279.4,589.6 L1279.4,590.6 L1279.3,591.6 L1279.2,592.6 L1279.2,593.6 L1279.1,594.6 L1279.0,595.6 L1278.9,596.6 L1278.9,597.6 L1278.8,598.6 L1278.6,599.6 L1278.5,600.6 L1278.4,601.6 L1278.2,602.6 L1278.1,603.6 L1277.9,604.6 L1277.8,605.6 L1277.6,606.6 L1277.5,607.6 L1277.3,608.6 L1277.2,609.6 L1277.0,610.5 L1275.8,610.5 L1275.6,609.6 L1275.5,608.6 L1275.3,607.6 L1275.2,606.6 L1275.0,605.6 L1274.9,604.6 L1274.7,603.6 L1274.6,602.6 L1274.4,601.6 L1274.3,600.6 L1274.2,599.6 L1274.0,598.6 L1273.9,597.6 L1273.9,596.6 L1273.8,595.6 L1273.7,594.6 L1273.6,593.6 L1273.6,592.6 L1273.5,591.6 L1273.4,590.6 L1273.4,589.6 L1273.3,588.6 L1273.2,587.6 L1273.2,586.6 L1273.1,585.6 L1273.0,584.6 L1272.9,583.6 L1272.8,582.6 L1272.7,581.6 L1272.6,580.6 L1272.5,579.6 L1272.4,578.6 L1272.3,577.6 L1272.2,576.6 L1272.0,575.6 L1271.9,574.6 L1271.7,573.6 L1271.5,572.6 L1271.3,571.6 L1271.1,570.6 L1270.9,569.6 L1270.6,568.6 L1270.4,567.6 L1270.1,566.6 L1269.8,565.6 L1269.5,564.6 L1269.1,563.6 L1268.8,562.6 L1268.4,561.6 L1268.0,560.6 L1267.5,559.6 L1267.1,558.6 L1266.6,557.6 L1266.1,556.6 L1265.6,555.6 L1265.1,554.6 L1264.5,553.6 L1263.8,552.6 L1263.2,551.6 L1262.5,550.6 L1261.8,549.6 L1261.0,548.6 L1260.3,547.6 L1259.5,546.6 L1258.8,545.6 L1258.0,544.6 L1257.2,543.6 L1256.3,542.6 L1255.5,541.6 L1254.6,540.6 L1253.7,539.6 L1252.8,538.6 L1251.9,537.6 L1251.0,536.6 L1250.1,535.6 L1249.3,534.6 L1248.5,533.6 L1247.6,532.6 L1246.8,531.6 L1246.0,530.6 L1245.1,529.6 L1244.3,528.6 L1243.5,527.6 L1242.8,526.6 L1242.1,525.6 L1241.4,524.6 L1240.8,523.6 L1240.3,522.6 L1239.9,521.6 L1239.5,520.6 L1239.1,519.6 L1238.7,518.6 L1238.3,517.6 L1238.0,516.6 L1237.7,515.6 L1237.4,514.6 L1237.2,513.6 L1236.9,512.6 L1236.8,511.6 L1236.7,510.6 L1236.6,509.6 L1236.5,508.6 L1236.5,507.6 L1236.6,506.6 L1236.6,505.6 L1236.7,504.6 L1236.8,503.6 L1236.9,502.6 L1237.0,501.6 L1237.2,500.6 L1237.4,499.6 L1237.7,498.6 L1238.1,497.6 L1238.5,496.6 L1239.0,495.6 L1239.4,494.6 L1239.9,493.6 L1240.4,492.6 L1240.9,491.6 L1241.3,490.6 L1241.8,489.6 L1242.2,488.6 L1242.6,487.6 L1243.0,486.6 L1243.4,485.6 L1243.9,484.6 L1244.3,483.6 L1244.7,482.6 L1245.1,481.6 L1245.5,480.6 L1245.9,479.6 L1246.3,478.6 L1246.7,477.6 L1247.2,476.6 L1247.6,475.6 L1248.0,474.6 L1248.4,473.6 L1248.9,472.6 L1249.3,471.6 L1249.7,470.6 L1250.1,469.6 L1250.4,468.6 L1250.8,467.6 L1251.1,466.6 L1251.4,465.6 L1251.6,464.6 L1251.8,463.6 L1252.0,462.6 L1252.2,461.6 L1252.4,460.6 L1252.6,459.6 L1252.7,458.6 L1252.9,457.6 L1253.0,456.6 L1253.1,455.6 L1253.3,454.6 L1253.4,453.6 L1253.5,452.6 L1253.7,451.6 L1253.8,450.6 L1254.0,449.6 L1254.1,448.6 L1254.2,447.6 L1254.4,446.6 L1254.5,445.6 L1254.6,444.6 L1254.7,443.6 L1254.9,442.6 L1255.0,441.6 L1255.1,440.6 L1255.2,439.6 L1255.4,438.6 L1255.5,437.6 L1255.7,436.6 L1255.8,435.6 L1256.0,434.6 L1256.1,433.6 L1256.3,432.6 L1256.5,431.6 L1256.7,430.6 L1256.9,429.6 L1257.1,428.6 L1257.3,427.6 L1257.5,426.6 L1257.6,425.6 L1257.8,424.6 L1258.0,423.6 L1258.2,422.6 L1258.3,421.6 L1258.5,420.6 L1258.7,419.6 L1258.8,418.6 L1259.0,417.6 L1259.2,416.6 L1259.3,415.6 L1259.5,414.6 L1259.7,413.6 L1259.9,412.6 L1260.1,411.6 L1260.3,410.6 L1260.5,409.6 L1260.6,408.6 L1260.8,407.6 L1261.1,406.6 L1261.3,405.6 L1261.5,404.6 L1261.7,403.6 L1261.9,402.6 L1262.2,401.6 L1262.5,400.6 L1262.8,399.6 L1263.1,398.6 L1263.4,397.6 L1263.7,396.6 L1264.0,395.6 L1264.3,394.6 L1264.6,393.6 L1264.9,392.6 L1265.2,391.6 L1265.5,390.6 L1265.8,389.6 L1266.1,388.6 L1266.4,387.6 L1266.6,386.6 L1266.9,385.6 L1267.2,384.6 L1267.5,383.6 L1267.8,382.6 L1268.1,381.6 L1268.4,380.6 L1268.7,379.6 L1269.0,378.6 L1269.3,377.6 L1269.6,376.6 L1269.9,375.6 L1270.2,374.6 L1270.6,373.6 L1270.9,372.6 L1271.2,371.6 L1271.5,370.6 L1271.8,369.6 L1272.0,368.6 L1272.3,367.6 L1272.6,366.6 L1272.8,365.6 L1273.1,364.6 L1273.3,363.6 L1273.5,362.6 L1273.7,361.6 L1273.9,360.6 L1274.0,359.6 L1274.2,358.6 L1274.3,357.6 L1274.4,356.6 L1274.5,355.6 L1274.6,354.6 L1274.7,353.6 L1274.7,352.6 L1274.8,351.6 L1274.8,350.6 L1274.8,349.6 L1274.7,348.6 L1274.7,347.6 L1274.6,346.6 L1274.6,345.6 L1274.5,344.6 L1274.4,343.6 L1274.4,342.6 L1274.3,341.6 L1274.3,340.6 L1274.2,339.6 L1274.2,338.6 L1274.2,337.6 L1274.1,336.6 L1274.1,335.6 L1274.1,334.6 L1274.1,333.6 L1274.1,332.6 L1274.0,331.6 L1274.0,330.6 L1274.0,329.6 L1274.0,328.6 L1274.0,327.6 L1274.0,326.6 L1274.0,325.6 L1274.0,324.6 L1273.9,323.6 L1273.9,322.6 L1273.9,321.6 L1273.9,320.6 L1273.9,319.6 L1273.9,318.6 L1273.9,317.6 L1273.9,316.6 L1273.9,315.6 L1273.9,314.6 L1274.0,313.6 L1274.0,312.6 L1274.0,311.6 L1274.0,310.6 L1274.1,309.6 L1274.1,308.6 L1274.1,307.6 L1274.2,306.6 L1274.2,305.6 L1274.3,304.6 L1274.3,303.6 L1274.4,302.6 L1274.4,301.6 L1274.5,300.6 L1274.5,299.6 L1274.6,298.6 L1274.6,297.6 L1274.7,296.6 L1274.8,295.6 L1274.8,294.6 L1274.9,293.6 L1275.0,292.6 L1275.1,291.6 L1275.2,290.6 L1275.2,289.6 L1275.3,288.6 L1275.4,287.6 L1275.5,286.6 L1275.5,285.6 Z" fill="#52fa9c" stroke="#000" stroke-width="1.5" stroke-linejoin="round"/>
<line x1="1276.4" y1="328.5" x2="1276.4" y2="436.0" stroke="#000" stroke-width="3"/>
<line x1="1276.4" y1="520.1" x2="1276.4" y2="587.0" stroke="#000" stroke-width="3"/>
<line x1="1264.9" y1="328.5" x2="1287.9" y2="328.5" stroke="#000" stroke-width="3"/>
<line x1="1264.9" y1="587.0" x2="1287.9" y2="587.0" stroke="#000" stroke-width="3"/>
<rect x="1253.4" y="437.5" width="46.0" height="81.1" fill="#00cd66" stroke="#000" stroke-width="3"/>
<line x1="1253.4" y1="492.2" x2="1299.4" y2="492.2" stroke="#000" stroke-width="3.8"/>
<line x1="1365.8" y1="267.9" x2="1365.8" y2="645.4" stroke="#000" stroke-width="1.6"/>
<path d="M1367.1,304.5 L1367.4,305.5 L1367.6,306.5 L1367.8,307.5 L1367.9,308.5 L1368.0,309.5 L1368.0,310.5 L1368.1,311.5 L1368.1,312.5 L1368.1,313.5 L1368.2,314.5 L1368.2,315.5 L1368.2,316.5 L1368.2,317.5 L1368.3,318.5 L1368.3,319.5 L1368.3,320.5 L1368.3,321.5 L1368.3,322.5 L1368.3,323.5 L1368.3,324.5 L1368.3,325.5 L1368.3,326.5 L1368.3,327.5 L1368.3,328.5 L1368.3,329.5 L1368.3,330.5 L1368.3,331.5 L1368.3,332.5 L1368.3,333.5 L1368.3,334.5 L1368.3,335.5 L1368.3,336.5 L1368.3,337.5 L1368.3,338.5 L1368.3,339.5 L1368.3,340.5 L1368.3,341.5 L1368.3,342.5 L1368.3,343.5 L1368.3,344.5 L1368.3,345.5 L1368.3,346.5 L1368.4,347.5 L1368.5,348.5 L1368.6,349.5 L1368.7,350.5 L1368.8,351.5 L1369.0,352.5 L1369.2,353.5 L1369.3,354.5 L1369.5,355.5 L1369.6,356.5 L1369.8,357.5 L1370.0,358.5 L1370.1,359.5 L1370.3,360.5 L1370.5,361.5 L1370.7,362.5 L1370.9,363.5 L1371.1,364.5 L1371.3,365.5 L1371.5,366.5 L1371.7,367.5 L1371.9,368.5 L1372.1,369.5 L1372.4,370.5 L1372.6,371.5 L1372.8,372.5 L1373.1,373.5 L1373.3,374.5 L1373.5,375.5 L1373.7,376.5 L1373.9,377.5 L1374.2,378.5 L1374.4,379.5 L1374.6,380.5 L1374.8,381.5 L1375.0,382.5 L1375.2,383.5 L1375.4,384.5 L1375.6,385.5 L1375.8,386.5 L1375.9,387.5 L1376.0,388.5 L1376.2,389.5 L1376.3,390.5 L1376.4,391.5 L1376.6,392.5 L1376.7,393.5 L1376.9,394.5 L1377.0,395.5 L1377.2,396.5 L1377.5,397.5 L1377.7,398.5 L1378.0,399.5 L1378.3,400.5 L1378.6,401.5 L1378.9,402.5 L1379.3,403.5 L1379.6,404.5 L1379.9,405.5 L1380.2,406.5 L1380.5,407.5 L1380.8,408.5 L1381.2,409.5 L1381.5,410.5 L1381.8,411.5 L1382.1,412.5 L1382.4,413.5 L1382.7,414.5 L1383.0,415.5 L1383.3,416.5 L1383.6,417.5 L1383.9,418.5 L1384.2,419.5 L1384.5,420.5 L1384.8,421.5 L1385.1,422.5 L1385.3,423.5 L1385.6,424.5 L1385.9,425.5 L1386.2,426.5 L1386.5,427.5 L1386.8,428.5 L1387.0,429.5 L1387.3,430.5 L1387.6,431.5 L1387.8,432.5 L1388.1,433.5 L1388.3,434.5 L1388.6,435.5 L1388.8,436.5 L1389.1,437.5 L1389.3,438.5 L1389.5,439.5 L1389.8,440.5 L1390.0,441.5 L1390.2,442.5 L1390.3,443.5 L1390.5,444.5 L1390.7,445.5 L1390.8,446.5 L1391.0,447.5 L1391.1,448.5 L1391.3,449.5 L1391.4,450.5 L1391.5,451.5 L1391.7,452.5 L1391.8,453.5 L1392.0,454.5 L1392.2,455.5 L1392.3,456.5 L1392.5,457.5 L1392.7,458.5 L1393.0,459.5 L1393.2,460.5 L1393.5,461.5 L1393.8,462.5 L1394.1,463.5 L1394.4,464.5 L1394.8,465.5 L1395.2,466.5 L1395.5,467.5 L1395.9,468.5 L1396.3,469.5 L1396.7,470.5 L1397.1,471.5 L1397.4,472.5 L1397.8,473.5 L1398.1,474.5 L1398.5,475.5 L1398.8,476.5 L1399.2,477.5 L1399.6,478.5 L1399.9,479.5 L1400.2,480.5 L1400.6,481.5 L1400.9,482.5 L1401.2,483.5 L1401.5,484.5 L1401.8,485.5 L1402.1,486.5 L1402.4,487.5 L1402.7,488.5 L1402.9,489.5 L1403.2,490.5 L1403.5,491.5 L1403.7,492.5 L1403.9,493.5 L1404.2,494.5 L1404.4,495.5 L1404.6,496.5 L1404.8,497.5 L1405.0,498.5 L1405.2,499.5 L1405.3,500.5 L1405.4,501.5 L1405.5,502.5 L1405.5,503.5 L1405.5,504.5 L1405.4,505.5 L1405.4,506.5 L1405.2,507.5 L1405.1,508.5 L1405.0,509.5 L1404.8,510.5 L1404.6,511.5 L1404.4,512.5 L1404.2,513.5 L1403.9,514.5 L1403.6,515.5 L1403.3,516.5 L1403.0,517.5 L1402.6,518.5 L1402.3,519.5 L1401.9,520.5 L1401.5,521.5 L1401.0,522.5 L1400.5,523.5 L1399.9,524.5 L1399.3,525.5 L1398.6,526.5 L1397.9,527.5 L1397.1,528.5 L1396.3,529.5 L1395.5,530.5 L1394.7,531.5 L1393.9,532.5 L1393.1,533.5 L1392.3,534.5 L1391.5,535.5 L1390.6,536.5 L1389.7,537.5 L1388.8,538.5 L1388.0,539.5 L1387.1,540.5 L1386.2,541.5 L1385.4,542.5 L1384.6,543.5 L1383.8,544.5 L1383.1,545.5 L1382.3,546.5 L1381.6,547.5 L1381.0,548.5 L1380.3,549.5 L1379.6,550.5 L1379.0,551.5 L1378.4,552.5 L1377.8,553.5 L1377.3,554.5 L1376.7,555.5 L1376.2,556.5 L1375.7,557.5 L1375.3,558.5 L1374.8,559.5 L1374.4,560.5 L1374.0,561.5 L1373.6,562.5 L1373.2,563.5 L1372.9,564.5 L1372.5,565.5 L1372.2,566.5 L1371.9,567.5 L1371.7,568.5 L1371.4,569.5 L1371.2,570.5 L1371.0,571.5 L1370.8,572.5 L1370.6,573.5 L1370.4,574.5 L1370.3,575.5 L1370.1,576.5 L1370.0,577.5 L1369.9,578.5 L1369.8,579.5 L1369.7,580.5 L1369.6,581.5 L1369.5,582.5 L1369.4,583.5 L1369.3,584.5 L1369.2,585.5 L1369.2,586.5 L1369.1,587.5 L1369.1,588.5 L1369.0,589.5 L1369.0,590.5 L1368.9,591.5 L1368.9,592.5 L1368.8,593.5 L1368.8,594.5 L1368.7,595.5 L1368.6,596.5 L1368.6,597.5 L1368.5,598.5 L1368.3,599.5 L1368.2,600.5 L1368.0,601.5 L1367.9,602.5 L1367.7,603.5 L1367.5,604.5 L1367.3,605.5 L1367.2,606.5 L1367.0,607.5 L1366.8,608.5 L1366.7,609.5 L1366.4,610.5 L1365.2,610.5 L1364.9,609.5 L1364.8,608.5 L1364.6,607.5 L1364.4,606.5 L1364.3,605.5 L1364.1,604.5 L1363.9,603.5 L1363.7,602.5 L1363.6,601.5 L1363.4,600.5 L1363.3,599.5 L1363.1,598.5 L1363.0,597.5 L1363.0,596.5 L1362.9,595.5 L1362.8,594.5 L1362.8,593.5 L1362.7,592.5 L1362.7,591.5 L1362.6,590.5 L1362.6,589.5 L1362.5,588.5 L1362.5,587.5 L1362.4,586.5 L1362.4,585.5 L1362.3,584.5 L1362.2,583.5 L1362.1,582.5 L1362.0,581.5 L1361.9,580.5 L1361.8,579.5 L1361.7,578.5 L1361.6,577.5 L1361.5,576.5 L1361.3,575.5 L1361.2,574.5 L1361.0,573.5 L1360.8,572.5 L1360.6,571.5 L1360.4,570.5 L1360.2,569.5 L1359.9,568.5 L1359.7,567.5 L1359.4,566.5 L1359.1,565.5 L1358.7,564.5 L1358.4,563.5 L1358.0,562.5 L1357.6,561.5 L1357.2,560.5 L1356.8,559.5 L1356.3,558.5 L1355.9,557.5 L1355.4,556.5 L1354.9,555.5 L1354.3,554.5 L1353.8,553.5 L1353.2,552.5 L1352.6,551.5 L1352.0,550.5 L1351.3,549.5 L1350.6,548.5 L1350.0,547.5 L1349.3,546.5 L1348.5,545.5 L1347.8,544.5 L1347.0,543.5 L1346.2,542.5 L1345.4,541.5 L1344.5,540.5 L1343.6,539.5 L1342.8,538.5 L1341.9,537.5 L1341.0,536.5 L1340.1,535.5 L1339.3,534.5 L1338.5,533.5 L1337.7,532.5 L1336.9,531.5 L1336.1,530.5 L1335.3,529.5 L1334.5,528.5 L1333.7,527.5 L1333.0,526.5 L1332.3,525.5 L1331.7,524.5 L1331.1,523.5 L1330.6,522.5 L1330.1,521.5 L1329.7,520.5 L1329.3,519.5 L1329.0,518.5 L1328.6,517.5 L1328.3,516.5 L1328.0,515.5 L1327.7,514.5 L1327.4,513.5 L1327.2,512.5 L1327.0,511.5 L1326.8,510.5 L1326.6,509.5 L1326.5,508.5 L1326.4,507.5 L1326.2,506.5 L1326.2,505.5 L1326.1,504.5 L1326.1,503.5 L1326.1,502.5 L1326.2,501.5 L1326.3,500.5 L1326.4,499.5 L1326.6,498.5 L1326.8,497.5 L1327.0,496.5 L1327.2,495.5 L1327.4,494.5 L1327.7,493.5 L1327.9,492.5 L1328.1,491.5 L1328.4,490.5 L1328.7,489.5 L1328.9,488.5 L1329.2,487.5 L1329.5,486.5 L1329.8,485.5 L1330.1,484.5 L1330.4,483.5 L1330.7,482.5 L1331.0,481.5 L1331.4,480.5 L1331.7,479.5 L1332.0,478.5 L1332.4,477.5 L1332.8,476.5 L1333.1,475.5 L1333.5,474.5 L1333.8,473.5 L1334.2,472.5 L1334.5,471.5 L1334.9,470.5 L1335.3,469.5 L1335.7,468.5 L1336.1,467.5 L1336.4,466.5 L1336.8,465.5 L1337.2,464.5 L1337.5,463.5 L1337.8,462.5 L1338.1,461.5 L1338.4,460.5 L1338.6,459.5 L1338.9,458.5 L1339.1,457.5 L1339.3,456.5 L1339.4,455.5 L1339.6,454.5 L1339.8,453.5 L1339.9,452.5 L1340.1,451.5 L1340.2,450.5 L1340.3,449.5 L1340.5,448.5 L1340.6,447.5 L1340.8,446.5 L1340.9,445.5 L1341.1,444.5 L1341.3,443.5 L1341.4,442.5 L1341.6,441.5 L1341.8,440.5 L1342.1,439.5 L1342.3,438.5 L1342.5,437.5 L1342.8,436.5 L1343.0,435.5 L1343.3,434.5 L1343.5,433.5 L1343.8,432.5 L1344.0,431.5 L1344.3,430.5 L1344.6,429.5 L1344.8,428.5 L1345.1,427.5 L1345.4,426.5 L1345.7,425.5 L1346.0,424.5 L1346.3,423.5 L1346.5,422.5 L1346.8,421.5 L1347.1,420.5 L1347.4,419.5 L1347.7,418.5 L1348.0,417.5 L1348.3,416.5 L1348.6,415.5 L1348.9,414.5 L1349.2,413.5 L1349.5,412.5 L1349.8,411.5 L1350.1,410.5 L1350.4,409.5 L1350.8,408.5 L1351.1,407.5 L1351.4,406.5 L1351.7,405.5 L1352.0,404.5 L1352.3,403.5 L1352.7,402.5 L1353.0,401.5 L1353.3,400.5 L1353.6,399.5 L1353.9,398.5 L1354.1,397.5 L1354.4,396.5 L1354.6,395.5 L1354.7,394.5 L1354.9,393.5 L1355.0,392.5 L1355.2,391.5 L1355.3,390.5 L1355.4,389.5 L1355.6,388.5 L1355.7,387.5 L1355.8,386.5 L1356.0,385.5 L1356.2,384.5 L1356.4,383.5 L1356.6,382.5 L1356.8,381.5 L1357.0,380.5 L1357.2,379.5 L1357.4,378.5 L1357.7,377.5 L1357.9,376.5 L1358.1,375.5 L1358.3,374.5 L1358.5,373.5 L1358.8,372.5 L1359.0,371.5 L1359.2,370.5 L1359.5,369.5 L1359.7,368.5 L1359.9,367.5 L1360.1,366.5 L1360.3,365.5 L1360.5,364.5 L1360.7,363.5 L1360.9,362.5 L1361.1,361.5 L1361.3,360.5 L1361.5,359.5 L1361.6,358.5 L1361.8,357.5 L1362.0,356.5 L1362.1,355.5 L1362.3,354.5 L1362.4,353.5 L1362.6,352.5 L1362.8,351.5 L1362.9,350.5 L1363.0,349.5 L1363.1,348.5 L1363.2,347.5 L1363.3,346.5 L1363.3,345.5 L1363.3,344.5 L1363.3,343.5 L1363.3,342.5 L1363.3,341.5 L1363.3,340.5 L1363.3,339.5 L1363.3,338.5 L1363.3,337.5 L1363.3,336.5 L1363.3,335.5 L1363.3,334.5 L1363.3,333.5 L1363.3,332.5 L1363.3,331.5 L1363.3,330.5 L1363.3,329.5 L1363.3,328.5 L1363.3,327.5 L1363.3,326.5 L1363.3,325.5 L1363.3,324.5 L1363.3,323.5 L1363.3,322.5 L1363.3,321.5 L1363.3,320.5 L1363.3,319.5 L1363.3,318.5 L1363.4,317.5 L1363.4,316.5 L1363.4,315.5 L1363.4,314.5 L1363.5,313.5 L1363.5,312.5 L1363.5,311.5 L1363.6,310.5 L1363.6,309.5 L1363.7,308.5 L1363.8,307.5 L1364.0,306.5 L1364.2,305.5 L1364.5,304.5 Z" fill="#ffb90f" stroke="#000" stroke-width="1.5" stroke-linejoin="round"/>
<line x1="1365.8" y1="385.4" x2="1365.8" y2="443.6" stroke="#000" stroke-width="3"/>
<line x1="1365.8" y1="521.6" x2="1365.8" y2="586.0" stroke="#000" stroke-width="3"/>
<line x1="1354.3" y1="385.4" x2="1377.3" y2="385.4" stroke="#000" stroke-width="3"/>
<line x1="1354.3" y1="586.0" x2="1377.3" y2="586.0" stroke="#000" stroke-width="3"/>
<rect x="1342.8" y="445.1" width="46.0" height="75.0" fill="#ff7f00" stroke="#000" stroke-width="3"/>
<line x1="1342.8" y1="489.3" x2="1388.8" y2="489.3" stroke="#000" stroke-width="3.8"/>
<circle cx="1366.4" cy="328.0" r="4.8" fill="#000"/>
<line x1="1465.3" y1="260.8" x2="1465.3" y2="643.5" stroke="#000" stroke-width="1.6"/>
<path d="M1466.6,290.5 L1466.8,291.5 L1467.1,292.5 L1467.3,293.5 L1467.4,294.5 L1467.5,295.5 L1467.5,296.5 L1467.6,297.5 L1467.6,298.5 L1467.7,299.5 L1467.8,300.5 L1467.8,301.5 L1467.9,302.5 L1468.0,303.5 L1468.1,304.5 L1468.2,305.5 L1468.3,306.5 L1468.4,307.5 L1468.5,308.5 L1468.5,309.5 L1468.6,310.5 L1468.6,311.5 L1468.6,312.5 L1468.6,313.5 L1468.6,314.5 L1468.6,315.5 L1468.6,316.5 L1468.6,317.5 L1468.6,318.5 L1468.6,319.5 L1468.6,320.5 L1468.5,321.5 L1468.5,322.5 L1468.4,323.5 L1468.3,324.5 L1468.3,325.5 L1468.2,326.5 L1468.1,327.5 L1468.0,328.5 L1467.9,329.5 L1467.8,330.5 L1467.7,331.5 L1467.6,332.5 L1467.5,333.5 L1467.5,334.5 L1467.4,335.5 L1467.3,336.5 L1467.2,337.5 L1467.1,338.5 L1467.1,339.5 L1467.0,340.5 L1467.0,341.5 L1466.9,342.5 L1466.9,343.5 L1466.8,344.5 L1466.8,345.5 L1466.7,346.5 L1466.7,347.5 L1466.7,348.5 L1466.6,349.5 L1466.6,350.5 L1466.6,351.5 L1466.6,352.5 L1466.5,353.5 L1466.5,354.5 L1466.5,355.5 L1466.5,356.5 L1466.5,357.5 L1466.6,358.5 L1466.7,359.5 L1466.8,360.5 L1467.0,361.5 L1467.1,362.5 L1467.3,363.5 L1467.5,364.5 L1467.8,365.5 L1468.0,366.5 L1468.3,367.5 L1468.6,368.5 L1468.9,369.5 L1469.2,370.5 L1469.5,371.5 L1469.8,372.5 L1470.1,373.5 L1470.4,374.5 L1470.8,375.5 L1471.1,376.5 L1471.4,377.5 L1471.8,378.5 L1472.1,379.5 L1472.5,380.5 L1472.8,381.5 L1473.1,382.5 L1473.4,383.5 L1473.7,384.5 L1474.0,385.5 L1474.2,386.5 L1474.5,387.5 L1474.7,388.5 L1475.0,389.5 L1475.2,390.5 L1475.5,391.5 L1475.7,392.5 L1476.0,393.5 L1476.2,394.5 L1476.5,395.5 L1476.9,396.5 L1477.3,397.5 L1477.7,398.5 L1478.2,399.5 L1478.8,400.5 L1479.3,401.5 L1479.8,402.5 L1480.3,403.5 L1480.8,404.5 L1481.3,405.5 L1481.8,406.5 L1482.2,407.5 L1482.7,408.5 L1483.1,409.5 L1483.6,410.5 L1484.0,411.5 L1484.4,412.5 L1484.8,413.5 L1485.1,414.5 L1485.5,415.5 L1485.7,416.5 L1486.0,417.5 L1486.3,418.5 L1486.5,419.5 L1486.8,420.5 L1487.0,421.5 L1487.2,422.5 L1487.4,423.5 L1487.6,424.5 L1487.8,425.5 L1488.0,426.5 L1488.2,427.5 L1488.3,428.5 L1488.5,429.5 L1488.6,430.5 L1488.8,431.5 L1488.9,432.5 L1489.0,433.5 L1489.2,434.5 L1489.3,435.5 L1489.4,436.5 L1489.5,437.5 L1489.7,438.5 L1489.8,439.5 L1489.9,440.5 L1490.1,441.5 L1490.2,442.5 L1490.4,443.5 L1490.5,444.5 L1490.7,445.5 L1490.8,446.5 L1491.0,447.5 L1491.1,448.5 L1491.3,449.5 L1491.5,450.5 L1491.6,451.5 L1491.8,452.5 L1492.0,453.5 L1492.2,454.5 L1492.4,455.5 L1492.6,456.5 L1492.9,457.5 L1493.1,458.5 L1493.4,459.5 L1493.6,460.5 L1493.9,461.5 L1494.3,462.5 L1494.7,463.5 L1495.2,464.5 L1495.7,465.5 L1496.2,466.5 L1496.8,467.5 L1497.4,468.5 L1498.0,469.5 L1498.6,470.5 L1499.1,471.5 L1499.7,472.5 L1500.2,473.5 L1500.7,474.5 L1501.2,475.5 L1501.6,476.5 L1502.1,477.5 L1502.5,478.5 L1503.0,479.5 L1503.4,480.5 L1503.8,481.5 L1504.2,482.5 L1504.6,483.5 L1505.0,484.5 L1505.4,485.5 L1505.8,486.5 L1506.2,487.5 L1506.6,488.5 L1507.0,489.5 L1507.3,490.5 L1507.7,491.5 L1508.0,492.5 L1508.4,493.5 L1508.6,494.5 L1508.9,495.5 L1509.2,496.5 L1509.4,497.5 L1509.6,498.5 L1509.8,499.5 L1509.9,500.5 L1509.9,501.5 L1509.8,502.5 L1509.7,503.5 L1509.4,504.5 L1509.2,505.5 L1508.8,506.5 L1508.5,507.5 L1508.2,508.5 L1507.9,509.5 L1507.6,510.5 L1507.2,511.5 L1506.9,512.5 L1506.5,513.5 L1506.1,514.5 L1505.7,515.5 L1505.3,516.5 L1504.9,517.5 L1504.4,518.5 L1504.0,519.5 L1503.5,520.5 L1502.9,521.5 L1502.4,522.5 L1501.8,523.5 L1501.2,524.5 L1500.5,525.5 L1499.9,526.5 L1499.2,527.5 L1498.5,528.5 L1497.8,529.5 L1497.0,530.5 L1496.3,531.5 L1495.5,532.5 L1494.8,533.5 L1494.0,534.5 L1493.1,535.5 L1492.3,536.5 L1491.4,537.5 L1490.6,538.5 L1489.7,539.5 L1488.9,540.5 L1488.0,541.5 L1487.2,542.5 L1486.3,543.5 L1485.5,544.5 L1484.6,545.5 L1483.8,546.5 L1483.0,547.5 L1482.1,548.5 L1481.3,549.5 L1480.5,550.5 L1479.8,551.5 L1479.0,552.5 L1478.4,553.5 L1477.7,554.5 L1477.1,555.5 L1476.5,556.5 L1475.9,557.5 L1475.3,558.5 L1474.8,559.5 L1474.3,560.5 L1473.8,561.5 L1473.3,562.5 L1472.9,563.5 L1472.5,564.5 L1472.2,565.5 L1471.8,566.5 L1471.5,567.5 L1471.2,568.5 L1471.0,569.5 L1470.7,570.5 L1470.5,571.5 L1470.3,572.5 L1470.0,573.5 L1469.9,574.5 L1469.7,575.5 L1469.5,576.5 L1469.4,577.5 L1469.3,578.5 L1469.2,579.5 L1469.0,580.5 L1469.0,581.5 L1468.9,582.5 L1468.8,583.5 L1468.7,584.5 L1468.6,585.5 L1468.6,586.5 L1468.5,587.5 L1468.5,588.5 L1468.4,589.5 L1468.4,590.5 L1468.3,591.5 L1468.3,592.5 L1468.2,593.5 L1468.2,594.5 L1468.1,595.5 L1468.0,596.5 L1467.9,597.5 L1467.8,598.5 L1467.7,599.5 L1467.6,600.5 L1467.5,601.5 L1467.4,602.5 L1467.3,603.5 L1467.2,604.5 L1467.1,605.5 L1466.9,606.5 L1466.8,607.5 L1466.7,608.5 L1466.6,609.5 L1466.4,610.5 L1466.3,611.5 L1466.2,612.5 L1466.1,613.5 L1465.9,614.3 L1464.7,614.3 L1464.5,613.5 L1464.4,612.5 L1464.3,611.5 L1464.2,610.5 L1464.0,609.5 L1463.9,608.5 L1463.8,607.5 L1463.7,606.5 L1463.5,605.5 L1463.4,604.5 L1463.3,603.5 L1463.2,602.5 L1463.1,601.5 L1463.0,600.5 L1462.9,599.5 L1462.8,598.5 L1462.7,597.5 L1462.6,596.5 L1462.5,595.5 L1462.4,594.5 L1462.4,593.5 L1462.3,592.5 L1462.3,591.5 L1462.2,590.5 L1462.2,589.5 L1462.1,588.5 L1462.1,587.5 L1462.0,586.5 L1462.0,585.5 L1461.9,584.5 L1461.8,583.5 L1461.7,582.5 L1461.6,581.5 L1461.6,580.5 L1461.4,579.5 L1461.3,578.5 L1461.2,577.5 L1461.1,576.5 L1460.9,575.5 L1460.7,574.5 L1460.6,573.5 L1460.3,572.5 L1460.1,571.5 L1459.9,570.5 L1459.6,569.5 L1459.4,568.5 L1459.1,567.5 L1458.8,566.5 L1458.4,565.5 L1458.1,564.5 L1457.7,563.5 L1457.3,562.5 L1456.8,561.5 L1456.3,560.5 L1455.8,559.5 L1455.3,558.5 L1454.7,557.5 L1454.1,556.5 L1453.5,555.5 L1452.9,554.5 L1452.2,553.5 L1451.6,552.5 L1450.8,551.5 L1450.1,550.5 L1449.3,549.5 L1448.5,548.5 L1447.6,547.5 L1446.8,546.5 L1446.0,545.5 L1445.1,544.5 L1444.3,543.5 L1443.4,542.5 L1442.6,541.5 L1441.7,540.5 L1440.9,539.5 L1440.0,538.5 L1439.2,537.5 L1438.3,536.5 L1437.5,535.5 L1436.6,534.5 L1435.8,533.5 L1435.1,532.5 L1434.3,531.5 L1433.6,530.5 L1432.8,529.5 L1432.1,528.5 L1431.4,527.5 L1430.7,526.5 L1430.1,525.5 L1429.4,524.5 L1428.8,523.5 L1428.2,522.5 L1427.7,521.5 L1427.1,520.5 L1426.6,519.5 L1426.2,518.5 L1425.7,517.5 L1425.3,516.5 L1424.9,515.5 L1424.5,514.5 L1424.1,513.5 L1423.7,512.5 L1423.4,511.5 L1423.0,510.5 L1422.7,509.5 L1422.4,508.5 L1422.1,507.5 L1421.8,506.5 L1421.4,505.5 L1421.2,504.5 L1420.9,503.5 L1420.8,502.5 L1420.7,501.5 L1420.7,500.5 L1420.8,499.5 L1421.0,498.5 L1421.2,497.5 L1421.4,496.5 L1421.7,495.5 L1422.0,494.5 L1422.2,493.5 L1422.6,492.5 L1422.9,491.5 L1423.3,490.5 L1423.6,489.5 L1424.0,488.5 L1424.4,487.5 L1424.8,486.5 L1425.2,485.5 L1425.6,484.5 L1426.0,483.5 L1426.4,482.5 L1426.8,481.5 L1427.2,480.5 L1427.6,479.5 L1428.1,478.5 L1428.5,477.5 L1429.0,476.5 L1429.4,475.5 L1429.9,474.5 L1430.4,473.5 L1430.9,472.5 L1431.5,471.5 L1432.0,470.5 L1432.6,469.5 L1433.2,468.5 L1433.8,467.5 L1434.4,466.5 L1434.9,465.5 L1435.4,464.5 L1435.9,463.5 L1436.3,462.5 L1436.7,461.5 L1437.0,460.5 L1437.2,459.5 L1437.5,458.5 L1437.7,457.5 L1438.0,456.5 L1438.2,455.5 L1438.4,454.5 L1438.6,453.5 L1438.8,452.5 L1439.0,451.5 L1439.1,450.5 L1439.3,449.5 L1439.5,448.5 L1439.6,447.5 L1439.8,446.5 L1439.9,445.5 L1440.1,444.5 L1440.2,443.5 L1440.4,442.5 L1440.5,441.5 L1440.7,440.5 L1440.8,439.5 L1440.9,438.5 L1441.1,437.5 L1441.2,436.5 L1441.3,435.5 L1441.4,434.5 L1441.6,433.5 L1441.7,432.5 L1441.8,431.5 L1442.0,430.5 L1442.1,429.5 L1442.3,428.5 L1442.4,427.5 L1442.6,426.5 L1442.8,425.5 L1443.0,424.5 L1443.2,423.5 L1443.4,422.5 L1443.6,421.5 L1443.8,420.5 L1444.1,419.5 L1444.3,418.5 L1444.6,417.5 L1444.9,416.5 L1445.1,415.5 L1445.5,414.5 L1445.8,413.5 L1446.2,412.5 L1446.6,411.5 L1447.0,410.5 L1447.5,409.5 L1447.9,408.5 L1448.4,407.5 L1448.8,406.5 L1449.3,405.5 L1449.8,404.5 L1450.3,403.5 L1450.8,402.5 L1451.3,401.5 L1451.8,400.5 L1452.4,399.5 L1452.9,398.5 L1453.3,397.5 L1453.7,396.5 L1454.1,395.5 L1454.4,394.5 L1454.6,393.5 L1454.9,392.5 L1455.1,391.5 L1455.4,390.5 L1455.6,389.5 L1455.9,388.5 L1456.1,387.5 L1456.4,386.5 L1456.6,385.5 L1456.9,384.5 L1457.2,383.5 L1457.5,382.5 L1457.8,381.5 L1458.1,380.5 L1458.5,379.5 L1458.8,378.5 L1459.2,377.5 L1459.5,376.5 L1459.8,375.5 L1460.2,374.5 L1460.5,373.5 L1460.8,372.5 L1461.1,371.5 L1461.4,370.5 L1461.7,369.5 L1462.0,368.5 L1462.3,367.5 L1462.6,366.5 L1462.8,365.5 L1463.1,364.5 L1463.3,363.5 L1463.5,362.5 L1463.6,361.5 L1463.8,360.5 L1463.9,359.5 L1464.0,358.5 L1464.1,357.5 L1464.1,356.5 L1464.1,355.5 L1464.1,354.5 L1464.1,353.5 L1464.0,352.5 L1464.0,351.5 L1464.0,350.5 L1464.0,349.5 L1463.9,348.5 L1463.9,347.5 L1463.9,346.5 L1463.8,345.5 L1463.8,344.5 L1463.7,343.5 L1463.7,342.5 L1463.6,341.5 L1463.6,340.5 L1463.5,339.5 L1463.5,338.5 L1463.4,337.5 L1463.3,336.5 L1463.2,335.5 L1463.1,334.5 L1463.1,333.5 L1463.0,332.5 L1462.9,331.5 L1462.8,330.5 L1462.7,329.5 L1462.6,328.5 L1462.5,327.5 L1462.4,326.5 L1462.3,325.5 L1462.3,324.5 L1462.2,323.5 L1462.1,322.5 L1462.1,321.5 L1462.0,320.5 L1462.0,319.5 L1462.0,318.5 L1462.0,317.5 L1462.0,316.5 L1462.0,315.5 L1462.0,314.5 L1462.0,313.5 L1462.0,312.5 L1462.0,311.5 L1462.0,310.5 L1462.1,309.5 L1462.1,308.5 L1462.2,307.5 L1462.3,306.5 L1462.4,305.5 L1462.5,304.5 L1462.6,303.5 L1462.7,302.5 L1462.8,301.5 L1462.8,300.5 L1462.9,299.5 L1463.0,298.5 L1463.0,297.5 L1463.1,296.5 L1463.1,295.5 L1463.2,294.5 L1463.3,293.5 L1463.5,292.5 L1463.8,291.5 L1464.0,290.5 Z" fill="#5cb0f2" stroke="#000" stroke-width="1.5" stroke-linejoin="round"/>
<line x1="1465.3" y1="401.9" x2="1465.3" y2="447.0" stroke="#000" stroke-width="3"/>
<line x1="1465.3" y1="518.2" x2="1465.3" y2="584.5" stroke="#000" stroke-width="3"/>
<line x1="1453.0" y1="401.9" x2="1477.6" y2="401.9" stroke="#000" stroke-width="3"/>
<line x1="1453.0" y1="584.5" x2="1477.6" y2="584.5" stroke="#000" stroke-width="3"/>
<rect x="1440.3" y="448.5" width="50.0" height="68.2" fill="#436eee" stroke="#000" stroke-width="3"/>
<line x1="1440.3" y1="491.0" x2="1490.3" y2="491.0" stroke="#000" stroke-width="3.8"/>
<circle cx="1465.9" cy="319.7" r="4.8" fill="#000"/>
<rect x="195" y="160" width="1333" height="539.6" fill="none" stroke="#111" stroke-width="2"/>
<line x1="509" y1="160" x2="509" y2="699.3" stroke="#222" stroke-width="2"/>
<line x1="780.5" y1="160" x2="780.5" y2="699.3" stroke="#111" stroke-width="3"/>
<line x1="1137.3" y1="160" x2="1137.3" y2="699.3" stroke="#222" stroke-width="2"/>
<path d="M286.1,190 V177 H463.3 V206.3" fill="none" stroke="#222" stroke-width="2"/>
<path d="M374,205 V192 H463.3" fill="none" stroke="#222" stroke-width="2"/>
<text transform="translate(376.9,183.4) scale(1,0.93)" font-size="30.5" letter-spacing="1.6" fill="#111" text-anchor="middle">***</text>
<text transform="translate(415.6,200.9) scale(1,0.93)" font-size="30.5" letter-spacing="1.6" fill="#111" text-anchor="middle">***</text>
<line x1="283.1" y1="699.6" x2="283.1" y2="712.8" stroke="#111" stroke-width="2"/>
<text transform="translate(296.6,750.3) rotate(-39)" font-size="31.5" font-style="italic" fill="#1a1a1a" text-anchor="end">Anger</text>
<line x1="374.5" y1="699.6" x2="374.5" y2="712.8" stroke="#111" stroke-width="2"/>
<text transform="translate(384.0,751.5) rotate(-39)" font-size="31.5" font-style="italic" fill="#1a1a1a" text-anchor="end">Fear</text>
<line x1="461.3" y1="699.6" x2="461.3" y2="712.8" stroke="#111" stroke-width="2"/>
<text transform="translate(475.8,746.6) rotate(-39)" font-size="31.5" font-style="italic" fill="#1a1a1a" text-anchor="end">Happiness</text>
<line x1="553.3" y1="699.6" x2="553.3" y2="712.8" stroke="#111" stroke-width="2"/>
<text transform="translate(561.8,748.5) rotate(-39)" font-size="31.5" font-style="italic" fill="#1a1a1a" text-anchor="end">Anger</text>
<line x1="642.2" y1="699.6" x2="642.2" y2="712.8" stroke="#111" stroke-width="2"/>
<text transform="translate(651.5,747.4) rotate(-39)" font-size="31.5" font-style="italic" fill="#1a1a1a" text-anchor="end">Fear</text>
<line x1="731.7" y1="699.6" x2="731.7" y2="712.8" stroke="#111" stroke-width="2"/>
<text transform="translate(740.6,744.8) rotate(-39)" font-size="31.5" font-style="italic" fill="#1a1a1a" text-anchor="end">Happiness</text>
<line x1="825.5" y1="699.6" x2="825.5" y2="712.8" stroke="#111" stroke-width="2"/>
<text transform="translate(832.3,747.5) rotate(-39)" font-size="31.5" font-style="italic" fill="#1a1a1a" text-anchor="end">Anger</text>
<line x1="914.6" y1="699.6" x2="914.6" y2="712.8" stroke="#111" stroke-width="2"/>
<text transform="translate(927.0,744.8) rotate(-39)" font-size="31.5" font-style="italic" fill="#1a1a1a" text-anchor="end">Fear</text>
<line x1="1005.0" y1="699.6" x2="1005.0" y2="712.8" stroke="#111" stroke-width="2"/>
<text transform="translate(1014.9,744.2) rotate(-39)" font-size="31.5" font-style="italic" fill="#1a1a1a" text-anchor="end">Happiness</text>
<line x1="1096.1" y1="699.6" x2="1096.1" y2="712.8" stroke="#111" stroke-width="2"/>
<text transform="translate(1111.4,750.7) rotate(-39)" font-size="31.5" font-style="italic" fill="#1a1a1a" text-anchor="end">Neutral</text>
<line x1="1184.9" y1="699.6" x2="1184.9" y2="712.8" stroke="#111" stroke-width="2"/>
<text transform="translate(1199.0,750.9) rotate(-39)" font-size="31.5" font-style="italic" fill="#1a1a1a" text-anchor="end">Anger</text>
<line x1="1276.3" y1="699.6" x2="1276.3" y2="712.8" stroke="#111" stroke-width="2"/>
<text transform="translate(1293.8,746.5) rotate(-39)" font-size="31.5" font-style="italic" fill="#1a1a1a" text-anchor="end">Fear</text>
<line x1="1365.5" y1="699.6" x2="1365.5" y2="712.8" stroke="#111" stroke-width="2"/>
<text transform="translate(1379.4,742.4) rotate(-39)" font-size="31.5" font-style="italic" fill="#1a1a1a" text-anchor="end">Happiness</text>
<line x1="1464.7" y1="699.6" x2="1464.7" y2="712.8" stroke="#111" stroke-width="2"/>
<text transform="translate(1483.8,753.0) rotate(-39)" font-size="31.5" font-style="italic" fill="#1a1a1a" text-anchor="end">Neutral</text>
</svg>
</body></html>
